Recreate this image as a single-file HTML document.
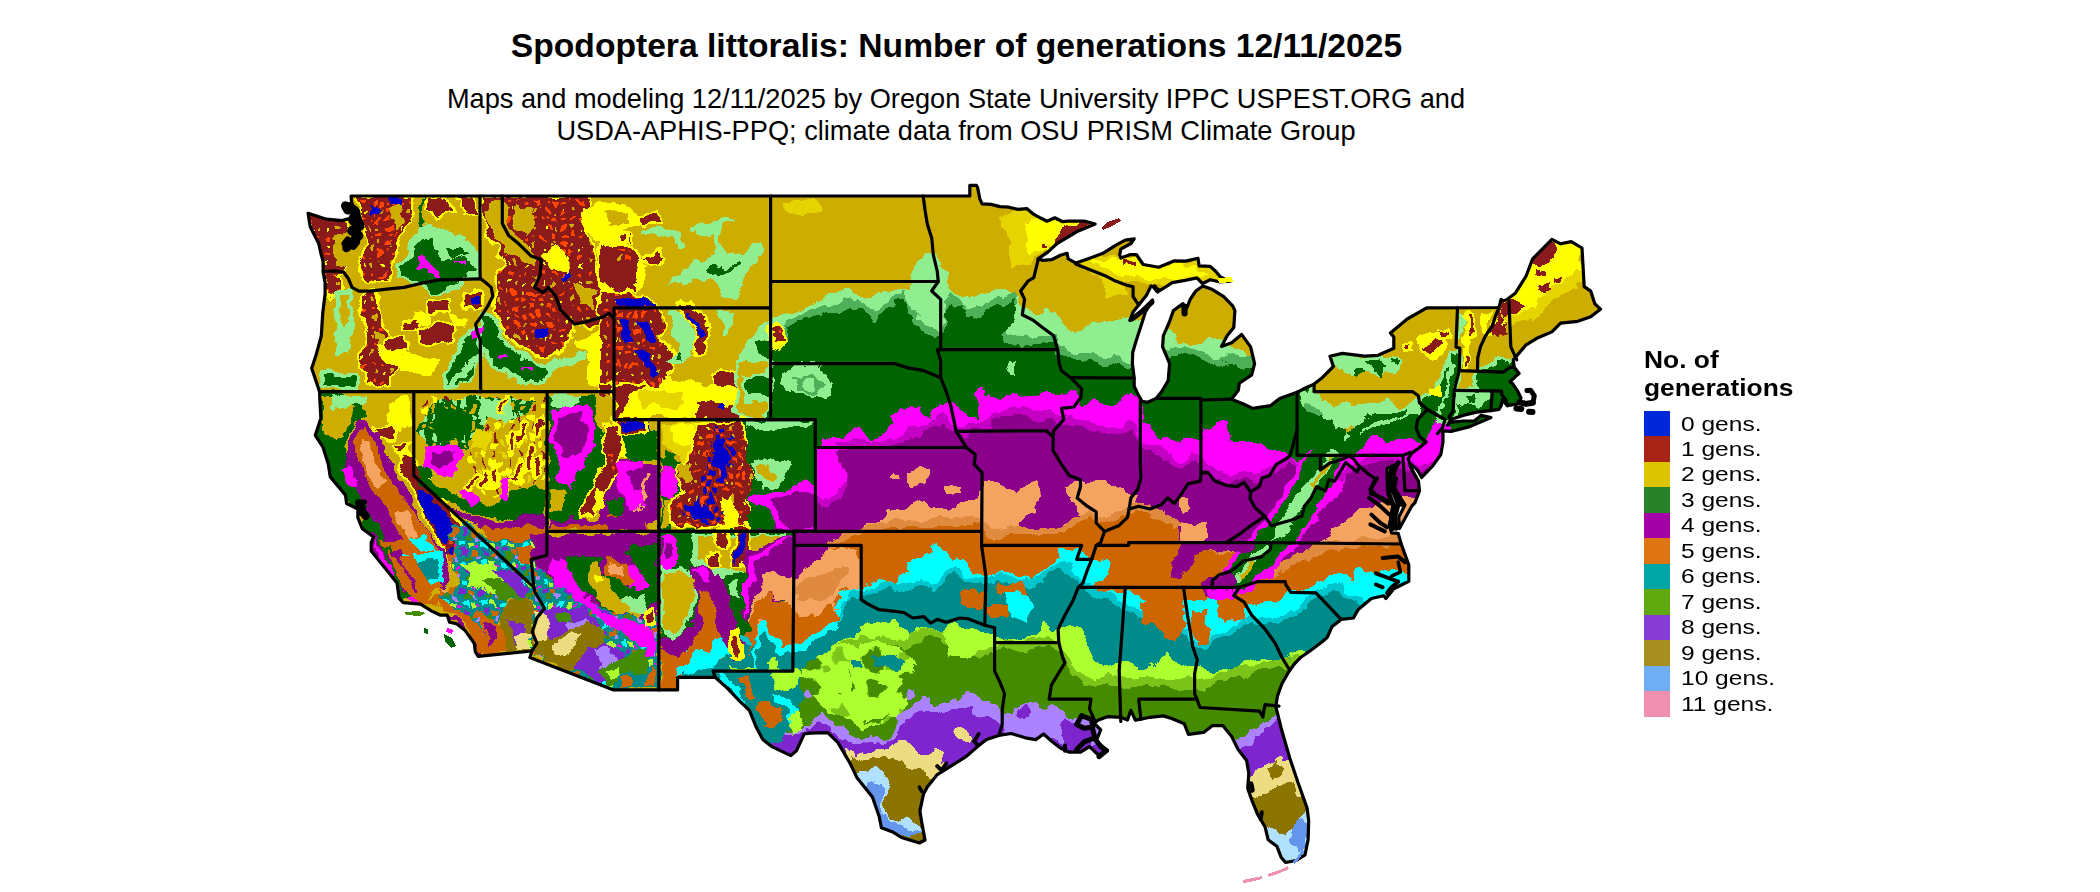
<!DOCTYPE html>
<html><head><meta charset="utf-8"><title>Spodoptera littoralis: Number of generations</title>
<style>
html,body{margin:0;padding:0;background:#fff;}
body{width:2100px;height:892px;position:relative;overflow:hidden;font-family:"Liberation Sans",sans-serif;color:#000;}
#title{position:absolute;left:0;width:1913px;top:27px;text-align:center;font-weight:bold;font-size:33.63px;line-height:38px;white-space:nowrap;}
#sub{position:absolute;left:0;width:1912px;top:83px;text-align:center;font-size:27.2px;line-height:31.9px;white-space:nowrap;}
#legt{position:absolute;left:1644px;top:346px;font-weight:bold;font-size:24.2px;line-height:27.7px;transform:scaleX(1.09);transform-origin:0 0;white-space:nowrap;}
.sw{position:absolute;left:1644px;width:26px;height:26px;}
.lb{position:absolute;left:1680.5px;font-size:19.8px;line-height:26px;white-space:nowrap;transform:scaleX(1.24);transform-origin:0 0;}
svg{position:absolute;left:0;top:0;}
</style></head><body>
<div id="title">Spodoptera littoralis: Number of generations 12/11/2025</div>
<div id="sub">Maps and modeling 12/11/2025 by Oregon State University IPPC USPEST.ORG and<br>USDA-APHIS-PPQ; climate data from OSU PRISM Climate Group</div>
<div id="legt">No. of<br>generations</div>

<div class="sw" style="top:411.0px;background:#0028d9"></div><div class="lb" style="top:410.5px">0 gens.</div>
<div class="sw" style="top:436.4px;background:#a62315"></div><div class="lb" style="top:435.9px">1 gens.</div>
<div class="sw" style="top:461.9px;background:#dcc400"></div><div class="lb" style="top:461.4px">2 gens.</div>
<div class="sw" style="top:487.4px;background:#27822a"></div><div class="lb" style="top:486.9px">3 gens.</div>
<div class="sw" style="top:512.8px;background:#a400a8"></div><div class="lb" style="top:512.3px">4 gens.</div>
<div class="sw" style="top:538.2px;background:#de7512"></div><div class="lb" style="top:537.8px">5 gens.</div>
<div class="sw" style="top:563.7px;background:#00a6a6"></div><div class="lb" style="top:563.2px">6 gens.</div>
<div class="sw" style="top:589.1px;background:#5fa80e"></div><div class="lb" style="top:588.6px">7 gens.</div>
<div class="sw" style="top:614.6px;background:#873cd6"></div><div class="lb" style="top:614.1px">8 gens.</div>
<div class="sw" style="top:640.0px;background:#a68f1f"></div><div class="lb" style="top:639.5px">9 gens.</div>
<div class="sw" style="top:665.5px;background:#6faef2"></div><div class="lb" style="top:665.0px">10 gens.</div>
<div class="sw" style="top:691.0px;background:#f08fb0"></div><div class="lb" style="top:690.5px">11 gens.</div>
<svg width="2100" height="892" viewBox="0 0 2100 892">
<defs><filter id="rough" x="280" y="160" width="1360" height="740" filterUnits="userSpaceOnUse" color-interpolation-filters="sRGB"><feTurbulence type="fractalNoise" baseFrequency="0.06" numOctaves="3" seed="7" result="n"/><feDisplacementMap in="SourceGraphic" in2="n" scale="14" xChannelSelector="R" yChannelSelector="G"/></filter><pattern id="pm" width="16" height="16" patternUnits="userSpaceOnUse"><rect width="16" height="16" fill="#8b1a1a"/><rect x="1" y="2" width="6" height="4" fill="#ff4500"/><rect x="9" y="9" width="5" height="5" fill="#ff4500"/><rect x="3" y="10" width="3" height="3" fill="#ff4500"/><rect x="11" y="2" width="2" height="3" fill="#cdad00"/></pattern><pattern id="pd" width="18" height="18" patternUnits="userSpaceOnUse"><rect width="18" height="18" fill="#8b1a1a"/><rect x="2" y="3" width="4" height="3" fill="#ff4500"/><rect x="11" y="10" width="3" height="4" fill="#cdad00"/><rect x="12" y="2" width="3" height="2" fill="#ff4500"/><rect x="4" y="12" width="2" height="3" fill="#ffff00"/></pattern><pattern id="pb" width="14" height="14" patternUnits="userSpaceOnUse"><rect width="14" height="14" fill="#8b1a1a"/><rect x="1" y="1" width="6" height="5" fill="#0000cd"/><rect x="8" y="7" width="5" height="6" fill="#0000cd"/><rect x="8" y="1" width="4" height="4" fill="#ff4500"/><rect x="1" y="8" width="5" height="4" fill="#ff4500"/></pattern><pattern id="pc" width="20" height="20" patternUnits="userSpaceOnUse"><rect width="20" height="20" fill="#008b8b"/><rect x="1" y="1" width="6" height="5" fill="#00ffff"/><rect x="9" y="2" width="6" height="5" fill="#adff2f"/><rect x="2" y="9" width="6" height="5" fill="#7d26cd"/><rect x="11" y="10" width="6" height="5" fill="#cd6600"/><rect x="6" y="15" width="6" height="4" fill="#458b00"/><rect x="15" y="15" width="4" height="4" fill="#ab82ff"/><rect x="16" y="5" width="3" height="3" fill="#ff00ff"/></pattern><pattern id="pn" width="24" height="18" patternUnits="userSpaceOnUse"><rect width="24" height="18" fill="#cdad00"/><rect x="1" y="1" width="6" height="7" fill="#ffff00"/><rect x="13" y="9" width="5" height="7" fill="#ffff00"/><rect x="15" y="1" width="2" height="6" fill="#8b1a1a"/><rect x="5" y="10" width="2" height="6" fill="#8b1a1a"/><rect x="20" y="4" width="3" height="8" fill="#e6d400"/></pattern><pattern id="pu" width="18" height="18" patternUnits="userSpaceOnUse"><rect width="18" height="18" fill="#006400"/><rect x="1" y="1" width="6" height="6" fill="#ff00ff"/><rect x="10" y="9" width="6" height="6" fill="#8b008b"/><rect x="10" y="1" width="5" height="4" fill="#90ee90"/><rect x="2" y="11" width="4" height="4" fill="#cdad00"/></pattern><pattern id="pg" width="20" height="18" patternUnits="userSpaceOnUse"><rect width="20" height="18" fill="#006400"/><rect x="1" y="0" width="5" height="9" fill="#90ee90"/><rect x="11" y="8" width="5" height="9" fill="#cdad00"/><rect x="13" y="1" width="4" height="5" fill="#90ee90"/><rect x="4" y="11" width="3" height="5" fill="#cdad00"/></pattern><pattern id="pt" width="66" height="54" patternUnits="userSpaceOnUse"><rect width="66" height="54" fill="#adff2f"/><polygon points="4,6 22,2 31,13 22,25 7,21" fill="#458b00"/><polygon points="38,28 58,24 63,40 47,49 36,41" fill="#458b00"/><polygon points="40,4 54,2 58,13 45,16" fill="#7cc41a"/><polygon points="8,33 24,30 27,45 11,48" fill="#458b00"/><polygon points="28,16 36,18 34,26 27,24" fill="#7cc41a"/></pattern><clipPath id="us"><polygon points="351.1,196.0 969.8,196.0 969.8,185.4 976.5,185.4 977.6,187.6 979.8,198.8 982.1,203.8 991.0,204.4 1000.0,206.6 1008.9,207.2 1017.9,209.4 1026.8,208.6 1033.5,214.2 1040.2,217.8 1047.0,221.2 1054.8,217.8 1062.6,221.7 1068.2,221.2 1085.0,221.2 1095.1,224.0 1078.3,230.9 1057.0,243.5 1048.1,251.9 1038.0,258.9 1042.5,260.3 1051.4,259.7 1060.4,255.3 1067.1,253.3 1068.2,258.9 1076.0,263.1 1091.7,257.5 1102.9,253.3 1116.3,244.9 1125.3,240.2 1134.2,238.8 1130.9,243.5 1120.8,249.1 1119.7,254.7 1120.8,258.0 1129.8,254.7 1136.5,254.7 1143.2,264.5 1158.8,267.3 1174.5,260.8 1185.7,261.1 1198.0,258.3 1199.1,265.9 1210.3,266.4 1215.9,271.5 1220.4,277.1 1230.4,281.2 1219.2,281.8 1210.3,279.8 1202.5,283.5 1196.9,277.9 1183.5,280.7 1172.3,282.6 1160.0,290.5 1153.2,286.8 1151.0,286.0 1146.5,295.2 1138.7,305.0 1133.1,312.0 1129.8,320.4 1138.7,313.4 1152.6,300.0 1145.4,312.0 1140.5,327.4 1136.0,341.3 1132.7,352.5 1132.4,363.7 1134.2,378.0 1134.2,386.1 1138.7,395.8 1142.1,401.4 1147.6,402.3 1156.2,398.4 1161.5,391.7 1168.2,380.5 1169.6,363.7 1162.6,346.9 1163.3,335.8 1168.9,323.2 1173.4,310.6 1183.0,303.6 1183.5,313.4 1186.8,307.8 1190.2,299.4 1195.8,291.0 1202.9,286.0 1212.5,289.6 1223.7,296.6 1232.7,305.8 1234.9,310.6 1233.8,327.4 1227.1,335.8 1221.5,346.4 1231.6,342.7 1241.6,334.4 1250.6,346.9 1254.6,363.7 1251.7,374.9 1239.4,383.3 1238.3,390.3 1231.6,399.2 1243.9,404.2 1252.8,408.4 1270.7,405.6 1279.7,398.6 1297.1,392.2 1306.5,387.5 1314.1,384.1 1322.2,377.7 1333.4,366.5 1330.0,356.2 1342.3,353.4 1364.7,356.2 1378.1,355.3 1393.8,348.3 1393.8,337.1 1390.4,333.0 1407.2,319.0 1426.7,307.8 1498.9,307.5 1501.2,299.4 1500.3,301.7 1506.7,299.7 1515.2,293.3 1526.1,276.0 1532.6,258.9 1551.9,239.3 1560.6,243.8 1571.3,241.6 1582.0,248.0 1584.2,286.6 1590.7,291.1 1594.9,303.9 1600.5,309.2 1590.7,316.8 1577.8,321.3 1560.6,323.2 1551.9,331.9 1536.8,338.3 1526.1,344.8 1513.2,359.9 1514.2,367.3 1519.1,373.5 1515.7,376.3 1510.1,381.9 1512.4,383.3 1518.0,391.7 1520.9,397.8 1520.2,402.3 1516.8,404.2 1507.4,405.6 1502.3,400.0 1501.2,405.6 1498.9,409.3 1490.9,410.7 1476.6,412.1 1463.1,415.4 1450.8,419.6 1447.5,425.2 1449.7,422.4 1463.1,421.0 1474.3,421.0 1481.0,415.4 1490.9,417.6 1469.9,426.6 1452.0,431.3 1442.3,430.8 1443.0,434.4 1443.0,442.0 1440.8,454.5 1432.9,465.7 1421.7,477.5 1417.3,469.9 1409.4,462.9 1408.3,458.7 1410.6,467.1 1418.4,481.1 1419.5,490.9 1415.0,502.6 1411.7,506.2 1399.4,528.6 1398.7,517.4 1405.0,504.8 1400.5,497.9 1393.8,486.7 1393.8,475.5 1397.1,464.3 1387.1,468.5 1387.1,478.3 1388.2,492.3 1390.9,502.1 1392.7,506.2 1391.5,516.0 1389.3,524.4 1391.5,532.8 1398.2,533.4 1401.2,544.0 1408.8,564.9 1408.8,581.2 1393.8,588.7 1385.9,598.5 1383.7,595.7 1371.4,598.5 1358.0,609.7 1353.5,618.0 1341.2,619.4 1332.2,626.4 1327.1,637.6 1322.2,641.8 1311.0,650.2 1300.9,657.2 1294.2,664.2 1289.7,670.3 1281.9,683.7 1277.4,696.3 1275.8,706.4 1281.1,728.0 1289.8,758.2 1298.5,783.9 1307.0,807.7 1308.7,820.5 1308.1,839.8 1305.0,854.9 1296.3,860.5 1285.6,862.5 1281.1,857.2 1276.9,846.3 1268.2,839.8 1265.1,827.0 1257.5,814.1 1252.2,801.2 1247.7,788.4 1248.8,773.3 1246.6,760.4 1238.1,749.5 1231.7,736.6 1223.0,725.7 1212.3,725.7 1203.6,732.4 1188.5,734.4 1184.3,723.8 1172.3,718.7 1163.3,715.9 1149.9,717.3 1140.9,719.2 1135.3,720.1 1130.9,710.3 1127.5,720.1 1120.8,717.3 1107.4,716.7 1098.4,720.1 1094.0,722.9 1100.7,729.8 1096.2,741.0 1107.4,750.8 1098.4,755.0 1089.5,746.6 1080.5,752.2 1069.3,752.2 1060.4,748.0 1051.4,741.0 1043.6,734.0 1035.8,739.6 1026.8,738.2 1011.2,733.5 998.9,735.4 986.5,739.6 977.6,746.6 966.4,756.4 950.8,766.2 937.3,774.6 927.3,787.1 923.5,794.1 919.9,810.9 921.7,822.1 925.0,840.0 919.4,843.0 901.5,837.5 892.6,831.9 881.4,827.7 879.2,816.5 872.4,796.9 856.8,777.4 850.1,763.4 837.8,742.4 827.7,732.6 809.8,733.2 804.2,734.0 796.4,750.8 790.8,755.6 771.8,746.6 762.8,739.6 756.1,727.0 749.4,710.3 740.4,701.9 727.0,687.9 715.1,677.3 677.6,677.3 677.6,689.9 613.6,689.9 529.9,657.5 531.9,651.0 478.2,656.3 475.3,651.6 474.2,643.2 465.2,630.6 456.3,623.6 449.5,622.2 447.3,615.2 440.6,615.2 431.7,611.1 420.5,604.1 403.2,602.7 399.2,598.5 397.0,583.1 385.8,569.1 371.2,551.0 371.2,542.6 373.5,537.0 367.9,532.8 362.3,528.6 357.8,517.4 357.8,509.0 346.6,503.5 345.5,495.1 330.3,476.9 328.3,464.3 323.1,447.5 315.3,435.3 320.9,418.2 319.8,398.6 319.6,391.7 311.7,368.2 316.4,353.9 321.3,335.8 322.7,313.4 325.1,293.8 325.1,282.6 323.1,272.3 323.1,261.7 320.9,253.3 318.7,243.5 310.2,226.7 308.1,213.3 326.5,219.2 342.2,220.6 350.0,218.4 353.3,210.0 351.5,201.6 351.1,196.0"/></clipPath></defs>
<g clip-path="url(#us)"><g filter="url(#rough)" shape-rendering="crispEdges">
<rect x="290" y="170" width="1330" height="722" fill="#cdad00"/>
<polygon points="738.0,352.0 748.0,340.0 760.0,328.0 771.0,319.0 780.5,313.1 794.8,309.5 811.4,303.6 823.3,300.0 835.2,294.0 847.1,290.5 854.3,291.7 863.8,297.6 873.3,298.8 882.9,291.7 894.8,288.1 906.7,288.1 912.0,275.0 916.0,258.0 925.0,252.0 936.0,255.0 940.0,262.0 942.4,266.7 947.1,281.0 954.3,290.5 963.8,295.2 973.3,297.6 982.9,292.9 992.4,290.5 1001.9,291.7 1011.4,294.0 1018.6,297.6 1025.7,309.5 1035.2,314.3 1047.1,309.5 1056.7,311.9 1061.4,321.4 1068.6,328.6 1078.1,331.0 1087.6,326.2 1097.1,323.8 1106.7,319.0 1116.2,321.4 1125.7,319.0 1132.9,319.0 1168.6,328.6 1175.7,340.5 1187.6,345.2 1180.0,347.0 1193.1,342.6 1201.9,340.4 1217.2,340.4 1232.6,347.0 1245.7,353.5 1252.3,362.3 1262.0,350.0 1285.0,300.0 1400.0,225.0 1660.0,225.0 1660.0,225.0 1660.0,900.0 738.0,900.0" fill="#90ee90" />
<polygon points="738.0,364.0 755.0,352.0 765.0,344.0 771.0,337.2 782.9,339.6 790.0,320.6 801.9,313.4 818.6,306.3 835.2,303.9 847.1,299.1 854.3,296.8 866.2,306.3 873.3,313.4 882.9,303.9 894.8,293.2 904.3,288.4 909.0,303.9 916.2,315.8 925.7,325.3 937.6,330.1 943.6,320.6 946.0,299.1 951.9,293.2 961.4,296.8 966.2,308.7 978.1,311.0 987.6,303.9 997.1,299.1 1004.3,296.8 1013.8,292.0 1018.6,303.9 1006.7,315.8 1001.9,323.0 1006.7,332.5 1021.0,337.2 1037.6,337.2 1047.1,334.9 1056.7,332.5 1059.0,346.8 1073.3,351.5 1085.2,353.9 1097.1,356.3 1111.4,358.7 1121.0,353.9 1132.9,361.0 1171.0,349.1 1180.5,346.8 1192.4,349.1 1206.7,353.9 1218.6,358.7 1230.5,356.3 1223.8,353.2 1237.0,357.6 1245.7,359.8 1258.0,358.0 1258.0,366.0 1289.0,300.0 1400.0,226.5 1660.0,226.5 1660.0,226.5 1660.0,900.0 738.0,900.0" fill="#4fb05a" />
<polygon points="738.0,372.0 755.0,360.0 765.0,352.0 771.0,345.2 782.9,347.6 790.0,328.6 801.9,321.4 818.6,314.3 835.2,311.9 847.1,307.1 854.3,304.8 866.2,314.3 873.3,321.4 882.9,311.9 894.8,301.2 904.3,296.4 909.0,311.9 916.2,323.8 925.7,333.3 937.6,338.1 943.6,328.6 946.0,307.1 951.9,301.2 961.4,304.8 966.2,316.7 978.1,319.0 987.6,311.9 997.1,307.1 1004.3,304.8 1013.8,300.0 1018.6,311.9 1006.7,323.8 1001.9,331.0 1006.7,340.5 1021.0,345.2 1037.6,345.2 1047.1,342.9 1056.7,340.5 1059.0,354.8 1073.3,359.5 1085.2,361.9 1097.1,364.3 1111.4,366.7 1121.0,361.9 1132.9,369.0 1171.0,357.1 1180.5,354.8 1192.4,357.1 1206.7,361.9 1218.6,366.7 1230.5,364.3 1223.8,361.2 1237.0,365.6 1245.7,367.8 1258.0,366.0 1290.0,300.0 1400.0,227.0 1660.0,227.0 1660.0,227.0 1660.0,900.0 738.0,900.0" fill="#006400" />
<polygon points="760.0,470.0 814.0,470.0 817.0,452.0 818.6,442.9 830.5,438.1 842.4,435.7 851.9,431.0 863.8,433.3 873.3,438.1 882.9,433.3 892.4,426.2 890.0,416.7 899.5,409.5 911.4,404.8 921.0,409.5 930.5,416.7 940.0,407.1 947.1,402.4 954.3,402.4 963.8,411.9 975.7,421.4 978.1,392.9 985.2,388.1 987.6,397.6 999.5,400.0 1006.7,390.5 1016.2,397.6 1028.1,392.9 1037.6,397.6 1047.1,390.5 1059.0,397.6 1071.0,390.5 1078.1,392.9 1082.9,404.8 1092.4,397.6 1101.9,404.8 1116.2,404.8 1123.3,395.2 1132.9,392.9 1140.0,402.4 1142.4,426.2 1149.5,426.2 1159.0,438.1 1168.6,440.5 1180.5,442.9 1192.4,438.1 1201.9,440.5 1201.9,430.2 1208.5,432.4 1215.0,425.8 1223.8,419.2 1232.6,441.2 1245.7,441.2 1258.9,445.5 1272.0,449.9 1283.0,452.1 1293.9,456.5 1305.0,460.0 1318.0,464.0 1335.0,458.0 1353.1,452.1 1361.8,447.7 1368.4,439.0 1377.2,436.8 1388.1,441.2 1399.1,439.0 1410.0,439.0 1421.0,441.2 1427.5,432.4 1434.1,423.6 1442.9,419.2 1447.3,421.4 1450.0,432.0 1470.0,440.0 1660.0,440.0 1660.0,440.0 1660.0,900.0 760.0,900.0" fill="#ff00ff" />
<polygon points="760.0,492.0 814.0,492.0 825.0,497.0 838.0,492.0 845.0,482.0 846.0,462.0 842.0,450.0 835.2,442.0 854.3,439.6 873.3,439.6 892.4,437.2 906.7,430.1 921.0,427.7 930.5,418.2 942.4,415.8 954.3,423.0 963.8,427.7 978.1,423.0 990.0,418.2 1001.9,408.7 1013.8,406.3 1025.7,408.7 1037.6,413.4 1049.5,408.7 1056.7,418.2 1068.6,413.4 1078.1,418.2 1092.4,425.3 1106.7,423.0 1121.0,427.7 1132.9,423.0 1142.4,437.2 1156.7,446.8 1168.6,451.5 1180.0,462.7 1193.1,453.9 1201.9,458.3 1215.0,469.2 1230.4,473.6 1245.7,469.2 1254.5,475.8 1267.6,467.0 1278.6,462.7 1289.5,453.9 1300.0,462.0 1320.0,477.0 1333.3,486.8 1346.5,469.2 1355.2,460.5 1366.2,456.1 1377.2,453.9 1390.3,451.7 1399.1,458.3 1407.8,462.7 1421.0,464.9 1440.0,462.0 1660.0,462.0 1660.0,462.0 1660.0,900.0 760.0,900.0" fill="#c400c4" />
<polygon points="760.0,500.0 814.0,500.0 825.0,505.0 838.0,500.0 845.0,490.0 846.0,470.0 842.0,458.0 835.2,450.0 854.3,447.6 873.3,447.6 892.4,445.2 906.7,438.1 921.0,435.7 930.5,426.2 942.4,423.8 954.3,431.0 963.8,435.7 978.1,431.0 990.0,426.2 1001.9,416.7 1013.8,414.3 1025.7,416.7 1037.6,421.4 1049.5,416.7 1056.7,426.2 1068.6,421.4 1078.1,426.2 1092.4,433.3 1106.7,431.0 1121.0,435.7 1132.9,431.0 1142.4,445.2 1156.7,454.8 1168.6,459.5 1180.0,470.7 1193.1,461.9 1201.9,466.3 1215.0,477.2 1230.4,481.6 1245.7,477.2 1254.5,483.8 1267.6,475.0 1278.6,470.7 1289.5,461.9 1300.0,470.0 1320.0,485.0 1333.3,494.8 1346.5,477.2 1355.2,468.5 1366.2,464.1 1377.2,461.9 1390.3,459.7 1399.1,466.3 1407.8,470.7 1421.0,472.9 1440.0,470.0 1660.0,470.0 1660.0,470.0 1660.0,900.0 760.0,900.0" fill="#8b008b" />
<polygon points="690.0,654.3 747.1,654.3 761.4,594.8 768.6,575.7 778.1,573.3 794.8,571.0 801.9,566.2 818.6,559.0 830.5,547.1 844.8,540.0 856.7,530.5 863.8,523.3 882.9,518.6 890.0,510.2 906.7,506.7 916.2,500.7 930.5,506.7 944.8,511.4 954.3,509.0 968.6,499.5 978.1,497.1 985.2,480.5 994.8,480.5 1004.3,487.6 1013.8,494.8 1025.7,485.2 1032.9,480.5 1042.4,485.2 1037.6,499.5 1032.9,513.8 1021.0,523.3 1021.0,532.9 1037.6,530.5 1056.7,530.5 1063.8,523.3 1078.1,518.6 1073.3,499.5 1066.2,487.6 1073.3,480.5 1087.6,481.7 1097.1,476.9 1106.7,480.5 1111.4,490.0 1125.7,487.6 1140.0,494.8 1132.9,506.7 1144.8,509.0 1159.0,513.8 1173.3,523.3 1190.0,528.1 1200.0,540.0 1215.0,545.0 1240.0,540.0 1257.0,548.0 1258.9,578.0 1276.4,569.2 1298.3,553.9 1320.2,545.1 1333.3,527.6 1346.5,521.1 1361.8,507.9 1377.2,505.7 1390.3,497.0 1399.1,497.0 1420.0,497.0 1660.0,497.0 1660.0,497.0 1660.0,900.0 690.0,900.0" fill="#f4a460" />
<polygon points="690.0,646.3 799.5,646.3 806.7,627.2 835.2,615.3 837.6,598.7 830.5,584.4 823.3,574.9 818.6,560.6 828.1,546.3 840.0,534.4 859.0,526.0 873.3,522.5 892.4,520.1 911.4,520.1 930.5,517.7 954.3,517.7 978.1,515.3 987.6,527.2 999.5,532.0 1009.0,524.9 1021.0,527.2 1040.0,527.2 1059.0,527.2 1073.3,520.1 1082.9,515.3 1092.4,508.2 1097.1,520.1 1106.7,513.0 1121.0,510.6 1130.5,503.4 1144.8,505.8 1159.0,510.6 1173.3,520.1 1187.6,524.9 1200.0,540.0 1215.0,546.0 1237.0,545.0 1255.0,554.0 1272.0,567.8 1302.7,550.3 1333.3,541.5 1361.8,539.3 1399.1,537.1 1420.0,537.0 1660.0,537.0 1660.0,537.0 1660.0,900.0 690.0,900.0" fill="#e08a40" />
<polygon points="690.0,654.3 799.5,654.3 806.7,635.2 835.2,623.3 837.6,606.7 830.5,592.4 823.3,582.9 818.6,568.6 828.1,554.3 840.0,542.4 859.0,534.0 873.3,530.5 892.4,528.1 911.4,528.1 930.5,525.7 954.3,525.7 978.1,523.3 987.6,535.2 999.5,540.0 1009.0,532.9 1021.0,535.2 1040.0,535.2 1059.0,535.2 1073.3,528.1 1082.9,523.3 1092.4,516.2 1097.1,528.1 1106.7,521.0 1121.0,518.6 1130.5,511.4 1144.8,513.8 1159.0,518.6 1173.3,528.1 1187.6,532.9 1200.0,548.0 1215.0,554.0 1237.0,553.0 1255.0,562.0 1272.0,575.8 1302.7,558.3 1333.3,549.5 1361.8,547.3 1399.1,545.1 1420.0,545.0 1660.0,545.0 1660.0,545.0 1660.0,900.0 690.0,900.0" fill="#cd6600" />
<polygon points="690.0,637.6 754.3,637.6 763.8,628.1 775.7,630.5 794.8,637.6 809.0,628.1 821.0,621.0 832.9,623.3 840.0,601.9 835.2,592.4 844.8,594.8 851.9,587.6 859.0,585.2 868.6,582.9 880.5,578.1 894.8,582.9 906.7,575.7 909.0,561.4 918.6,559.0 930.5,551.9 932.9,544.8 942.4,549.5 954.3,556.7 963.8,561.4 975.7,573.3 982.9,575.7 992.4,573.3 1004.3,571.0 1018.6,575.7 1032.9,578.1 1047.1,568.6 1056.7,559.0 1061.4,549.5 1071.0,549.5 1082.9,551.9 1092.4,559.0 1101.9,563.8 1111.4,559.0 1106.7,575.7 1097.1,582.9 1092.4,592.4 1111.4,592.4 1125.7,590.0 1140.0,594.8 1154.3,601.9 1168.6,606.7 1180.5,611.4 1192.4,606.7 1199.5,604.3 1237.0,613.1 1252.3,606.5 1267.6,602.1 1276.4,599.9 1293.9,591.2 1309.2,586.8 1320.2,580.2 1333.3,575.8 1353.1,580.2 1357.4,569.2 1368.4,569.2 1377.2,571.4 1420.0,571.0 1660.0,571.0 1660.0,571.0 1660.0,900.0 690.0,900.0" fill="#00ffff" />
<polygon points="690.0,637.8 756.7,637.8 775.7,635.4 794.8,637.8 818.6,621.1 835.2,618.7 847.1,599.7 851.9,587.8 863.8,587.8 873.3,585.4 887.6,580.6 901.9,585.4 911.4,585.4 921.0,575.9 932.9,585.4 942.4,575.9 954.3,566.3 968.6,575.9 978.1,578.2 987.6,575.9 1001.9,573.5 1025.7,580.6 1040.0,575.9 1049.5,568.7 1061.4,561.6 1071.0,566.3 1078.1,575.9 1082.9,583.0 1097.1,590.1 1111.4,594.9 1125.7,604.4 1135.2,609.2 1149.5,614.0 1163.8,623.5 1178.1,625.9 1187.6,628.2 1190.0,639.0 1206.0,641.0 1220.0,633.0 1232.0,627.0 1244.0,619.0 1252.0,615.0 1264.0,619.0 1280.0,617.0 1292.0,611.0 1310.0,593.0 1322.0,586.0 1335.0,583.0 1345.0,590.0 1355.0,595.0 1362.0,603.0 1420.0,603.0 1660.0,603.0 1660.0,603.0 1660.0,900.0 690.0,900.0" fill="#00c5cd" />
<polygon points="690.0,644.8 756.7,644.8 775.7,642.4 794.8,644.8 818.6,628.1 835.2,625.7 847.1,606.7 851.9,594.8 863.8,594.8 873.3,592.4 887.6,587.6 901.9,592.4 911.4,592.4 921.0,582.9 932.9,592.4 942.4,582.9 954.3,573.3 968.6,582.9 978.1,585.2 987.6,582.9 1001.9,580.5 1025.7,587.6 1040.0,582.9 1049.5,575.7 1061.4,568.6 1071.0,573.3 1078.1,582.9 1082.9,590.0 1097.1,597.1 1111.4,601.9 1125.7,611.4 1135.2,616.2 1149.5,621.0 1163.8,630.5 1178.1,632.9 1187.6,635.2 1190.0,646.0 1206.0,648.0 1220.0,640.0 1232.0,634.0 1244.0,626.0 1252.0,622.0 1264.0,626.0 1280.0,624.0 1292.0,618.0 1310.0,600.0 1322.0,593.0 1335.0,590.0 1345.0,597.0 1355.0,602.0 1362.0,610.0 1420.0,610.0 1660.0,610.0 1660.0,610.0 1660.0,900.0 690.0,900.0" fill="#008b8b" />
<polygon points="690.0,667.6 766.2,667.6 771.0,655.7 780.5,667.6 801.9,667.6 811.4,660.5 825.7,653.3 830.5,641.4 840.0,641.4 851.9,634.3 859.0,624.8 873.3,622.4 892.4,620.0 901.9,631.9 911.4,639.0 916.2,629.5 925.7,624.8 942.4,631.9 954.3,622.4 968.6,629.5 980.5,631.9 992.4,634.3 1001.9,639.0 1016.2,639.0 1032.9,636.7 1044.8,624.8 1054.3,634.3 1061.4,629.5 1071.0,624.8 1082.9,629.5 1087.6,643.8 1094.8,658.1 1106.7,667.6 1116.2,662.9 1130.5,662.9 1144.8,667.6 1156.7,662.9 1168.6,651.0 1175.7,660.5 1187.6,667.6 1201.9,665.2 1216.2,670.0 1224.0,668.0 1236.0,672.0 1244.0,660.0 1256.0,658.0 1268.0,658.0 1280.0,660.0 1288.0,658.0 1300.0,650.0 1660.0,640.0 1660.0,640.0 1660.0,900.0 690.0,900.0" fill="#adff2f" />
<polygon points="690.0,672.9 768.6,672.9 787.6,668.1 811.4,658.6 830.5,651.5 844.8,639.6 859.0,634.8 873.3,642.0 887.6,634.8 906.7,639.6 916.2,632.4 925.7,625.3 942.4,632.4 954.3,639.6 968.6,646.7 980.5,651.5 992.4,646.7 1001.9,637.2 1016.2,642.0 1032.9,639.6 1049.5,637.2 1059.0,644.3 1068.6,658.6 1080.5,672.9 1094.8,677.7 1109.0,675.3 1121.0,680.0 1135.2,677.7 1149.5,675.3 1163.8,677.7 1180.5,680.0 1197.1,680.0 1200.0,679.0 1212.0,673.0 1224.0,671.0 1236.0,669.0 1248.0,667.0 1260.0,661.0 1272.0,659.0 1284.0,659.0 1300.0,656.0 1660.0,651.0 1660.0,651.0 1660.0,900.0 690.0,900.0" fill="#7cc41a" />
<polygon points="690.0,681.9 768.6,681.9 787.6,677.1 811.4,667.6 830.5,660.5 844.8,648.6 859.0,643.8 873.3,651.0 887.6,643.8 906.7,648.6 916.2,641.4 925.7,634.3 942.4,641.4 954.3,648.6 968.6,655.7 980.5,660.5 992.4,655.7 1001.9,646.2 1016.2,651.0 1032.9,648.6 1049.5,646.2 1059.0,653.3 1068.6,667.6 1080.5,681.9 1094.8,686.7 1109.0,684.3 1121.0,689.0 1135.2,686.7 1149.5,684.3 1163.8,686.7 1180.5,689.0 1197.1,689.0 1200.0,688.0 1212.0,682.0 1224.0,680.0 1236.0,678.0 1248.0,676.0 1260.0,670.0 1272.0,668.0 1284.0,668.0 1300.0,665.0 1660.0,660.0 1660.0,660.0 1660.0,900.0 690.0,900.0" fill="#458b00" />
<polygon points="690.0,731.9 794.8,731.9 811.4,724.8 821.0,712.9 830.5,722.4 844.8,731.9 859.0,736.7 873.3,739.0 887.6,736.7 897.1,727.1 897.1,710.5 906.7,708.1 913.8,703.3 923.3,698.6 935.2,703.3 947.1,701.0 959.0,698.6 968.6,693.8 980.5,701.0 990.0,701.0 999.5,710.5 1009.0,715.2 1013.8,708.1 1025.7,705.7 1037.6,703.3 1044.8,712.9 1054.3,708.1 1063.8,715.2 1073.3,720.0 1082.9,717.6 1094.8,720.0 1100.0,722.0 1110.0,742.0 1225.0,746.0 1238.0,738.0 1244.0,736.0 1252.0,728.0 1260.0,724.0 1268.0,718.0 1274.0,712.0 1290.0,708.0 1660.0,700.0 1660.0,700.0 1660.0,900.0 690.0,900.0" fill="#ab82ff" />
<polygon points="690.0,734.3 799.5,734.3 818.6,724.8 835.2,734.3 847.1,741.4 863.8,743.8 882.9,741.4 897.1,734.3 904.3,717.6 916.2,712.9 930.5,710.5 942.4,715.2 954.3,708.1 968.6,708.1 978.1,715.2 987.6,720.0 999.5,724.8 1005.0,740.0 1235.0,752.0 1240.0,748.0 1248.0,744.0 1256.0,736.0 1264.0,732.0 1270.0,724.0 1276.0,718.0 1290.0,716.0 1660.0,715.0 1660.0,715.0 1660.0,900.0 690.0,900.0" fill="#7d26cd" />
<polygon points="1016.2,710.5 1023.3,706.9 1030.5,710.5 1029.3,716.4 1021.0,718.1 1016.2,715.2" fill="#7d26cd" />
<polygon points="1056.7,724.8 1066.2,720.0 1078.1,724.8 1090.0,727.1 1094.8,736.7 1090.0,743.8 1078.1,746.2 1068.6,741.4 1059.0,734.3" fill="#7d26cd" />
<polygon points="801.9,690.2 809.0,689.0 811.4,696.2 805.5,698.6" fill="#ab82ff" />
<polygon points="906.7,692.6 915.0,691.4 916.2,697.4 907.9,698.6" fill="#ab82ff" />
<polygon points="844.8,746.2 854.3,753.3 873.3,751.0 887.6,748.6 894.8,741.4 904.3,743.8 916.2,751.0 930.5,753.3 937.6,748.6 942.4,760.5 960.0,775.0 960.0,900.0 840.0,900.0" fill="#eedc82" />
<polygon points="849.5,753.3 863.8,760.5 882.9,758.1 901.9,760.5 911.4,767.6 921.0,772.4 928.1,777.1 950.0,790.0 950.0,900.0 845.0,900.0" fill="#8b7500" />
<polygon points="954.3,731.9 961.4,727.1 969.8,731.9 968.6,739.0 959.0,740.2" fill="#eedc82" />
<polygon points="928.1,753.3 937.6,749.8 940.0,760.5 930.5,765.2 924.5,760.5" fill="#eedc82" />
<polygon points="856.7,772.4 861.4,772.4 878.1,768.8 892.4,781.9 887.6,793.8 882.9,803.3 885.2,815.2 894.8,822.4 906.7,817.6 916.2,824.8 923.3,834.3 859.0,834.3 847.1,786.7" fill="#b0e2ff" />
<polygon points="868.6,781.9 882.9,784.3 885.7,791.4 881.0,801.0 881.0,810.5 887.6,821.2 896.0,826.7 911.4,829.0 921.0,834.3 873.3,834.3 863.8,801.0" fill="#6495ed" />
<polygon points="1239.7,786.6 1249.5,776.8 1265.9,763.7 1282.2,760.4 1292.0,763.7 1334.6,763.7 1334.6,894.6 1239.7,894.6" fill="#eedc82" />
<polygon points="1249.5,799.7 1257.7,796.4 1269.1,793.8 1282.2,784.9 1290.4,783.3 1298.6,796.4 1334.6,796.4 1334.6,894.6 1249.5,894.6" fill="#8b7500" />
<polygon points="1269.1,766.9 1279.0,762.0 1283.9,770.2 1275.7,776.8" fill="#8b7500" />
<polygon points="1252.8,817.7 1262.6,822.6 1269.1,829.1 1279.0,836.3 1288.8,830.8 1298.6,822.6 1301.9,814.4 1334.6,814.4 1334.6,894.6 1249.5,894.6" fill="#b0e2ff" />
<polygon points="1293.7,822.6 1301.9,817.7 1306.8,829.1 1305.1,848.8 1298.6,852.0 1292.0,839.0" fill="#6495ed" />
<polygon points="483.0,197.1 589.0,197.1 580.6,213.9 587.8,238.0 592.7,257.3 597.5,286.2 615.6,305.5 615.6,323.6 574.6,326.0 567.4,320.0 572.2,339.3 555.3,352.5 526.4,350.1 507.1,335.6 496.3,310.3 495.0,281.4 504.7,264.5 499.9,245.3 487.8,233.2 483.0,213.9" fill="#ffff00" stroke="#ffff00" stroke-width="5" stroke-linejoin="round"/>
<polygon points="483.0,197.1 589.0,197.1 580.6,213.9 587.8,238.0 592.7,257.3 597.5,286.2 615.6,305.5 615.6,323.6 574.6,326.0 567.4,320.0 572.2,339.3 555.3,352.5 526.4,350.1 507.1,335.6 496.3,310.3 495.0,281.4 504.7,264.5 499.9,245.3 487.8,233.2 483.0,213.9" fill="url(#pd)" />
<polygon points="536.0,199.5 557.7,198.3 567.4,218.7 574.6,247.7 567.4,264.5 555.3,245.3 545.7,223.6" fill="url(#pm)" />
<polygon points="507.1,291.0 526.4,286.2 545.7,298.3 555.3,320.0 540.8,339.3 521.6,334.4 509.5,315.2" fill="url(#pm)" />
<polygon points="487.8,199.5 502.3,201.9 507.1,223.6 526.4,247.7 536.0,257.3 533.6,264.5 511.9,257.3 495.0,235.6 485.4,221.2" fill="#cdad00" />
<polygon points="511.9,209.1 531.2,206.7 536.0,223.6 526.4,233.2 514.3,226.0" fill="#cdad00" />
<polygon points="540.8,252.5 557.7,247.7 572.2,257.3 569.8,271.8 550.5,269.4" fill="#ffff00" />
<polygon points="574.6,286.2 593.9,288.6 596.3,305.5 579.4,305.5" fill="#cdad00" />
<polygon points="560.1,276.6 572.2,269.4 574.6,275.4 562.5,281.4" fill="#0000cd" />
<polygon points="601.1,300.7 615.6,298.3 615.6,307.9 603.5,309.1" fill="#0000cd" />
<polygon points="533.6,329.6 545.7,327.2 548.1,334.4 536.0,339.3" fill="#0000cd" />
<polygon points="580.6,205.5 605.9,199.9 632.4,206.7 642.1,221.2 625.2,230.8 615.6,245.3 596.3,244.1 585.4,226.0" fill="#ffff00" />
<polygon points="605.9,211.5 627.6,213.9 625.2,226.0 608.3,223.6" fill="#cdad00" />
<polygon points="598.7,251.3 615.6,245.3 637.3,252.5 643.3,266.9 628.8,281.4 608.3,277.8 599.9,264.5" fill="#ffff00" stroke="#ffff00" stroke-width="5" stroke-linejoin="round"/>
<polygon points="598.7,251.3 615.6,245.3 637.3,252.5 643.3,266.9 628.8,281.4 608.3,277.8 599.9,264.5" fill="#8b1a1a" />
<polygon points="610.7,251.3 632.4,254.9 637.3,264.5 618.0,269.4" fill="url(#pm)" />
<polygon points="622.8,236.8 631.2,236.1 631.9,241.6 623.3,242.4" fill="#ffff00" stroke="#ffff00" stroke-width="5" stroke-linejoin="round"/>
<polygon points="622.8,236.8 631.2,236.1 631.9,241.6 623.3,242.4" fill="#8b1a1a" />
<polygon points="615.6,307.9 645.0,307.9 645.0,389.9 615.6,389.9" fill="#ffff00" stroke="#ffff00" stroke-width="5" stroke-linejoin="round"/>
<polygon points="615.6,307.9 645.0,307.9 645.0,389.9 615.6,389.9" fill="url(#pd)" />
<polygon points="632.4,320.0 645.0,315.2 645.0,353.7 634.8,351.3" fill="#0000cd" />
<polygon points="618.0,315.2 632.4,315.2 632.4,377.8 619.2,377.8" fill="url(#pm)" />
<polygon points="577.0,339.3 598.7,329.6 610.7,344.1 605.9,368.2 596.3,389.9 584.2,377.8 589.0,358.5" fill="#ffff00" />
<polygon points="308.3,211.5 343.2,211.5 346.8,228.4 339.6,247.7 343.2,266.9 338.4,271.8 339.6,293.5 331.2,297.1 323.9,286.2 325.1,266.9 319.1,252.5 314.3,233.2" fill="#ffff00" stroke="#ffff00" stroke-width="5" stroke-linejoin="round"/>
<polygon points="308.3,211.5 343.2,211.5 346.8,228.4 339.6,247.7 343.2,266.9 338.4,271.8 339.6,293.5 331.2,297.1 323.9,286.2 325.1,266.9 319.1,252.5 314.3,233.2" fill="url(#pd)" />
<polygon points="331.2,236.8 346.8,232.0 355.3,247.7 350.4,268.2 337.2,265.7 333.6,252.5" fill="#cdad00" />
<polygon points="358.9,197.1 410.7,197.1 411.9,213.9 402.3,233.2 392.6,257.3 387.8,277.8 367.3,282.6 358.9,264.5 367.3,245.3 363.7,221.2" fill="#ffff00" stroke="#ffff00" stroke-width="5" stroke-linejoin="round"/>
<polygon points="358.9,197.1 410.7,197.1 411.9,213.9 402.3,233.2 392.6,257.3 387.8,277.8 367.3,282.6 358.9,264.5 367.3,245.3 363.7,221.2" fill="url(#pd)" />
<polygon points="372.1,201.9 396.2,199.5 401.0,221.2 391.4,245.3 381.8,264.5 374.5,245.3 374.5,221.2" fill="url(#pm)" />
<polygon points="389.0,209.1 401.0,204.3 403.5,223.6 393.8,230.8" fill="#cdad00" />
<polygon points="367.3,206.7 376.9,204.3 378.2,211.5 368.5,212.7" fill="#0000cd" />
<polygon points="391.4,199.5 401.0,199.0 401.5,204.3 391.9,204.8" fill="#0000cd" />
<polygon points="430.0,199.5 444.4,198.3 449.3,211.5 437.2,216.3 428.8,209.1" fill="#ffff00" stroke="#ffff00" stroke-width="5" stroke-linejoin="round"/>
<polygon points="430.0,199.5 444.4,198.3 449.3,211.5 437.2,216.3 428.8,209.1" fill="#8b1a1a" />
<polygon points="458.9,198.3 475.8,198.3 476.2,213.9 463.7,211.5" fill="#ffff00" stroke="#ffff00" stroke-width="5" stroke-linejoin="round"/>
<polygon points="458.9,198.3 475.8,198.3 476.2,213.9 463.7,211.5" fill="#8b1a1a" />
<polygon points="395.0,265.7 410.7,240.4 425.2,224.8 444.4,229.6 468.5,239.2 478.7,257.3 481.1,277.8 463.7,282.6 450.5,292.3 430.0,294.7 410.7,282.6 398.2,277.8" fill="#90ee90" />
<polygon points="397.4,268.2 415.5,245.3 428.8,235.6 433.6,247.7 439.6,257.3 451.7,259.7 463.7,257.3 474.6,265.7 464.9,279.0 445.6,289.8 430.0,292.3 415.5,280.2 401.0,275.4" fill="#006400" />
<polygon points="437.2,236.8 461.3,239.2 472.2,250.1 461.3,256.1 449.3,253.7 439.6,246.5" fill="#90ee90" />
<polygon points="444.4,248.9 461.3,246.5 468.5,254.9 454.1,258.5" fill="#006400" />
<polygon points="414.3,257.3 422.7,255.4 432.9,266.9 440.1,277.1 432.9,278.5 420.3,268.2" fill="#ff00ff" />
<polygon points="455.3,262.6 466.1,260.9 466.6,264.1 456.0,265.7" fill="#ff00ff" />
<path d="M425.2 226.0 L420.3 209.1 L426.4 198.3" fill="none" stroke="#006400" stroke-width="3"/>
<polygon points="333.6,292.3 350.9,291.5 354.5,320.0 348.5,353.7 336.5,353.7 333.6,329.6" fill="#90ee90" />
<polygon points="339.6,298.3 348.0,298.3 349.2,320.0 340.8,329.6" fill="#cdad00" />
<polygon points="359.6,298.3 375.0,293.5 379.8,320.0 391.9,339.3 397.4,368.2 387.8,386.3 367.3,383.8 362.5,353.7 367.8,329.6" fill="#ffff00" stroke="#ffff00" stroke-width="5" stroke-linejoin="round"/>
<polygon points="359.6,298.3 375.0,293.5 379.8,320.0 391.9,339.3 397.4,368.2 387.8,386.3 367.3,383.8 362.5,353.7 367.8,329.6" fill="url(#pd)" />
<polygon points="374.5,329.6 384.2,334.4 386.6,353.7 376.9,351.3" fill="#cdad00" />
<polygon points="383.0,340.5 403.5,339.3 404.7,348.9 384.2,350.1" fill="#ffff00" stroke="#ffff00" stroke-width="5" stroke-linejoin="round"/>
<polygon points="383.0,340.5 403.5,339.3 404.7,348.9 384.2,350.1" fill="#8b1a1a" />
<polygon points="419.1,329.6 430.0,324.8 454.1,326.0 455.3,339.3 439.6,341.7 420.3,341.7" fill="#ffff00" stroke="#ffff00" stroke-width="5" stroke-linejoin="round"/>
<polygon points="419.1,329.6 430.0,324.8 454.1,326.0 455.3,339.3 439.6,341.7 420.3,341.7" fill="#8b1a1a" />
<polygon points="428.8,301.9 449.3,300.7 450.5,312.7 430.0,313.9" fill="#ffff00" stroke="#ffff00" stroke-width="5" stroke-linejoin="round"/>
<polygon points="428.8,301.9 449.3,300.7 450.5,312.7 430.0,313.9" fill="#8b1a1a" />
<polygon points="463.7,294.7 480.6,293.5 481.8,305.5 464.9,306.7" fill="#ffff00" stroke="#ffff00" stroke-width="5" stroke-linejoin="round"/>
<polygon points="463.7,294.7 480.6,293.5 481.8,305.5 464.9,306.7" fill="#8b1a1a" />
<polygon points="470.9,298.3 479.4,297.8 479.9,303.1 471.4,303.6" fill="#0000cd" />
<polygon points="401.0,320.0 415.5,318.8 416.7,327.2 402.3,328.4" fill="#ffff00" stroke="#ffff00" stroke-width="5" stroke-linejoin="round"/>
<polygon points="401.0,320.0 415.5,318.8 416.7,327.2 402.3,328.4" fill="#8b1a1a" />
<polygon points="374.5,344.1 396.2,351.3 420.3,353.7 439.6,363.4 430.0,375.4 403.5,370.6 386.6,363.4" fill="#ffff00" />
<polygon points="415.5,310.3 430.0,315.2 425.2,324.8 413.1,322.4" fill="#ffff00" />
<polygon points="449.3,315.2 468.5,320.0 463.7,329.6 451.7,327.2" fill="#ffff00" />
<polygon points="320.3,370.6 357.7,370.6 358.1,389.9 320.3,389.9" fill="#90ee90" />
<polygon points="323.9,374.2 355.3,373.5 355.3,387.0 323.9,387.5" fill="#006400" />
<polygon points="442.5,375.4 463.7,353.7 477.7,336.8 481.1,320.0 493.1,315.2 500.4,334.4 507.6,353.7 526.9,363.4 546.1,364.6 560.1,356.6 584.2,351.3 587.1,359.0 565.4,366.2 548.6,378.3 531.7,383.1 507.6,378.3 488.3,363.8 480.6,353.7 473.8,378.3 454.6,390.4 442.5,385.5" fill="#90ee90" />
<polygon points="483.5,324.8 491.4,322.4 497.9,341.7 510.0,358.5 531.7,365.8 543.3,371.8 531.7,378.3 510.0,373.5 490.7,359.0 484.7,341.7" fill="#006400" />
<polygon points="449.3,377.8 468.5,363.4 474.6,353.7 473.4,375.4 456.5,387.5" fill="#006400" />
<polygon points="470.9,330.8 479.4,329.6 480.1,336.8 471.7,338.0" fill="#ff00ff" />
<polygon points="513.1,363.4 522.8,362.2 523.2,365.8 513.6,367.0" fill="#ff00ff" />
<polygon points="665.1,286.2 679.5,274.2 691.6,264.5 706.0,257.3 725.3,254.9 744.6,250.1 759.1,242.8 762.0,253.0 749.9,267.4 745.1,281.9 735.5,298.8 721.0,298.8 716.2,281.9 701.7,279.5 682.4,284.3" fill="#90ee90" />
<polygon points="641.0,228.4 660.3,226.0 679.5,233.2 684.8,248.1 677.6,248.1 672.3,238.5 643.4,233.7" fill="#90ee90" />
<polygon points="691.6,228.9 713.3,219.2 735.0,221.2 721.0,226.5 718.6,240.9 725.8,255.4 716.2,257.8 713.3,233.7 696.9,233.7" fill="#90ee90" />
<polygon points="706.0,267.4 713.3,264.5 725.3,268.2 737.9,262.1 740.3,265.7 728.2,272.2 713.8,274.7" fill="#006400" />
<polygon points="600.0,242.8 619.3,240.9 638.6,248.1 647.0,266.9 641.0,283.8 628.9,291.0 600.0,288.6" fill="#ffff00" />
<polygon points="600.0,248.1 614.5,245.3 633.7,250.1 641.5,262.6 631.8,277.1 636.6,286.7 614.9,289.1 600.0,281.9" fill="#ffff00" stroke="#ffff00" stroke-width="5" stroke-linejoin="round"/>
<polygon points="600.0,248.1 614.5,245.3 633.7,250.1 641.5,262.6 631.8,277.1 636.6,286.7 614.9,289.1 600.0,281.9" fill="#8b1a1a" />
<polygon points="614.5,250.6 631.3,252.0 633.7,262.6 616.9,262.1" fill="url(#pm)" />
<polygon points="641.0,215.1 655.9,213.9 658.3,220.2 643.9,222.6" fill="#ffff00" stroke="#ffff00" stroke-width="5" stroke-linejoin="round"/>
<polygon points="641.0,215.1 655.9,213.9 658.3,220.2 643.9,222.6" fill="#8b1a1a" />
<polygon points="645.8,254.9 660.7,253.7 663.1,260.2 648.7,262.6" fill="#ffff00" stroke="#ffff00" stroke-width="5" stroke-linejoin="round"/>
<polygon points="645.8,254.9 660.7,253.7 663.1,260.2 648.7,262.6" fill="#8b1a1a" />
<polygon points="621.7,236.8 628.0,236.6 628.2,241.9 621.9,242.1" fill="#ffff00" stroke="#ffff00" stroke-width="5" stroke-linejoin="round"/>
<polygon points="621.7,236.8 628.0,236.6 628.2,241.9 621.9,242.1" fill="#8b1a1a" />
<polygon points="624.1,392.3 662.7,377.8 701.2,382.6 710.9,400.0 624.1,400.0" fill="#ffff00" />
<polygon points="600.0,291.0 628.9,291.0 653.5,301.2 663.1,320.5 660.7,339.7 670.4,354.2 668.0,378.3 648.7,390.4 631.8,395.2 617.4,400.0 600.0,400.0" fill="#ffff00" stroke="#ffff00" stroke-width="5" stroke-linejoin="round"/>
<polygon points="600.0,291.0 628.9,291.0 653.5,301.2 663.1,320.5 660.7,339.7 670.4,354.2 668.0,378.3 648.7,390.4 631.8,395.2 617.4,400.0 600.0,400.0" fill="url(#pd)" />
<polygon points="616.9,307.9 648.2,305.5 650.6,329.6 636.2,353.7 621.7,377.8 616.9,353.7" fill="url(#pm)" />
<polygon points="614.5,298.3 643.4,297.1 655.4,305.5 638.6,310.3 619.3,307.9" fill="#0000cd" />
<polygon points="636.2,320.0 648.2,322.4 657.8,339.3 650.6,341.7 638.6,329.6" fill="#0000cd" />
<polygon points="636.2,348.9 645.8,351.3 663.1,375.9 655.9,377.8 638.6,358.5" fill="#0000cd" />
<polygon points="621.7,320.0 631.3,320.0 631.3,339.3 624.1,344.1" fill="#0000cd" />
<polygon points="669.9,315.2 682.4,312.7 696.9,339.7 692.1,354.2 684.8,363.8 670.4,366.2 667.5,359.0 677.6,351.8 675.2,334.9" fill="#90ee90" />
<polygon points="674.7,353.7 681.9,353.2 682.4,360.9 675.2,361.4" fill="#006400" />
<polygon points="681.5,302.6 689.7,305.5 704.1,320.0 708.9,334.9 704.1,351.8 696.4,354.2 699.3,339.7 694.5,325.3 684.4,313.2" fill="#ffff00" stroke="#ffff00" stroke-width="5" stroke-linejoin="round"/>
<polygon points="681.5,302.6 689.7,305.5 704.1,320.0 708.9,334.9 704.1,351.8 696.4,354.2 699.3,339.7 694.5,325.3 684.4,313.2" fill="#8b1a1a" />
<polygon points="688.0,310.3 701.2,324.8 705.1,337.3 701.2,339.7 696.4,327.7 686.8,314.2" fill="#0000cd" />
<polygon points="718.1,310.3 735.0,312.7 730.6,327.7 723.4,334.9" fill="#90ee90" />
<polygon points="713.3,377.8 721.0,370.6 735.5,377.8 742.7,387.9 725.8,390.4 713.3,387.9" fill="#ffff00" stroke="#ffff00" stroke-width="5" stroke-linejoin="round"/>
<polygon points="713.3,377.8 721.0,370.6 735.5,377.8 742.7,387.9 725.8,390.4 713.3,387.9" fill="#8b1a1a" />
<polygon points="743.6,344.6 759.1,336.8 769.2,339.3 769.2,368.7 754.7,366.2 744.6,359.0" fill="#90ee90" />
<polygon points="756.7,342.1 769.2,339.7 769.2,362.6 759.6,359.0" fill="#006400" />
<polygon points="742.2,386.3 756.7,376.6 769.2,379.0 769.2,400.0 742.2,400.0" fill="#90ee90" />
<polygon points="745.1,387.9 757.1,379.7 769.2,381.4 769.2,400.0 745.1,400.0" fill="#006400" />
<polygon points="765.8,327.2 775.9,324.3 785.1,329.6 785.6,344.1 778.4,350.1 768.7,346.5" fill="#ffff00" />
<polygon points="771.6,327.7 782.0,328.6 782.7,341.7 772.6,343.1" fill="#ffff00" stroke="#ffff00" stroke-width="5" stroke-linejoin="round"/>
<polygon points="771.6,327.7 782.0,328.6 782.7,341.7 772.6,343.1" fill="#8b1a1a" />
<polygon points="774.7,332.0 779.6,332.5 779.8,338.3 775.0,338.3" fill="url(#pm)" />
<polygon points="783.2,201.9 816.9,199.5 821.7,211.5 792.8,216.3" fill="#e6d400" />
<polygon points="616.9,385.0 744.6,385.0 744.6,399.5 735.0,416.8 616.9,416.8" fill="#ffff00" />
<polygon points="636.2,389.8 684.4,392.2 679.5,409.1 641.0,406.7" fill="#e6d400" />
<polygon points="600.0,385.0 616.9,385.0 616.9,416.8 600.0,416.8" fill="#ffff00" stroke="#ffff00" stroke-width="5" stroke-linejoin="round"/>
<polygon points="600.0,385.0 616.9,385.0 616.9,416.8 600.0,416.8" fill="#8b1a1a" />
<polygon points="614.7,385.0 644.3,385.0 630.4,395.4 621.7,406.0 618.3,418.0 614.7,418.0" fill="#ffff00" stroke="#ffff00" stroke-width="5" stroke-linejoin="round"/>
<polygon points="614.7,385.0 644.3,385.0 630.4,395.4 621.7,406.0 618.3,418.0 614.7,418.0" fill="#8b1a1a" />
<polygon points="694.0,404.3 713.3,401.9 725.8,409.1 742.7,404.3 742.7,419.2 696.4,419.2" fill="#ffff00" stroke="#ffff00" stroke-width="5" stroke-linejoin="round"/>
<polygon points="694.0,404.3 713.3,401.9 725.8,409.1 742.7,404.3 742.7,419.2 696.4,419.2" fill="#8b1a1a" />
<polygon points="716.9,405.5 724.1,405.5 724.1,411.5 716.9,411.5" fill="#0000cd" />
<polygon points="661.5,423.6 694.0,422.4 708.5,433.2 696.4,457.3 681.9,464.5 672.3,447.7 661.5,445.3" fill="#e6d400" />
<polygon points="672.3,424.8 691.6,424.8 696.4,438.0 684.4,445.3 674.7,438.0" fill="#ffff00" />
<polygon points="665.1,450.1 674.7,452.5 673.5,462.1 664.6,460.9" fill="#006400" />
<polygon points="660.3,454.9 681.9,464.5 679.5,491.0 669.9,505.5 672.3,529.6 660.3,529.6" fill="#006400" />
<polygon points="660.7,464.5 672.3,466.9 679.5,481.4 672.3,498.3 661.5,498.3" fill="#ff00ff" />
<polygon points="661.5,500.7 672.3,498.3 677.1,520.0 662.7,527.2" fill="#cdad00" />
<polygon points="672.3,520.0 669.9,505.5 681.9,491.0 679.5,471.8 692.1,447.7 696.9,426.0 716.2,421.2 737.9,421.2 745.1,445.3 749.9,464.5 754.7,486.7 745.1,498.8 749.9,520.5 745.1,530.1 735.0,530.1 715.7,525.3 696.4,527.7 679.5,527.7" fill="#ffff00" stroke="#ffff00" stroke-width="5" stroke-linejoin="round"/>
<polygon points="672.3,520.0 669.9,505.5 681.9,491.0 679.5,471.8 692.1,447.7 696.9,426.0 716.2,421.2 737.9,421.2 745.1,445.3 749.9,464.5 754.7,486.7 745.1,498.8 749.9,520.5 745.1,530.1 735.0,530.1 715.7,525.3 696.4,527.7 679.5,527.7" fill="url(#pd)" />
<polygon points="696.4,433.2 713.3,426.0 735.0,428.4 742.2,452.5 735.0,466.9 725.3,457.3 713.3,447.7 701.2,457.3 694.0,452.5" fill="url(#pm)" />
<polygon points="725.3,466.9 744.6,464.5 751.8,483.8 739.8,491.0 727.7,486.2" fill="url(#pm)" />
<polygon points="711.4,423.6 725.8,423.6 735.5,448.1 730.6,467.4 721.0,486.7 716.2,501.2 725.8,520.5 706.5,525.3 682.4,515.6 680.0,506.0 696.9,498.8 701.7,479.5 708.9,457.8 713.3,438.5" fill="url(#pb)" />
<polygon points="715.7,440.4 725.3,442.8 727.7,464.5 720.5,481.4 713.3,464.5" fill="#0000cd" />
<polygon points="686.8,505.5 706.0,500.7 713.3,515.2 696.4,520.0" fill="#0000cd" />
<polygon points="720.5,501.2 730.6,498.3 740.3,510.8 740.3,530.1 725.8,530.1" fill="#ffff00" />
<polygon points="679.5,464.5 691.6,462.1 694.0,476.6 681.9,481.4" fill="#cdad00" />
<polygon points="743.6,421.2 815.0,421.2 815.0,428.4 768.7,433.2 747.0,447.7" fill="#90ee90" />
<polygon points="744.6,426.0 763.9,430.8 815.0,424.8 815.0,484.3 800.5,481.9 788.5,489.1 774.0,489.1 764.4,493.9 747.5,496.4 754.7,481.9 749.9,465.0 745.1,445.7" fill="#006400" />
<polygon points="751.8,462.6 768.7,457.3 786.1,460.2 788.5,472.2 778.8,484.3 764.4,486.7 754.7,479.5" fill="#90ee90" />
<polygon points="754.3,467.4 768.7,465.0 776.4,472.2 769.2,479.5 757.1,477.1" fill="#cdad00" />
<polygon points="747.0,495.9 768.7,493.5 773.5,529.6 749.4,529.6" fill="#006400" />
<polygon points="747.5,498.8 764.4,493.9 774.0,489.1 788.5,489.1 800.5,481.9 815.0,484.3 815.0,530.1 790.9,530.1 774.0,525.3 766.8,510.8 754.7,506.0" fill="#ff00ff" />
<polygon points="769.2,498.8 783.7,493.9 800.5,491.5 815.0,491.5 815.0,527.7 793.3,527.7 776.4,520.5" fill="#8b008b" />
<polygon points="600.0,421.2 614.9,421.2 616.9,457.3 609.6,498.3 600.0,498.3" fill="#ffff00" stroke="#ffff00" stroke-width="5" stroke-linejoin="round"/>
<polygon points="600.0,421.2 614.9,421.2 616.9,457.3 609.6,498.3 600.0,498.3" fill="#8b1a1a" />
<polygon points="601.2,445.3 608.4,445.3 608.4,486.2 601.2,486.2" fill="url(#pm)" />
<polygon points="614.5,421.2 648.7,421.2 648.7,431.3 614.9,431.3" fill="#0000cd" />
<polygon points="614.9,432.0 631.3,432.0 631.3,457.3 616.9,457.3" fill="#ffff00" />
<polygon points="631.3,431.3 658.3,431.3 658.3,457.8 631.3,457.8" fill="#006400" />
<polygon points="604.8,462.6 633.7,457.8 658.3,465.0 658.3,520.5 636.2,530.1 600.0,530.1 600.0,498.3 609.6,498.3" fill="#8b008b" />
<polygon points="614.5,464.5 636.2,462.1 648.2,481.4 638.6,498.3 619.3,491.0" fill="#ff00ff" />
<polygon points="621.7,479.0 648.2,477.1 648.7,496.4 636.2,510.3 622.2,498.3" fill="#f4a460" />
<polygon points="609.6,498.3 621.7,500.7 624.1,520.0 607.2,524.8" fill="#006400" />
<polygon points="607.2,515.2 645.8,520.0 648.2,529.6 607.2,529.6" fill="#cd6600" />
<polygon points="660.3,532.5 696.4,532.5 701.2,577.8 691.6,600.0 660.3,600.0" fill="#006400" />
<polygon points="660.7,534.9 680.0,534.9 680.0,563.8 672.3,568.2 660.7,563.8" fill="#ff00ff" />
<polygon points="692.8,532.5 780.8,532.5 783.2,575.4 735.0,579.0 694.0,575.9" fill="#90ee90" />
<polygon points="696.9,534.9 778.8,534.9 778.8,573.5 735.5,575.9 696.9,573.5" fill="#cdad00" />
<polygon points="715.7,532.5 725.8,532.5 730.6,554.2 749.9,539.7 745.1,568.7 735.5,571.1 720.5,554.2" fill="#ffff00" stroke="#ffff00" stroke-width="5" stroke-linejoin="round"/>
<polygon points="715.7,532.5 725.8,532.5 730.6,554.2 749.9,539.7 745.1,568.7 735.5,571.1 720.5,554.2" fill="#8b1a1a" />
<polygon points="738.6,544.1 744.6,541.7 744.1,563.4 737.4,564.6" fill="#0000cd" />
<polygon points="706.0,554.9 720.5,554.9 720.5,565.8 706.0,565.8" fill="#ffff00" stroke="#ffff00" stroke-width="5" stroke-linejoin="round"/>
<polygon points="706.0,554.9 720.5,554.9 720.5,565.8 706.0,565.8" fill="#8b1a1a" />
<polygon points="713.3,575.4 749.4,573.0 754.3,600.0 720.5,600.0" fill="#006400" />
<polygon points="691.6,571.1 725.3,571.1 720.5,600.0 686.8,600.0" fill="#ff00ff" />
<polygon points="744.6,553.7 768.7,544.1 792.8,539.3 792.8,600.0 754.3,600.0 749.4,573.0" fill="#8b008b" />
<polygon points="778.4,539.3 792.8,533.2 792.8,553.7 780.8,558.5" fill="#ff00ff" />
<polygon points="766.3,575.4 792.8,570.6 792.8,587.5 768.7,589.9" fill="#f4a460" />
<polygon points="600.0,532.5 658.3,532.5 658.3,600.0 600.0,600.0" fill="#8b008b" />
<polygon points="614.5,539.3 648.2,536.8 653.0,563.4 643.4,592.3 624.1,587.5 616.9,563.4" fill="#006400" />
<polygon points="621.7,544.1 643.4,541.7 648.2,563.4 628.9,568.2" fill="#ff00ff" />
<polygon points="600.0,553.7 614.5,558.5 628.9,582.6 624.1,592.3 604.8,577.8" fill="#f4a460" />
<polygon points="317.9,394.6 343.2,392.2 357.7,399.5 367.3,416.3 352.8,428.4 343.2,447.7 350.4,464.5 365.4,486.7 375.0,515.6 391.9,544.6 401.5,573.5 411.2,600.0 391.4,600.0 375.0,554.2 360.6,520.5 346.1,498.8 331.6,477.1 319.1,457.3 316.7,433.2" fill="#006400" />
<polygon points="322.7,399.5 343.2,397.1 355.3,409.1 348.0,426.0 336.0,440.4 323.9,433.2" fill="#cdad00" />
<polygon points="331.2,395.8 367.3,394.6 367.3,404.3 333.6,406.7" fill="#90ee90" />
<polygon points="376.9,426.5 393.8,425.5 394.3,438.5 377.4,439.2" fill="#ffff00" stroke="#ffff00" stroke-width="5" stroke-linejoin="round"/>
<polygon points="376.9,426.5 393.8,425.5 394.3,438.5 377.4,439.2" fill="#8b1a1a" />
<polygon points="396.2,445.3 408.3,445.3 408.3,457.3 398.6,457.3" fill="#ffff00" stroke="#ffff00" stroke-width="5" stroke-linejoin="round"/>
<polygon points="396.2,445.3 408.3,445.3 408.3,457.3 398.6,457.3" fill="#8b1a1a" />
<polygon points="386.6,399.5 408.3,397.1 410.7,423.6 398.6,433.2 389.0,421.2" fill="#ffff00" />
<polygon points="343.2,464.5 351.6,433.2 358.1,423.6 368.5,421.2 377.4,433.7 391.9,465.0 403.9,486.7 420.8,520.5 444.9,554.2 449.7,578.3 440.1,600.0 408.8,600.0 401.5,568.7 387.1,539.7 370.2,510.8 353.3,486.7" fill="#8b008b" />
<polygon points="340.8,466.9 350.4,464.5 357.7,486.2 350.4,491.0" fill="#ff00ff" />
<polygon points="355.3,431.3 365.4,426.0 372.6,440.9 382.2,465.0 391.9,481.9 408.8,506.0 430.5,534.9 440.1,554.2 430.5,566.2 411.2,554.2 396.7,530.1 382.2,501.2 367.8,481.9 358.1,457.8" fill="#cd6600" />
<polygon points="360.6,442.8 368.5,445.3 377.4,466.9 384.7,481.4 379.8,486.2 370.9,479.0 364.4,462.1" fill="#f4a460" />
<polygon points="393.8,510.3 405.9,513.9 417.9,534.4 410.7,539.3 398.6,527.2" fill="#f4a460" />
<polygon points="406.4,541.7 420.8,534.4 440.1,554.2 444.9,578.3 435.3,587.9 420.8,578.3 411.2,559.0" fill="#00ffff" />
<polygon points="415.5,558.5 430.0,563.4 437.2,577.8 428.0,583.1 417.9,573.0" fill="#008b8b" />
<polygon points="420.3,548.9 434.8,551.3 433.6,563.4 422.7,563.4" fill="#cd6600" />
<polygon points="396.2,452.5 408.3,450.1 430.0,481.4 454.1,510.3 468.5,539.3 470.9,563.4 461.3,568.2 444.4,534.4 425.2,505.5 403.5,471.8" fill="#ffff00" />
<polygon points="401.0,455.4 411.2,457.8 430.5,486.7 449.7,510.8 461.8,534.9 464.2,559.0 452.1,563.8 440.1,539.7 425.6,510.8 408.8,481.9 399.1,465.0" fill="#ffff00" stroke="#ffff00" stroke-width="5" stroke-linejoin="round"/>
<polygon points="401.0,455.4 411.2,457.8 430.5,486.7 449.7,510.8 461.8,534.9 464.2,559.0 452.1,563.8 440.1,539.7 425.6,510.8 408.8,481.9 399.1,465.0" fill="#8b1a1a" />
<polygon points="417.9,491.5 428.0,493.9 449.7,520.5 457.0,542.1 454.6,554.2 444.9,549.4 435.3,525.3 423.2,506.0" fill="#0000cd" />
<polygon points="415.5,394.6 463.7,394.6 545.7,394.6 545.7,413.9 511.9,423.6 492.6,416.3 463.7,409.1 430.0,413.9 415.5,409.1" fill="url(#pn)" />
<polygon points="416.7,430.8 430.0,404.3 463.7,397.1 511.9,398.3 536.0,401.9 526.4,421.2 502.3,426.0 485.4,440.4 473.8,448.1 454.6,453.0 430.5,448.1" fill="url(#pg)" />
<polygon points="430.0,426.0 444.4,409.1 463.7,406.7 470.9,421.2 463.7,438.0 444.4,442.8" fill="#006400" />
<polygon points="478.2,399.5 511.9,399.5 513.1,416.3 495.0,421.2 479.4,416.8" fill="#90ee90" />
<polygon points="425.2,448.1 440.1,440.9 454.6,445.7 464.2,457.8 452.1,474.7 435.3,477.1 423.2,465.0" fill="#ff00ff" />
<polygon points="432.9,450.6 449.3,448.9 452.9,462.1 439.6,469.4 431.2,462.1" fill="#8b008b" />
<polygon points="417.9,464.5 425.2,464.5 430.0,479.0 420.3,481.4" fill="#006400" />
<polygon points="485.4,421.2 536.0,413.9 545.7,445.3 545.7,481.4 526.4,486.2 511.9,491.0 492.6,498.3 473.4,486.2 463.7,464.5 478.2,445.3" fill="url(#pn)" />
<polygon points="483.0,469.4 495.0,465.7 504.7,474.2 499.9,486.2 487.8,487.4" fill="#ffff00" />
<polygon points="478.2,428.4 492.6,433.2 487.8,450.1 473.4,447.7" fill="#e6d400" />
<polygon points="504.7,399.5 508.1,399.5 503.2,411.5 499.9,411.5" fill="#ffff00" stroke="#ffff00" stroke-width="5" stroke-linejoin="round"/>
<polygon points="504.7,399.5 508.1,399.5 503.2,411.5 499.9,411.5" fill="#8b1a1a" />
<polygon points="511.9,433.2 515.3,433.2 510.5,447.7 507.1,447.7" fill="#ffff00" stroke="#ffff00" stroke-width="5" stroke-linejoin="round"/>
<polygon points="511.9,433.2 515.3,433.2 510.5,447.7 507.1,447.7" fill="#8b1a1a" />
<polygon points="521.6,423.6 524.9,423.6 520.1,440.4 516.7,440.4" fill="#ffff00" stroke="#ffff00" stroke-width="5" stroke-linejoin="round"/>
<polygon points="521.6,423.6 524.9,423.6 520.1,440.4 516.7,440.4" fill="#8b1a1a" />
<polygon points="531.2,447.7 534.6,447.7 529.8,466.9 526.4,466.9" fill="#ffff00" stroke="#ffff00" stroke-width="5" stroke-linejoin="round"/>
<polygon points="531.2,447.7 534.6,447.7 529.8,466.9 526.4,466.9" fill="#8b1a1a" />
<polygon points="536.0,457.3 539.4,457.3 537.0,476.6 533.6,476.6" fill="#ffff00" stroke="#ffff00" stroke-width="5" stroke-linejoin="round"/>
<polygon points="536.0,457.3 539.4,457.3 537.0,476.6 533.6,476.6" fill="#8b1a1a" />
<polygon points="473.4,476.6 476.7,476.6 471.9,486.2 468.5,486.2" fill="#ffff00" stroke="#ffff00" stroke-width="5" stroke-linejoin="round"/>
<polygon points="473.4,476.6 476.7,476.6 471.9,486.2 468.5,486.2" fill="#8b1a1a" />
<polygon points="483.0,471.8 486.4,471.8 484.0,483.8 480.6,483.8" fill="#ffff00" stroke="#ffff00" stroke-width="5" stroke-linejoin="round"/>
<polygon points="483.0,471.8 486.4,471.8 484.0,483.8 480.6,483.8" fill="#8b1a1a" />
<polygon points="495.0,466.9 498.4,466.9 493.6,481.4 490.2,481.4" fill="#ffff00" stroke="#ffff00" stroke-width="5" stroke-linejoin="round"/>
<polygon points="495.0,466.9 498.4,466.9 493.6,481.4 490.2,481.4" fill="#8b1a1a" />
<polygon points="519.2,464.5 522.5,464.5 515.3,481.4 511.9,481.4" fill="#ffff00" stroke="#ffff00" stroke-width="5" stroke-linejoin="round"/>
<polygon points="519.2,464.5 522.5,464.5 515.3,481.4 511.9,481.4" fill="#8b1a1a" />
<polygon points="538.4,418.7 541.8,418.7 539.4,433.2 536.0,433.2" fill="#ffff00" stroke="#ffff00" stroke-width="5" stroke-linejoin="round"/>
<polygon points="538.4,418.7 541.8,418.7 539.4,433.2 536.0,433.2" fill="#8b1a1a" />
<polygon points="415.5,477.1 430.5,481.9 464.2,498.8 493.1,506.0 512.4,491.5 536.5,486.7 546.1,491.5 546.1,515.6 512.4,520.5 478.7,515.6 449.7,501.2 420.8,486.7" fill="#006400" />
<polygon points="461.3,491.0 470.9,488.6 478.2,500.7 468.5,505.5" fill="#ff00ff" />
<polygon points="502.3,481.4 511.9,479.0 507.1,498.3 499.9,498.3" fill="#ff00ff" />
<polygon points="449.3,505.5 464.2,510.8 488.3,520.5 512.4,520.5 546.1,510.8 546.1,530.1 512.4,532.5 483.5,530.1 464.2,520.5" fill="#8b008b" />
<polygon points="483.0,527.7 511.9,529.6 546.1,527.2 546.1,541.7 511.9,541.7 487.8,539.3" fill="#cd6600" />
<polygon points="449.3,529.6 468.5,524.8 487.8,539.3 546.1,541.7 546.1,600.0 463.7,600.0 454.1,568.2" fill="url(#pc)" />
<polygon points="463.7,553.7 487.8,558.5 511.9,577.8 526.4,600.0 487.8,600.0 473.4,577.8" fill="#458b00" />
<polygon points="511.9,539.3 536.0,541.7 545.7,558.5 536.0,577.8 521.6,568.2" fill="#7d26cd" />
<polygon points="473.4,539.3 485.4,539.3 495.0,568.2 487.8,573.0" fill="#ab82ff" />
<polygon points="492.6,539.3 511.9,541.7 521.6,558.5 507.1,563.4" fill="#00ffff" />
<polygon points="449.3,539.3 463.7,544.1 468.5,568.2 456.5,573.0 446.8,558.5" fill="#cd6600" />
<polygon points="451.7,587.5 478.2,589.9 483.0,600.0 449.3,600.0" fill="#cd6600" />
<polygon points="507.1,577.8 521.6,575.4 526.4,589.9 511.9,592.3" fill="#adff2f" />
<polygon points="548.1,394.6 608.3,394.6 608.3,457.3 596.3,491.0 579.4,520.0 548.1,522.4" fill="#006400" />
<polygon points="550.5,394.6 584.2,394.6 574.6,406.7 552.9,409.1" fill="#90ee90" />
<polygon points="593.9,394.6 613.1,394.6 613.1,423.6 601.1,433.2 593.9,418.7" fill="#cdad00" />
<polygon points="550.5,414.4 565.4,404.8 584.7,407.2 594.3,424.0 596.8,448.1 584.7,465.0 567.8,486.7 558.2,481.9 560.6,457.8 551.0,438.5" fill="#ff00ff" />
<polygon points="555.8,416.8 579.9,412.0 589.5,433.7 579.9,453.0 565.4,455.4 555.8,438.5" fill="#8b008b" />
<polygon points="550.5,488.6 564.9,491.0 562.5,510.3 551.0,510.3" fill="#cdad00" />
<polygon points="606.4,426.5 618.5,421.6 620.9,457.8 608.8,486.7 594.3,510.8 579.9,515.6 591.9,491.5 604.0,465.0" fill="#ffff00" stroke="#ffff00" stroke-width="5" stroke-linejoin="round"/>
<polygon points="606.4,426.5 618.5,421.6 620.9,457.8 608.8,486.7 594.3,510.8 579.9,515.6 591.9,491.5 604.0,465.0" fill="#8b1a1a" />
<polygon points="608.3,447.7 615.6,445.3 613.1,466.9 605.9,469.4" fill="url(#pm)" />
<polygon points="618.0,418.7 645.0,417.5 645.0,433.2 619.2,434.4" fill="#ffff00" stroke="#ffff00" stroke-width="5" stroke-linejoin="round"/>
<polygon points="618.0,418.7 645.0,417.5 645.0,433.2 619.2,434.4" fill="#8b1a1a" />
<polygon points="619.2,421.6 645.0,420.7 645.0,430.3 619.9,431.3" fill="#0000cd" />
<polygon points="620.4,435.6 645.0,435.6 645.0,464.5 627.6,457.3" fill="#006400" />
<polygon points="596.3,488.6 608.3,491.0 603.5,510.3 593.9,510.3" fill="#ffff00" />
<polygon points="615.6,464.5 645.0,457.3 645.0,500.7 632.4,510.3 618.0,495.9" fill="#ff00ff" />
<polygon points="627.6,471.8 645.0,466.9 645.0,491.0 632.4,493.5" fill="#8b008b" />
<polygon points="548.1,520.0 645.0,515.2 645.0,530.1 548.1,530.1" fill="#8b008b" />
<polygon points="550.5,523.6 608.3,523.6 608.3,530.1 550.5,530.1" fill="#cd6600" />
<polygon points="546.3,540.0 659.6,540.0 659.6,568.9 621.0,578.6 587.3,568.9 563.2,554.5 546.3,554.5" fill="#8b008b" />
<polygon points="548.7,556.9 568.0,559.3 587.3,583.4 577.6,602.7 563.2,588.2 548.7,573.7" fill="#ff00ff" />
<polygon points="604.2,559.3 623.4,564.1 635.5,583.4 621.0,581.0 606.6,573.7" fill="#cd6600" />
<polygon points="568.0,556.9 587.3,554.5 596.9,573.7 592.1,597.8 577.6,588.2 570.4,573.7" fill="#006400" />
<polygon points="633.1,544.8 657.2,542.4 658.4,600.3 645.1,609.9 623.4,605.1 611.4,612.3 596.9,600.3 621.0,588.2 640.3,573.7" fill="#006400" />
<polygon points="592.1,559.3 606.6,566.5 611.4,588.2 621.0,600.3 611.4,609.9 596.9,597.8 589.7,578.6" fill="#cdad00" />
<polygon points="623.4,600.3 642.7,595.4 647.5,609.9 630.7,612.3" fill="#90ee90" />
<polygon points="641.5,609.9 656.0,609.9 657.2,626.8 642.7,627.2" fill="#ffff00" />
<polygon points="645.1,613.5 653.6,613.5 653.6,621.9 645.1,621.9" fill="#ffff00" stroke="#ffff00" stroke-width="5" stroke-linejoin="round"/>
<polygon points="645.1,613.5 653.6,613.5 653.6,621.9 645.1,621.9" fill="#8b1a1a" />
<polygon points="606.6,600.3 621.0,609.9 640.3,621.9 657.2,636.4 657.2,650.9 635.5,641.2 611.4,624.4 596.9,612.3" fill="#ff00ff" />
<polygon points="452.3,540.0 534.3,540.0 534.3,588.2 515.0,600.3 481.2,597.8 459.5,588.2 452.3,564.1" fill="url(#pc)" />
<polygon points="380.0,540.0 411.3,540.0 431.8,564.1 443.1,588.2 428.2,595.9 404.1,593.5 394.5,564.1" fill="#cd6600" />
<polygon points="404.1,554.5 440.3,552.1 445.6,581.0 423.4,586.3" fill="#00ffff" />
<polygon points="416.2,561.7 436.6,560.5 439.1,578.6 422.2,579.8" fill="#008b8b" />
<polygon points="441.5,540.0 455.9,540.0 457.1,550.8 446.3,554.5" fill="url(#pb)" />
<polygon points="380.0,544.8 396.9,568.9 404.1,595.4 430.6,609.9 459.5,619.5 476.4,650.9 481.2,655.7 461.9,626.8 437.8,614.7 406.5,602.7 394.5,578.6" fill="#8b008b" />
<polygon points="384.8,561.7 401.7,588.2 428.2,607.5 437.8,614.7 408.9,605.1 394.5,583.4" fill="#ff00ff" />
<polygon points="428.2,588.2 459.5,595.4 481.2,612.3 486.0,636.4 483.6,653.3 476.4,653.3 471.6,631.6 452.3,612.3 428.2,600.3" fill="#cd6600" />
<polygon points="440.3,591.8 476.4,594.2 481.2,602.7 452.3,601.5" fill="#f4a460" />
<polygon points="459.5,564.1 495.7,566.5 515.0,588.2 493.3,595.4 471.6,581.0" fill="#adff2f" />
<polygon points="481.2,578.6 515.0,583.4 524.6,597.8 500.5,600.3" fill="#458b00" />
<polygon points="493.3,571.3 515.0,573.7 529.4,588.2 524.6,597.8 507.7,588.2" fill="#7d26cd" />
<polygon points="515.0,544.8 534.3,547.2 534.3,566.5 522.2,564.1" fill="#cd6600" />
<polygon points="478.8,606.3 489.7,606.3 489.7,614.7 478.8,614.7" fill="#ffff00" />
<polygon points="500.5,602.7 524.6,597.8 540.3,607.5 534.3,619.5 534.3,650.9 505.3,650.9 500.5,631.6" fill="#8b7500" />
<polygon points="510.2,619.5 524.6,621.9 527.0,643.6 515.0,646.0" fill="#7d26cd" />
<polygon points="515.0,636.4 534.3,635.2 534.3,648.5 517.4,649.7" fill="#eedc82" />
<polygon points="536.7,609.9 563.2,605.1 584.9,612.3 596.9,621.9 592.1,641.2 572.8,631.6 553.5,641.2 539.1,636.4" fill="#7d26cd" />
<polygon points="555.9,612.3 570.4,611.1 572.8,619.5 558.4,621.9" fill="#458b00" />
<polygon points="563.2,621.9 587.3,617.1 592.1,626.8 568.0,631.6" fill="#ab82ff" />
<polygon points="534.3,641.2 553.5,638.8 572.8,626.8 587.3,620.7 604.2,626.8 607.8,641.2 596.9,653.3 577.6,665.3 563.2,670.2 534.3,655.7" fill="#8b7500" />
<polygon points="553.5,643.6 572.8,631.6 580.0,636.4 570.4,653.3 555.9,655.7" fill="#eedc82" />
<polygon points="572.8,665.3 587.3,648.5 609.0,641.2 621.0,653.3 621.0,675.0 604.2,684.6 592.1,679.8" fill="#7d26cd" />
<polygon points="592.1,648.5 611.4,646.0 618.6,665.3 601.7,670.2" fill="#ab82ff" />
<polygon points="596.9,670.2 621.0,660.5 642.7,646.0 649.9,660.5 640.3,675.0 621.0,684.6 604.2,684.6" fill="#458b00" />
<polygon points="604.2,672.6 618.6,667.7 621.0,677.4 609.0,682.2" fill="#adff2f" />
<polygon points="621.0,675.0 659.6,665.3 659.6,689.4 611.4,689.4" fill="#008b8b" />
<polygon points="621.0,677.4 630.7,675.0 633.1,687.0 622.2,687.5" fill="#cd6600" />
<polygon points="645.1,670.2 654.8,667.7 656.0,687.0 646.3,687.5" fill="#cd6600" />
<polygon points="584.9,588.2 596.9,593.0 611.4,619.5 630.7,641.2 621.0,646.0 601.7,624.4 587.3,605.1" fill="#00c5cd" />
<polygon points="660.8,540.0 730.0,540.0 730.0,588.2 693.3,597.8 681.3,641.2 669.2,653.3 660.8,650.9" fill="#006400" />
<polygon points="662.0,571.3 698.1,568.9 698.1,631.6 676.5,636.4 662.0,619.5" fill="#90ee90" />
<polygon points="669.2,576.2 690.9,573.7 693.3,621.9 678.9,626.8 669.2,612.3" fill="#cdad00" />
<polygon points="660.8,540.0 676.5,540.0 678.9,564.1 662.0,566.5" fill="#8b008b" />
<polygon points="693.3,564.1 717.4,561.7 722.3,588.2 700.6,590.6" fill="#ff00ff" />
<polygon points="706.6,553.3 717.4,553.3 717.4,564.1 706.6,564.1" fill="#ffff00" />
<polygon points="709.0,555.7 716.2,555.7 716.2,562.9 709.0,562.9" fill="#ffff00" stroke="#ffff00" stroke-width="5" stroke-linejoin="round"/>
<polygon points="709.0,555.7 716.2,555.7 716.2,562.9 709.0,562.9" fill="#8b1a1a" />
<polygon points="660.8,631.6 676.5,638.8 698.1,619.5 703.0,588.2 730.0,588.2 730.0,641.2 712.6,660.5 688.5,670.2 660.8,670.2" fill="#8b008b" />
<polygon points="703.0,593.0 717.4,590.6 719.8,619.5 715.0,655.7 703.0,660.5 705.4,626.8" fill="#cd6600" />
<polygon points="705.4,595.4 715.0,595.0 715.0,619.5 706.6,619.5" fill="#f4a460" />
<polygon points="660.8,648.5 683.7,643.6 688.5,670.2 676.5,687.5 660.8,687.5" fill="#cd6600" />
<polygon points="688.5,646.0 700.6,643.6 703.0,665.3 681.3,675.0 677.7,687.5 675.3,675.0" fill="#00ffff" />
<polygon points="717.4,631.6 730.0,629.2 730.0,653.3 719.8,655.7" fill="#00ffff" />
<polygon points="688.5,660.5 712.6,658.1 730.0,655.7 730.0,687.5 678.9,687.5" fill="#008b8b" />
<polygon points="661.0,531.1 794.2,531.1 794.2,594.0 743.6,638.4 714.0,638.4 661.0,638.4" fill="#006400" />
<polygon points="689.3,534.8 788.0,533.6 785.5,559.5 768.3,574.3 746.1,579.2 731.3,594.0 721.4,581.7 706.6,576.7 691.8,559.5" fill="#90ee90" />
<polygon points="696.7,537.3 778.1,536.0 778.1,554.5 763.3,569.3 743.6,574.3 728.8,569.3 709.1,569.3 698.0,554.5" fill="#cdad00" />
<polygon points="721.4,576.7 743.6,574.3 746.1,594.0 741.1,623.6 733.7,633.5 723.9,618.7 718.9,594.0" fill="#006400" />
<polygon points="728.8,581.7 736.7,581.7 736.7,595.2 729.3,595.2" fill="#90ee90" />
<polygon points="716.5,531.1 726.3,531.1 725.1,547.1 718.9,547.1" fill="#ffff00" stroke="#ffff00" stroke-width="5" stroke-linejoin="round"/>
<polygon points="716.5,531.1 726.3,531.1 725.1,547.1 718.9,547.1" fill="#8b1a1a" />
<polygon points="737.4,531.1 748.5,531.1 748.5,552.1 741.1,566.9 731.3,566.9 733.7,549.6" fill="#ffff00" stroke="#ffff00" stroke-width="5" stroke-linejoin="round"/>
<polygon points="737.4,531.1 748.5,531.1 748.5,552.1 741.1,566.9 731.3,566.9 733.7,549.6" fill="#8b1a1a" />
<polygon points="706.6,557.0 718.9,554.5 720.2,566.9 707.8,566.9" fill="#ffff00" stroke="#ffff00" stroke-width="5" stroke-linejoin="round"/>
<polygon points="706.6,557.0 718.9,554.5 720.2,566.9 707.8,566.9" fill="#8b1a1a" />
<polygon points="738.7,534.8 744.8,534.8 743.6,549.6 737.4,557.0 735.0,565.6 733.7,557.0" fill="#0000cd" />
<polygon points="726.3,520.0 741.6,520.0 739.2,531.1 727.6,531.1" fill="#ffff00" />
<polygon points="661.0,534.8 674.5,534.8 680.0,549.6 672.6,569.3 661.0,569.3" fill="#ff00ff" />
<polygon points="663.4,539.7 672.1,539.7 674.5,552.1 664.7,561.9" fill="#8b008b" />
<polygon points="661.0,569.3 684.4,566.9 699.2,576.7 696.7,601.4 689.3,623.6 677.0,638.4 664.7,635.9 661.0,618.7" fill="#90ee90" />
<polygon points="663.4,573.0 683.2,570.6 695.5,580.4 693.0,601.4 685.6,621.1 674.5,632.2 664.7,628.5" fill="#cdad00" />
<polygon points="689.3,564.4 704.6,566.9 721.9,579.2 729.3,601.4 739.2,628.5 744.1,643.3 734.2,658.1 721.9,635.9 714.0,618.7 701.7,635.9 689.3,648.3 674.5,658.1 662.2,650.7 677.0,638.4 691.8,623.6 699.2,601.4 693.0,581.7" fill="#8b008b" />
<polygon points="693.0,569.3 701.7,568.1 714.0,579.2 704.1,581.7" fill="#ff00ff" />
<polygon points="699.2,591.5 709.6,589.1 714.5,601.4 717.0,623.6 721.9,638.4 724.4,658.1 714.0,663.6 706.6,648.3 699.2,658.1 689.3,668.5 664.7,668.5 662.2,658.1 679.5,658.1 694.3,643.3 701.7,623.6" fill="#cd6600" />
<polygon points="696.7,648.3 706.6,653.2 714.0,638.4 723.9,635.9 726.3,653.2 714.0,668.0 689.3,671.0 677.0,668.5 689.3,663.1" fill="#00ffff" />
<polygon points="728.3,628.5 741.6,628.5 742.6,656.2 730.8,657.1" fill="#ffff00" />
<polygon points="732.5,638.4 737.7,638.4 738.2,652.2 733.2,652.7" fill="#ffff00" stroke="#ffff00" stroke-width="5" stroke-linejoin="round"/>
<polygon points="732.5,638.4 737.7,638.4 738.2,652.2 733.2,652.7" fill="#8b1a1a" />
<polygon points="743.6,552.1 794.2,534.8 832.9,534.8 827.5,552.1 812.7,561.9 797.9,575.5 794.2,601.4 778.1,601.4 763.3,594.0 753.5,603.9 746.1,623.6 741.1,613.7 746.1,594.0 743.6,574.3" fill="#8b008b" />
<polygon points="741.6,594.0 749.8,557.0 788.0,537.3 792.9,535.3 755.9,561.9 749.8,594.0 745.6,618.7" fill="#ff00ff" />
<polygon points="763.3,573.0 788.0,574.8 797.9,577.2 812.7,564.9 829.9,550.1 860.0,547.1 860.0,584.6 837.3,594.5 827.5,614.2 812.7,619.2 797.9,614.2 794.2,601.9 778.1,599.4 768.3,594.0 760.9,601.4 755.9,623.6 748.5,638.4 749.8,613.7 758.4,594.0" fill="#f4a460" />
<polygon points="797.9,584.1 827.5,569.3 847.2,566.9 837.3,591.5 812.7,601.4 797.9,601.4" fill="#e08a40" />
<polygon points="755.9,603.9 768.3,594.0 778.1,601.4 794.2,603.9 797.9,616.2 812.7,619.2 832.4,601.9 837.3,619.2 822.5,626.6 812.7,636.4 794.2,643.8 783.1,648.8 768.3,629.0 763.3,621.1 755.9,628.5 751.0,648.3 748.5,658.1 748.5,628.5" fill="#cd6600" />
<polygon points="753.5,650.7 755.9,628.5 765.8,621.1 770.7,631.0 783.1,648.8 794.2,643.8 812.7,636.4 822.5,626.6 837.3,619.2 840.3,626.6 828.0,636.4 813.2,646.3 798.4,658.6 778.6,658.6 773.2,648.3 765.8,635.9 760.9,648.3 758.4,668.5 753.5,668.5" fill="#00ffff" />
<polygon points="758.4,635.9 764.6,631.0 778.1,654.4 797.9,653.7 812.7,643.8 829.9,631.5 844.7,624.1 862.0,619.2 862.0,628.5 844.7,636.4 829.9,648.8 812.7,663.6 800.3,673.4 757.2,671.0 755.9,658.1" fill="#008b8b" />
<polygon points="765.8,658.1 774.4,656.9 778.6,671.0 768.3,671.0" fill="#adff2f" />
<polygon points="661.0,671.0 678.2,671.0 678.2,690.7 661.0,690.7" fill="#cd6600" />
<polygon points="714.0,671.0 797.9,671.0 803.3,693.2 798.4,717.8 778.6,740.0 748.5,740.0" fill="#008b8b" />
<polygon points="718.9,673.4 729.3,678.4 744.1,703.0 756.4,727.7 751.5,730.2 739.2,708.0 724.4,683.3" fill="#00ffff" />
<polygon points="758.4,700.1 773.7,700.1 783.6,720.3 773.7,730.2 763.8,725.2 756.4,712.9" fill="#cd6600" />
<polygon points="738.7,677.9 749.0,677.9 754.0,698.1 746.6,700.6" fill="#cd6600" />
<polygon points="773.2,692.7 788.0,697.6 797.9,714.9 788.0,724.7 785.5,712.4 778.1,702.5" fill="#00ffff" />
<polygon points="768.3,671.0 798.4,668.5 802.8,678.4 788.0,687.7 778.1,690.2 774.4,680.3" fill="#adff2f" />
<polygon points="788.0,717.3 800.3,714.9 802.8,729.7 790.5,734.6" fill="#adff2f" />
<polygon points="374.5,553.7 391.4,544.1 403.5,573.0 410.7,600.0 391.4,600.0" fill="#006400" />
<polygon points="386.6,553.7 401.0,548.9 420.3,582.6 430.0,600.0 408.3,600.0" fill="#8b008b" />
<polygon points="401.0,558.5 410.7,553.7 430.0,585.0 439.6,600.0 425.2,600.0" fill="#cd6600" />
<polygon points="360.7,525.5 380.0,544.8 394.5,578.6 406.5,602.7 437.8,614.7 461.9,626.8 481.2,655.7 476.4,655.7 452.3,619.5 404.1,597.8 370.4,554.5" fill="#8b008b" />
<polygon points="372.8,540.0 389.6,566.5 401.7,591.8 428.2,608.7 437.8,615.2 408.9,605.6 387.2,581.0 375.2,554.5" fill="#ff00ff" />
<polygon points="387.2,547.2 404.1,568.9 416.2,591.8 442.7,595.4 459.5,595.9 481.2,612.3 486.0,636.4 483.6,653.3 476.4,653.3 471.6,631.6 452.3,612.3 428.2,603.1 408.9,597.8 394.5,571.3" fill="#cd6600" />
<polygon points="394.5,585.8 411.3,597.8 404.1,600.3 392.1,590.6" fill="#006400" />
<polygon points="429.4,591.8 439.1,591.1 439.8,597.8 430.1,598.6" fill="#cdad00" />
<polygon points="437.8,600.3 459.5,588.2 481.2,597.8 505.3,600.3 500.5,619.5 486.0,636.4 476.4,619.5 457.1,609.9" fill="url(#pc)" />
<polygon points="531.8,535.2 659.6,535.2 659.6,619.5 621.0,612.3 584.9,600.3 548.7,576.2 531.8,559.3" fill="#8b008b" />
<polygon points="531.8,559.3 548.7,576.2 584.9,600.3 621.0,612.3 659.6,619.5 659.6,689.4 611.4,689.4 531.8,655.7" fill="url(#pc)" />
<polygon points="548.7,556.9 568.0,559.3 587.3,583.4 577.6,602.7 563.2,588.2 548.7,573.7" fill="#ff00ff" />
<polygon points="563.2,559.3 572.8,588.2 592.1,602.7 611.4,617.1 640.3,621.9 657.2,636.4 657.2,650.9 635.5,641.2 606.6,624.4 587.3,609.9 568.0,593.0 558.4,568.9" fill="#ff00ff" />
<polygon points="565.6,556.9 587.3,553.3 596.9,559.3 621.0,554.5 635.5,544.8 657.2,542.4 658.4,600.3 645.1,609.9 623.4,605.1 611.4,612.3 596.9,600.3 592.1,597.8 577.6,588.2 570.4,573.7" fill="#006400" />
<polygon points="596.9,554.5 621.0,552.1 640.3,568.9 630.7,583.4 611.4,576.2 599.3,566.5" fill="#8b008b" />
<polygon points="621.0,568.9 635.5,564.1 649.9,588.2 635.5,590.6" fill="#ff00ff" />
<polygon points="604.2,559.3 623.4,564.1 635.5,583.4 621.0,581.0 606.6,573.7" fill="#cd6600" />
<polygon points="609.0,564.1 621.0,566.5 623.4,576.2 611.4,573.7" fill="#f4a460" />
<polygon points="592.1,561.7 604.2,571.3 611.4,588.2 621.0,600.3 635.5,597.8 645.1,605.1 635.5,614.7 611.4,611.1 596.9,599.1 589.7,578.6" fill="#cdad00" />
<polygon points="623.4,600.3 642.7,595.4 647.5,609.9 630.7,612.3" fill="#90ee90" />
<polygon points="641.5,609.9 656.0,609.9 657.2,626.8 642.7,627.2" fill="#ffff00" />
<polygon points="645.1,613.5 653.6,613.5 653.6,621.9 645.1,621.9" fill="#ffff00" stroke="#ffff00" stroke-width="5" stroke-linejoin="round"/>
<polygon points="645.1,613.5 653.6,613.5 653.6,621.9 645.1,621.9" fill="#8b1a1a" />
<polygon points="596.9,573.7 604.2,573.7 604.2,581.0 596.9,581.0" fill="#ffff00" />
<polygon points="536.7,609.9 563.2,605.1 584.9,612.3 596.9,621.9 592.1,641.2 572.8,631.6 553.5,641.2 539.1,636.4" fill="#7d26cd" />
<polygon points="555.9,612.3 570.4,611.1 572.8,619.5 558.4,621.9" fill="#458b00" />
<polygon points="563.2,621.9 587.3,617.1 592.1,626.8 568.0,631.6" fill="#ab82ff" />
<polygon points="534.3,641.2 553.5,638.8 572.8,626.8 587.3,620.7 604.2,626.8 607.8,641.2 596.9,653.3 577.6,665.3 563.2,670.2 534.3,655.7" fill="#8b7500" />
<polygon points="553.5,643.6 572.8,631.6 580.0,636.4 570.4,653.3 555.9,655.7" fill="#eedc82" />
<polygon points="534.3,612.3 546.3,614.7 548.7,641.2 536.7,646.0" fill="#eedc82" />
<polygon points="572.8,665.3 587.3,648.5 609.0,641.2 621.0,653.3 621.0,675.0 604.2,684.6 592.1,679.8" fill="#7d26cd" />
<polygon points="592.1,648.5 611.4,646.0 618.6,665.3 601.7,670.2" fill="#ab82ff" />
<polygon points="596.9,670.2 621.0,660.5 642.7,646.0 649.9,660.5 640.3,675.0 621.0,684.6 604.2,684.6" fill="#458b00" />
<polygon points="604.2,672.6 618.6,667.7 621.0,677.4 609.0,682.2" fill="#adff2f" />
<polygon points="621.0,675.0 659.6,665.3 659.6,689.4 611.4,689.4" fill="#008b8b" />
<polygon points="621.0,677.4 630.7,675.0 633.1,687.0 622.2,687.5" fill="#cd6600" />
<polygon points="645.1,670.2 654.8,667.7 656.0,687.0 646.3,687.5" fill="#cd6600" />
<polygon points="642.7,636.4 657.2,641.2 658.4,660.5 647.5,655.7" fill="#ff00ff" />
<polygon points="476.4,612.3 493.3,619.5 505.3,631.6 505.3,650.9 483.6,653.3 486.0,636.4" fill="#cd6600" />
<polygon points="483.6,619.5 493.3,624.4 495.7,641.2 488.5,643.6" fill="#8b008b" />
<polygon points="482.3,315.2 494.6,322.1 499.9,339.5 513.6,353.5 531.2,360.2 543.3,367.2 550.5,368.2 541.6,377.8 525.9,381.2 508.5,374.2 494.6,363.8 485.9,349.9 480.6,332.5 480.6,322.1" fill="#90ee90" stroke="#90ee90" stroke-width="8" stroke-linejoin="round"/>
<polygon points="482.3,315.2 494.6,322.1 499.9,339.5 513.6,353.5 531.2,360.2 543.3,367.2 550.5,368.2 541.6,377.8 525.9,381.2 508.5,374.2 494.6,363.8 485.9,349.9 480.6,332.5 480.6,322.1" fill="#006400" />
<polygon points="543.3,363.4 560.1,356.6 584.2,351.3 587.1,359.0 565.4,366.2 548.6,378.3" fill="#90ee90" />
<polygon points="478.9,336.1 473.6,330.8 466.8,339.5 461.5,351.8 452.9,367.2 444.2,377.8 447.8,384.6 459.9,374.2 470.2,360.2 478.9,346.5" fill="#90ee90" stroke="#90ee90" stroke-width="9" stroke-linejoin="round"/>
<polygon points="478.9,336.1 473.6,330.8 466.8,339.5 461.5,351.8 452.9,367.2 444.2,377.8 447.8,384.6 459.9,374.2 470.2,360.2 478.9,346.5" fill="#006400" />
<polygon points="472.2,329.6 480.6,328.4 481.1,335.6 472.9,336.8" fill="#ff00ff" />
<polygon points="497.5,351.3 507.1,353.7 508.3,357.3 498.7,355.6" fill="#ff00ff" />
<polygon points="521.6,368.2 532.4,367.0 532.9,370.6 522.0,371.8" fill="#ff00ff" />
<polygon points="483.0,197.1 589.0,197.1 580.6,213.9 587.8,238.0 592.7,257.3 597.5,286.2 615.6,305.5 615.6,323.6 574.6,326.0 567.4,320.0 572.2,339.3 555.3,352.5 526.4,350.1 507.1,335.6 496.3,310.3 495.0,281.4 504.7,264.5 499.9,245.3 487.8,233.2 483.0,213.9" fill="#ffff00" stroke="#ffff00" stroke-width="5" stroke-linejoin="round"/>
<polygon points="483.0,197.1 589.0,197.1 580.6,213.9 587.8,238.0 592.7,257.3 597.5,286.2 615.6,305.5 615.6,323.6 574.6,326.0 567.4,320.0 572.2,339.3 555.3,352.5 526.4,350.1 507.1,335.6 496.3,310.3 495.0,281.4 504.7,264.5 499.9,245.3 487.8,233.2 483.0,213.9" fill="url(#pd)" />
<polygon points="536.0,199.5 557.7,198.3 567.4,218.7 574.6,247.7 567.4,264.5 555.3,245.3 545.7,223.6" fill="url(#pm)" />
<polygon points="507.1,291.0 526.4,286.2 545.7,298.3 555.3,320.0 540.8,339.3 521.6,334.4 509.5,315.2" fill="url(#pm)" />
<polygon points="487.8,199.5 502.3,201.9 507.1,223.6 526.4,247.7 536.0,257.3 533.6,264.5 511.9,257.3 495.0,235.6 485.4,221.2" fill="#cdad00" />
<polygon points="511.9,209.1 531.2,206.7 536.0,223.6 526.4,233.2 514.3,226.0" fill="#cdad00" />
<polygon points="540.8,252.5 557.7,247.7 572.2,257.3 569.8,271.8 550.5,269.4" fill="#ffff00" />
<polygon points="574.6,286.2 593.9,288.6 596.3,305.5 579.4,305.5" fill="#cdad00" />
<polygon points="560.1,276.6 572.2,269.4 574.6,275.4 562.5,281.4" fill="#0000cd" />
<polygon points="601.1,300.7 615.6,298.3 615.6,307.9 603.5,309.1" fill="#0000cd" />
<polygon points="533.6,329.6 545.7,327.2 548.1,334.4 536.0,339.3" fill="#0000cd" />
<polygon points="580.6,205.5 605.9,199.9 632.4,206.7 642.1,221.2 625.2,230.8 615.6,245.3 596.3,244.1 585.4,226.0" fill="#ffff00" />
<polygon points="605.9,211.5 627.6,213.9 625.2,226.0 608.3,223.6" fill="#cdad00" />
<polygon points="598.7,251.3 615.6,245.3 637.3,252.5 643.3,266.9 628.8,281.4 608.3,277.8 599.9,264.5" fill="#ffff00" stroke="#ffff00" stroke-width="5" stroke-linejoin="round"/>
<polygon points="598.7,251.3 615.6,245.3 637.3,252.5 643.3,266.9 628.8,281.4 608.3,277.8 599.9,264.5" fill="#8b1a1a" />
<polygon points="610.7,251.3 632.4,254.9 637.3,264.5 618.0,269.4" fill="url(#pm)" />
<polygon points="622.8,236.8 631.2,236.1 631.9,241.6 623.3,242.4" fill="#ffff00" stroke="#ffff00" stroke-width="5" stroke-linejoin="round"/>
<polygon points="622.8,236.8 631.2,236.1 631.9,241.6 623.3,242.4" fill="#8b1a1a" />
<polygon points="615.6,307.9 645.0,307.9 645.0,389.9 615.6,389.9" fill="#ffff00" stroke="#ffff00" stroke-width="5" stroke-linejoin="round"/>
<polygon points="615.6,307.9 645.0,307.9 645.0,389.9 615.6,389.9" fill="url(#pd)" />
<polygon points="632.4,320.0 645.0,315.2 645.0,353.7 634.8,351.3" fill="#0000cd" />
<polygon points="618.0,315.2 632.4,315.2 632.4,377.8 619.2,377.8" fill="url(#pm)" />
<polygon points="577.0,339.3 598.7,329.6 610.7,344.1 605.9,368.2 596.3,389.9 584.2,377.8 589.0,358.5" fill="#ffff00" />
<polygon points="308.3,211.5 343.2,211.5 346.8,228.4 339.6,247.7 343.2,266.9 338.4,271.8 339.6,293.5 331.2,297.1 323.9,286.2 325.1,266.9 319.1,252.5 314.3,233.2" fill="#ffff00" stroke="#ffff00" stroke-width="5" stroke-linejoin="round"/>
<polygon points="308.3,211.5 343.2,211.5 346.8,228.4 339.6,247.7 343.2,266.9 338.4,271.8 339.6,293.5 331.2,297.1 323.9,286.2 325.1,266.9 319.1,252.5 314.3,233.2" fill="url(#pd)" />
<polygon points="331.2,236.8 346.8,232.0 355.3,247.7 350.4,268.2 337.2,265.7 333.6,252.5" fill="#cdad00" />
<polygon points="358.9,197.1 410.7,197.1 411.9,213.9 402.3,233.2 392.6,257.3 387.8,277.8 367.3,282.6 358.9,264.5 367.3,245.3 363.7,221.2" fill="#ffff00" stroke="#ffff00" stroke-width="5" stroke-linejoin="round"/>
<polygon points="358.9,197.1 410.7,197.1 411.9,213.9 402.3,233.2 392.6,257.3 387.8,277.8 367.3,282.6 358.9,264.5 367.3,245.3 363.7,221.2" fill="url(#pd)" />
<polygon points="372.1,201.9 396.2,199.5 401.0,221.2 391.4,245.3 381.8,264.5 374.5,245.3 374.5,221.2" fill="url(#pm)" />
<polygon points="389.0,209.1 401.0,204.3 403.5,223.6 393.8,230.8" fill="#cdad00" />
<polygon points="367.3,206.7 376.9,204.3 378.2,211.5 368.5,212.7" fill="#0000cd" />
<polygon points="391.4,199.5 401.0,199.0 401.5,204.3 391.9,204.8" fill="#0000cd" />
<polygon points="430.0,199.5 444.4,198.3 449.3,211.5 437.2,216.3 428.8,209.1" fill="#ffff00" stroke="#ffff00" stroke-width="5" stroke-linejoin="round"/>
<polygon points="430.0,199.5 444.4,198.3 449.3,211.5 437.2,216.3 428.8,209.1" fill="#8b1a1a" />
<polygon points="458.9,198.3 475.8,198.3 476.2,213.9 463.7,211.5" fill="#ffff00" stroke="#ffff00" stroke-width="5" stroke-linejoin="round"/>
<polygon points="458.9,198.3 475.8,198.3 476.2,213.9 463.7,211.5" fill="#8b1a1a" />
<polygon points="395.0,265.7 410.7,240.4 425.2,224.8 444.4,229.6 468.5,239.2 478.7,257.3 481.1,277.8 463.7,282.6 450.5,292.3 430.0,294.7 410.7,282.6 398.2,277.8" fill="#90ee90" />
<polygon points="397.4,268.2 415.5,245.3 428.8,235.6 433.6,247.7 439.6,257.3 451.7,259.7 463.7,257.3 474.6,265.7 464.9,279.0 445.6,289.8 430.0,292.3 415.5,280.2 401.0,275.4" fill="#006400" />
<polygon points="437.2,236.8 461.3,239.2 472.2,250.1 461.3,256.1 449.3,253.7 439.6,246.5" fill="#90ee90" />
<polygon points="444.4,248.9 461.3,246.5 468.5,254.9 454.1,258.5" fill="#006400" />
<polygon points="414.3,257.3 422.7,255.4 432.9,266.9 440.1,277.1 432.9,278.5 420.3,268.2" fill="#ff00ff" />
<polygon points="455.3,262.6 466.1,260.9 466.6,264.1 456.0,265.7" fill="#ff00ff" />
<path d="M425.2 226.0 L420.3 209.1 L426.4 198.3" fill="none" stroke="#006400" stroke-width="3"/>
<polygon points="333.6,292.3 350.9,291.5 354.5,320.0 348.5,353.7 336.5,353.7 333.6,329.6" fill="#90ee90" />
<polygon points="339.6,298.3 348.0,298.3 349.2,320.0 340.8,329.6" fill="#cdad00" />
<polygon points="359.6,298.3 375.0,293.5 379.8,320.0 391.9,339.3 397.4,368.2 387.8,386.3 367.3,383.8 362.5,353.7 367.8,329.6" fill="#ffff00" stroke="#ffff00" stroke-width="5" stroke-linejoin="round"/>
<polygon points="359.6,298.3 375.0,293.5 379.8,320.0 391.9,339.3 397.4,368.2 387.8,386.3 367.3,383.8 362.5,353.7 367.8,329.6" fill="url(#pd)" />
<polygon points="374.5,329.6 384.2,334.4 386.6,353.7 376.9,351.3" fill="#cdad00" />
<polygon points="383.0,340.5 403.5,339.3 404.7,348.9 384.2,350.1" fill="#ffff00" stroke="#ffff00" stroke-width="5" stroke-linejoin="round"/>
<polygon points="383.0,340.5 403.5,339.3 404.7,348.9 384.2,350.1" fill="#8b1a1a" />
<polygon points="419.1,329.6 430.0,324.8 454.1,326.0 455.3,339.3 439.6,341.7 420.3,341.7" fill="#ffff00" stroke="#ffff00" stroke-width="5" stroke-linejoin="round"/>
<polygon points="419.1,329.6 430.0,324.8 454.1,326.0 455.3,339.3 439.6,341.7 420.3,341.7" fill="#8b1a1a" />
<polygon points="428.8,301.9 449.3,300.7 450.5,312.7 430.0,313.9" fill="#ffff00" stroke="#ffff00" stroke-width="5" stroke-linejoin="round"/>
<polygon points="428.8,301.9 449.3,300.7 450.5,312.7 430.0,313.9" fill="#8b1a1a" />
<polygon points="463.7,294.7 480.6,293.5 481.8,305.5 464.9,306.7" fill="#ffff00" stroke="#ffff00" stroke-width="5" stroke-linejoin="round"/>
<polygon points="463.7,294.7 480.6,293.5 481.8,305.5 464.9,306.7" fill="#8b1a1a" />
<polygon points="470.9,298.3 479.4,297.8 479.9,303.1 471.4,303.6" fill="#0000cd" />
<polygon points="401.0,320.0 415.5,318.8 416.7,327.2 402.3,328.4" fill="#ffff00" stroke="#ffff00" stroke-width="5" stroke-linejoin="round"/>
<polygon points="401.0,320.0 415.5,318.8 416.7,327.2 402.3,328.4" fill="#8b1a1a" />
<polygon points="374.5,344.1 396.2,351.3 420.3,353.7 439.6,363.4 430.0,375.4 403.5,370.6 386.6,363.4" fill="#ffff00" />
<polygon points="415.5,310.3 430.0,315.2 425.2,324.8 413.1,322.4" fill="#ffff00" />
<polygon points="449.3,315.2 468.5,320.0 463.7,329.6 451.7,327.2" fill="#ffff00" />
<polygon points="320.3,370.6 357.7,370.6 358.1,389.9 320.3,389.9" fill="#90ee90" />
<polygon points="323.9,374.2 355.3,373.5 355.3,387.0 323.9,387.5" fill="#006400" />
<polygon points="442.5,375.4 463.7,353.7 477.7,336.8 481.1,320.0 493.1,315.2 500.4,334.4 507.6,353.7 526.9,363.4 546.1,364.6 560.1,356.6 584.2,351.3 587.1,359.0 565.4,366.2 548.6,378.3 531.7,383.1 507.6,378.3 488.3,363.8 480.6,353.7 473.8,378.3 454.6,390.4 442.5,385.5" fill="#90ee90" />
<polygon points="483.5,324.8 491.4,322.4 497.9,341.7 510.0,358.5 531.7,365.8 543.3,371.8 531.7,378.3 510.0,373.5 490.7,359.0 484.7,341.7" fill="#006400" />
<polygon points="449.3,377.8 468.5,363.4 474.6,353.7 473.4,375.4 456.5,387.5" fill="#006400" />
<polygon points="470.9,330.8 479.4,329.6 480.1,336.8 471.7,338.0" fill="#ff00ff" />
<polygon points="513.1,363.4 522.8,362.2 523.2,365.8 513.6,367.0" fill="#ff00ff" />
<polygon points="665.1,286.2 679.5,274.2 691.6,264.5 706.0,257.3 725.3,254.9 744.6,250.1 759.1,242.8 762.0,253.0 749.9,267.4 745.1,281.9 735.5,298.8 721.0,298.8 716.2,281.9 701.7,279.5 682.4,284.3" fill="#90ee90" />
<polygon points="641.0,228.4 660.3,226.0 679.5,233.2 684.8,248.1 677.6,248.1 672.3,238.5 643.4,233.7" fill="#90ee90" />
<polygon points="691.6,228.9 713.3,219.2 735.0,221.2 721.0,226.5 718.6,240.9 725.8,255.4 716.2,257.8 713.3,233.7 696.9,233.7" fill="#90ee90" />
<polygon points="706.0,267.4 713.3,264.5 725.3,268.2 737.9,262.1 740.3,265.7 728.2,272.2 713.8,274.7" fill="#006400" />
<polygon points="600.0,242.8 619.3,240.9 638.6,248.1 647.0,266.9 641.0,283.8 628.9,291.0 600.0,288.6" fill="#ffff00" />
<polygon points="600.0,248.1 614.5,245.3 633.7,250.1 641.5,262.6 631.8,277.1 636.6,286.7 614.9,289.1 600.0,281.9" fill="#ffff00" stroke="#ffff00" stroke-width="5" stroke-linejoin="round"/>
<polygon points="600.0,248.1 614.5,245.3 633.7,250.1 641.5,262.6 631.8,277.1 636.6,286.7 614.9,289.1 600.0,281.9" fill="#8b1a1a" />
<polygon points="614.5,250.6 631.3,252.0 633.7,262.6 616.9,262.1" fill="url(#pm)" />
<polygon points="641.0,215.1 655.9,213.9 658.3,220.2 643.9,222.6" fill="#ffff00" stroke="#ffff00" stroke-width="5" stroke-linejoin="round"/>
<polygon points="641.0,215.1 655.9,213.9 658.3,220.2 643.9,222.6" fill="#8b1a1a" />
<polygon points="645.8,254.9 660.7,253.7 663.1,260.2 648.7,262.6" fill="#ffff00" stroke="#ffff00" stroke-width="5" stroke-linejoin="round"/>
<polygon points="645.8,254.9 660.7,253.7 663.1,260.2 648.7,262.6" fill="#8b1a1a" />
<polygon points="621.7,236.8 628.0,236.6 628.2,241.9 621.9,242.1" fill="#ffff00" stroke="#ffff00" stroke-width="5" stroke-linejoin="round"/>
<polygon points="621.7,236.8 628.0,236.6 628.2,241.9 621.9,242.1" fill="#8b1a1a" />
<polygon points="624.1,392.3 662.7,377.8 701.2,382.6 710.9,400.0 624.1,400.0" fill="#ffff00" />
<polygon points="600.0,291.0 628.9,291.0 653.5,301.2 663.1,320.5 660.7,339.7 670.4,354.2 668.0,378.3 648.7,390.4 631.8,395.2 617.4,400.0 600.0,400.0" fill="#ffff00" stroke="#ffff00" stroke-width="5" stroke-linejoin="round"/>
<polygon points="600.0,291.0 628.9,291.0 653.5,301.2 663.1,320.5 660.7,339.7 670.4,354.2 668.0,378.3 648.7,390.4 631.8,395.2 617.4,400.0 600.0,400.0" fill="url(#pd)" />
<polygon points="616.9,307.9 648.2,305.5 650.6,329.6 636.2,353.7 621.7,377.8 616.9,353.7" fill="url(#pm)" />
<polygon points="614.5,298.3 643.4,297.1 655.4,305.5 638.6,310.3 619.3,307.9" fill="#0000cd" />
<polygon points="636.2,320.0 648.2,322.4 657.8,339.3 650.6,341.7 638.6,329.6" fill="#0000cd" />
<polygon points="636.2,348.9 645.8,351.3 663.1,375.9 655.9,377.8 638.6,358.5" fill="#0000cd" />
<polygon points="621.7,320.0 631.3,320.0 631.3,339.3 624.1,344.1" fill="#0000cd" />
<polygon points="669.9,315.2 682.4,312.7 696.9,339.7 692.1,354.2 684.8,363.8 670.4,366.2 667.5,359.0 677.6,351.8 675.2,334.9" fill="#90ee90" />
<polygon points="674.7,353.7 681.9,353.2 682.4,360.9 675.2,361.4" fill="#006400" />
<polygon points="681.5,302.6 689.7,305.5 704.1,320.0 708.9,334.9 704.1,351.8 696.4,354.2 699.3,339.7 694.5,325.3 684.4,313.2" fill="#ffff00" stroke="#ffff00" stroke-width="5" stroke-linejoin="round"/>
<polygon points="681.5,302.6 689.7,305.5 704.1,320.0 708.9,334.9 704.1,351.8 696.4,354.2 699.3,339.7 694.5,325.3 684.4,313.2" fill="#8b1a1a" />
<polygon points="688.0,310.3 701.2,324.8 705.1,337.3 701.2,339.7 696.4,327.7 686.8,314.2" fill="#0000cd" />
<polygon points="718.1,310.3 735.0,312.7 730.6,327.7 723.4,334.9" fill="#90ee90" />
<polygon points="713.3,377.8 721.0,370.6 735.5,377.8 742.7,387.9 725.8,390.4 713.3,387.9" fill="#ffff00" stroke="#ffff00" stroke-width="5" stroke-linejoin="round"/>
<polygon points="713.3,377.8 721.0,370.6 735.5,377.8 742.7,387.9 725.8,390.4 713.3,387.9" fill="#8b1a1a" />
<polygon points="743.6,344.6 759.1,336.8 769.2,339.3 769.2,368.7 754.7,366.2 744.6,359.0" fill="#90ee90" />
<polygon points="756.7,342.1 769.2,339.7 769.2,362.6 759.6,359.0" fill="#006400" />
<polygon points="742.2,386.3 756.7,376.6 769.2,379.0 769.2,400.0 742.2,400.0" fill="#90ee90" />
<polygon points="745.1,387.9 757.1,379.7 769.2,381.4 769.2,400.0 745.1,400.0" fill="#006400" />
<polygon points="765.8,327.2 775.9,324.3 785.1,329.6 785.6,344.1 778.4,350.1 768.7,346.5" fill="#ffff00" />
<polygon points="771.6,327.7 782.0,328.6 782.7,341.7 772.6,343.1" fill="#ffff00" stroke="#ffff00" stroke-width="5" stroke-linejoin="round"/>
<polygon points="771.6,327.7 782.0,328.6 782.7,341.7 772.6,343.1" fill="#8b1a1a" />
<polygon points="774.7,332.0 779.6,332.5 779.8,338.3 775.0,338.3" fill="url(#pm)" />
<polygon points="783.2,201.9 816.9,199.5 821.7,211.5 792.8,216.3" fill="#e6d400" />
<polygon points="616.9,385.0 744.6,385.0 744.6,399.5 735.0,416.8 616.9,416.8" fill="#ffff00" />
<polygon points="636.2,389.8 684.4,392.2 679.5,409.1 641.0,406.7" fill="#e6d400" />
<polygon points="600.0,385.0 616.9,385.0 616.9,416.8 600.0,416.8" fill="#ffff00" stroke="#ffff00" stroke-width="5" stroke-linejoin="round"/>
<polygon points="600.0,385.0 616.9,385.0 616.9,416.8 600.0,416.8" fill="#8b1a1a" />
<polygon points="614.7,385.0 644.3,385.0 630.4,395.4 621.7,406.0 618.3,418.0 614.7,418.0" fill="#ffff00" stroke="#ffff00" stroke-width="5" stroke-linejoin="round"/>
<polygon points="614.7,385.0 644.3,385.0 630.4,395.4 621.7,406.0 618.3,418.0 614.7,418.0" fill="#8b1a1a" />
<polygon points="694.0,404.3 713.3,401.9 725.8,409.1 742.7,404.3 742.7,419.2 696.4,419.2" fill="#ffff00" stroke="#ffff00" stroke-width="5" stroke-linejoin="round"/>
<polygon points="694.0,404.3 713.3,401.9 725.8,409.1 742.7,404.3 742.7,419.2 696.4,419.2" fill="#8b1a1a" />
<polygon points="716.9,405.5 724.1,405.5 724.1,411.5 716.9,411.5" fill="#0000cd" />
<polygon points="661.5,423.6 694.0,422.4 708.5,433.2 696.4,457.3 681.9,464.5 672.3,447.7 661.5,445.3" fill="#e6d400" />
<polygon points="672.3,424.8 691.6,424.8 696.4,438.0 684.4,445.3 674.7,438.0" fill="#ffff00" />
<polygon points="665.1,450.1 674.7,452.5 673.5,462.1 664.6,460.9" fill="#006400" />
<polygon points="660.3,454.9 681.9,464.5 679.5,491.0 669.9,505.5 672.3,529.6 660.3,529.6" fill="#006400" />
<polygon points="660.7,464.5 672.3,466.9 679.5,481.4 672.3,498.3 661.5,498.3" fill="#ff00ff" />
<polygon points="661.5,500.7 672.3,498.3 677.1,520.0 662.7,527.2" fill="#cdad00" />
<polygon points="672.3,520.0 669.9,505.5 681.9,491.0 679.5,471.8 692.1,447.7 696.9,426.0 716.2,421.2 737.9,421.2 745.1,445.3 749.9,464.5 754.7,486.7 745.1,498.8 749.9,520.5 745.1,530.1 735.0,530.1 715.7,525.3 696.4,527.7 679.5,527.7" fill="#ffff00" stroke="#ffff00" stroke-width="5" stroke-linejoin="round"/>
<polygon points="672.3,520.0 669.9,505.5 681.9,491.0 679.5,471.8 692.1,447.7 696.9,426.0 716.2,421.2 737.9,421.2 745.1,445.3 749.9,464.5 754.7,486.7 745.1,498.8 749.9,520.5 745.1,530.1 735.0,530.1 715.7,525.3 696.4,527.7 679.5,527.7" fill="url(#pd)" />
<polygon points="696.4,433.2 713.3,426.0 735.0,428.4 742.2,452.5 735.0,466.9 725.3,457.3 713.3,447.7 701.2,457.3 694.0,452.5" fill="url(#pm)" />
<polygon points="725.3,466.9 744.6,464.5 751.8,483.8 739.8,491.0 727.7,486.2" fill="url(#pm)" />
<polygon points="711.4,423.6 725.8,423.6 735.5,448.1 730.6,467.4 721.0,486.7 716.2,501.2 725.8,520.5 706.5,525.3 682.4,515.6 680.0,506.0 696.9,498.8 701.7,479.5 708.9,457.8 713.3,438.5" fill="url(#pb)" />
<polygon points="715.7,440.4 725.3,442.8 727.7,464.5 720.5,481.4 713.3,464.5" fill="#0000cd" />
<polygon points="686.8,505.5 706.0,500.7 713.3,515.2 696.4,520.0" fill="#0000cd" />
<polygon points="720.5,501.2 730.6,498.3 740.3,510.8 740.3,530.1 725.8,530.1" fill="#ffff00" />
<polygon points="679.5,464.5 691.6,462.1 694.0,476.6 681.9,481.4" fill="#cdad00" />
<polygon points="743.6,421.2 815.0,421.2 815.0,428.4 768.7,433.2 747.0,447.7" fill="#90ee90" />
<polygon points="744.6,426.0 763.9,430.8 815.0,424.8 815.0,484.3 800.5,481.9 788.5,489.1 774.0,489.1 764.4,493.9 747.5,496.4 754.7,481.9 749.9,465.0 745.1,445.7" fill="#006400" />
<polygon points="751.8,462.6 768.7,457.3 786.1,460.2 788.5,472.2 778.8,484.3 764.4,486.7 754.7,479.5" fill="#90ee90" />
<polygon points="754.3,467.4 768.7,465.0 776.4,472.2 769.2,479.5 757.1,477.1" fill="#cdad00" />
<polygon points="747.0,495.9 768.7,493.5 773.5,529.6 749.4,529.6" fill="#006400" />
<polygon points="747.5,498.8 764.4,493.9 774.0,489.1 788.5,489.1 800.5,481.9 815.0,484.3 815.0,530.1 790.9,530.1 774.0,525.3 766.8,510.8 754.7,506.0" fill="#ff00ff" />
<polygon points="769.2,498.8 783.7,493.9 800.5,491.5 815.0,491.5 815.0,527.7 793.3,527.7 776.4,520.5" fill="#8b008b" />
<polygon points="600.0,421.2 614.9,421.2 616.9,457.3 609.6,498.3 600.0,498.3" fill="#ffff00" stroke="#ffff00" stroke-width="5" stroke-linejoin="round"/>
<polygon points="600.0,421.2 614.9,421.2 616.9,457.3 609.6,498.3 600.0,498.3" fill="#8b1a1a" />
<polygon points="601.2,445.3 608.4,445.3 608.4,486.2 601.2,486.2" fill="url(#pm)" />
<polygon points="614.5,421.2 648.7,421.2 648.7,431.3 614.9,431.3" fill="#0000cd" />
<polygon points="614.9,432.0 631.3,432.0 631.3,457.3 616.9,457.3" fill="#ffff00" />
<polygon points="631.3,431.3 658.3,431.3 658.3,457.8 631.3,457.8" fill="#006400" />
<polygon points="604.8,462.6 633.7,457.8 658.3,465.0 658.3,520.5 636.2,530.1 600.0,530.1 600.0,498.3 609.6,498.3" fill="#8b008b" />
<polygon points="614.5,464.5 636.2,462.1 648.2,481.4 638.6,498.3 619.3,491.0" fill="#ff00ff" />
<polygon points="621.7,479.0 648.2,477.1 648.7,496.4 636.2,510.3 622.2,498.3" fill="#f4a460" />
<polygon points="609.6,498.3 621.7,500.7 624.1,520.0 607.2,524.8" fill="#006400" />
<polygon points="607.2,515.2 645.8,520.0 648.2,529.6 607.2,529.6" fill="#cd6600" />
<polygon points="660.3,532.5 696.4,532.5 701.2,577.8 691.6,600.0 660.3,600.0" fill="#006400" />
<polygon points="660.7,534.9 680.0,534.9 680.0,563.8 672.3,568.2 660.7,563.8" fill="#ff00ff" />
<polygon points="692.8,532.5 780.8,532.5 783.2,575.4 735.0,579.0 694.0,575.9" fill="#90ee90" />
<polygon points="696.9,534.9 778.8,534.9 778.8,573.5 735.5,575.9 696.9,573.5" fill="#cdad00" />
<polygon points="715.7,532.5 725.8,532.5 730.6,554.2 749.9,539.7 745.1,568.7 735.5,571.1 720.5,554.2" fill="#ffff00" stroke="#ffff00" stroke-width="5" stroke-linejoin="round"/>
<polygon points="715.7,532.5 725.8,532.5 730.6,554.2 749.9,539.7 745.1,568.7 735.5,571.1 720.5,554.2" fill="#8b1a1a" />
<polygon points="738.6,544.1 744.6,541.7 744.1,563.4 737.4,564.6" fill="#0000cd" />
<polygon points="706.0,554.9 720.5,554.9 720.5,565.8 706.0,565.8" fill="#ffff00" stroke="#ffff00" stroke-width="5" stroke-linejoin="round"/>
<polygon points="706.0,554.9 720.5,554.9 720.5,565.8 706.0,565.8" fill="#8b1a1a" />
<polygon points="713.3,575.4 749.4,573.0 754.3,600.0 720.5,600.0" fill="#006400" />
<polygon points="691.6,571.1 725.3,571.1 720.5,600.0 686.8,600.0" fill="#ff00ff" />
<polygon points="744.6,553.7 768.7,544.1 792.8,539.3 792.8,600.0 754.3,600.0 749.4,573.0" fill="#8b008b" />
<polygon points="778.4,539.3 792.8,533.2 792.8,553.7 780.8,558.5" fill="#ff00ff" />
<polygon points="766.3,575.4 792.8,570.6 792.8,587.5 768.7,589.9" fill="#f4a460" />
<polygon points="600.0,532.5 658.3,532.5 658.3,600.0 600.0,600.0" fill="#8b008b" />
<polygon points="614.5,539.3 648.2,536.8 653.0,563.4 643.4,592.3 624.1,587.5 616.9,563.4" fill="#006400" />
<polygon points="621.7,544.1 643.4,541.7 648.2,563.4 628.9,568.2" fill="#ff00ff" />
<polygon points="600.0,553.7 614.5,558.5 628.9,582.6 624.1,592.3 604.8,577.8" fill="#f4a460" />
<polygon points="317.9,394.6 343.2,392.2 357.7,399.5 367.3,416.3 352.8,428.4 343.2,447.7 350.4,464.5 365.4,486.7 375.0,515.6 391.9,544.6 401.5,573.5 411.2,600.0 391.4,600.0 375.0,554.2 360.6,520.5 346.1,498.8 331.6,477.1 319.1,457.3 316.7,433.2" fill="#006400" />
<polygon points="322.7,399.5 343.2,397.1 355.3,409.1 348.0,426.0 336.0,440.4 323.9,433.2" fill="#cdad00" />
<polygon points="331.2,395.8 367.3,394.6 367.3,404.3 333.6,406.7" fill="#90ee90" />
<polygon points="376.9,426.5 393.8,425.5 394.3,438.5 377.4,439.2" fill="#ffff00" stroke="#ffff00" stroke-width="5" stroke-linejoin="round"/>
<polygon points="376.9,426.5 393.8,425.5 394.3,438.5 377.4,439.2" fill="#8b1a1a" />
<polygon points="396.2,445.3 408.3,445.3 408.3,457.3 398.6,457.3" fill="#ffff00" stroke="#ffff00" stroke-width="5" stroke-linejoin="round"/>
<polygon points="396.2,445.3 408.3,445.3 408.3,457.3 398.6,457.3" fill="#8b1a1a" />
<polygon points="386.6,399.5 408.3,397.1 410.7,423.6 398.6,433.2 389.0,421.2" fill="#ffff00" />
<polygon points="343.2,464.5 351.6,433.2 358.1,423.6 368.5,421.2 377.4,433.7 391.9,465.0 403.9,486.7 420.8,520.5 444.9,554.2 449.7,578.3 440.1,600.0 408.8,600.0 401.5,568.7 387.1,539.7 370.2,510.8 353.3,486.7" fill="#8b008b" />
<polygon points="340.8,466.9 350.4,464.5 357.7,486.2 350.4,491.0" fill="#ff00ff" />
<polygon points="355.3,431.3 365.4,426.0 372.6,440.9 382.2,465.0 391.9,481.9 408.8,506.0 430.5,534.9 440.1,554.2 430.5,566.2 411.2,554.2 396.7,530.1 382.2,501.2 367.8,481.9 358.1,457.8" fill="#cd6600" />
<polygon points="360.6,442.8 368.5,445.3 377.4,466.9 384.7,481.4 379.8,486.2 370.9,479.0 364.4,462.1" fill="#f4a460" />
<polygon points="393.8,510.3 405.9,513.9 417.9,534.4 410.7,539.3 398.6,527.2" fill="#f4a460" />
<polygon points="406.4,541.7 420.8,534.4 440.1,554.2 444.9,578.3 435.3,587.9 420.8,578.3 411.2,559.0" fill="#00ffff" />
<polygon points="415.5,558.5 430.0,563.4 437.2,577.8 428.0,583.1 417.9,573.0" fill="#008b8b" />
<polygon points="420.3,548.9 434.8,551.3 433.6,563.4 422.7,563.4" fill="#cd6600" />
<polygon points="396.2,452.5 408.3,450.1 430.0,481.4 454.1,510.3 468.5,539.3 470.9,563.4 461.3,568.2 444.4,534.4 425.2,505.5 403.5,471.8" fill="#ffff00" />
<polygon points="401.0,455.4 411.2,457.8 430.5,486.7 449.7,510.8 461.8,534.9 464.2,559.0 452.1,563.8 440.1,539.7 425.6,510.8 408.8,481.9 399.1,465.0" fill="#ffff00" stroke="#ffff00" stroke-width="5" stroke-linejoin="round"/>
<polygon points="401.0,455.4 411.2,457.8 430.5,486.7 449.7,510.8 461.8,534.9 464.2,559.0 452.1,563.8 440.1,539.7 425.6,510.8 408.8,481.9 399.1,465.0" fill="#8b1a1a" />
<polygon points="417.9,491.5 428.0,493.9 449.7,520.5 457.0,542.1 454.6,554.2 444.9,549.4 435.3,525.3 423.2,506.0" fill="#0000cd" />
<polygon points="415.5,394.6 463.7,394.6 545.7,394.6 545.7,413.9 511.9,423.6 492.6,416.3 463.7,409.1 430.0,413.9 415.5,409.1" fill="url(#pn)" />
<polygon points="416.7,430.8 430.0,404.3 463.7,397.1 511.9,398.3 536.0,401.9 526.4,421.2 502.3,426.0 485.4,440.4 473.8,448.1 454.6,453.0 430.5,448.1" fill="url(#pg)" />
<polygon points="430.0,426.0 444.4,409.1 463.7,406.7 470.9,421.2 463.7,438.0 444.4,442.8" fill="#006400" />
<polygon points="478.2,399.5 511.9,399.5 513.1,416.3 495.0,421.2 479.4,416.8" fill="#90ee90" />
<polygon points="425.2,448.1 440.1,440.9 454.6,445.7 464.2,457.8 452.1,474.7 435.3,477.1 423.2,465.0" fill="#ff00ff" />
<polygon points="432.9,450.6 449.3,448.9 452.9,462.1 439.6,469.4 431.2,462.1" fill="#8b008b" />
<polygon points="417.9,464.5 425.2,464.5 430.0,479.0 420.3,481.4" fill="#006400" />
<polygon points="485.4,421.2 536.0,413.9 545.7,445.3 545.7,481.4 526.4,486.2 511.9,491.0 492.6,498.3 473.4,486.2 463.7,464.5 478.2,445.3" fill="url(#pn)" />
<polygon points="483.0,469.4 495.0,465.7 504.7,474.2 499.9,486.2 487.8,487.4" fill="#ffff00" />
<polygon points="478.2,428.4 492.6,433.2 487.8,450.1 473.4,447.7" fill="#e6d400" />
<polygon points="504.7,399.5 508.1,399.5 503.2,411.5 499.9,411.5" fill="#ffff00" stroke="#ffff00" stroke-width="5" stroke-linejoin="round"/>
<polygon points="504.7,399.5 508.1,399.5 503.2,411.5 499.9,411.5" fill="#8b1a1a" />
<polygon points="511.9,433.2 515.3,433.2 510.5,447.7 507.1,447.7" fill="#ffff00" stroke="#ffff00" stroke-width="5" stroke-linejoin="round"/>
<polygon points="511.9,433.2 515.3,433.2 510.5,447.7 507.1,447.7" fill="#8b1a1a" />
<polygon points="521.6,423.6 524.9,423.6 520.1,440.4 516.7,440.4" fill="#ffff00" stroke="#ffff00" stroke-width="5" stroke-linejoin="round"/>
<polygon points="521.6,423.6 524.9,423.6 520.1,440.4 516.7,440.4" fill="#8b1a1a" />
<polygon points="531.2,447.7 534.6,447.7 529.8,466.9 526.4,466.9" fill="#ffff00" stroke="#ffff00" stroke-width="5" stroke-linejoin="round"/>
<polygon points="531.2,447.7 534.6,447.7 529.8,466.9 526.4,466.9" fill="#8b1a1a" />
<polygon points="536.0,457.3 539.4,457.3 537.0,476.6 533.6,476.6" fill="#ffff00" stroke="#ffff00" stroke-width="5" stroke-linejoin="round"/>
<polygon points="536.0,457.3 539.4,457.3 537.0,476.6 533.6,476.6" fill="#8b1a1a" />
<polygon points="473.4,476.6 476.7,476.6 471.9,486.2 468.5,486.2" fill="#ffff00" stroke="#ffff00" stroke-width="5" stroke-linejoin="round"/>
<polygon points="473.4,476.6 476.7,476.6 471.9,486.2 468.5,486.2" fill="#8b1a1a" />
<polygon points="483.0,471.8 486.4,471.8 484.0,483.8 480.6,483.8" fill="#ffff00" stroke="#ffff00" stroke-width="5" stroke-linejoin="round"/>
<polygon points="483.0,471.8 486.4,471.8 484.0,483.8 480.6,483.8" fill="#8b1a1a" />
<polygon points="495.0,466.9 498.4,466.9 493.6,481.4 490.2,481.4" fill="#ffff00" stroke="#ffff00" stroke-width="5" stroke-linejoin="round"/>
<polygon points="495.0,466.9 498.4,466.9 493.6,481.4 490.2,481.4" fill="#8b1a1a" />
<polygon points="519.2,464.5 522.5,464.5 515.3,481.4 511.9,481.4" fill="#ffff00" stroke="#ffff00" stroke-width="5" stroke-linejoin="round"/>
<polygon points="519.2,464.5 522.5,464.5 515.3,481.4 511.9,481.4" fill="#8b1a1a" />
<polygon points="538.4,418.7 541.8,418.7 539.4,433.2 536.0,433.2" fill="#ffff00" stroke="#ffff00" stroke-width="5" stroke-linejoin="round"/>
<polygon points="538.4,418.7 541.8,418.7 539.4,433.2 536.0,433.2" fill="#8b1a1a" />
<polygon points="415.5,477.1 430.5,481.9 464.2,498.8 493.1,506.0 512.4,491.5 536.5,486.7 546.1,491.5 546.1,515.6 512.4,520.5 478.7,515.6 449.7,501.2 420.8,486.7" fill="#006400" />
<polygon points="461.3,491.0 470.9,488.6 478.2,500.7 468.5,505.5" fill="#ff00ff" />
<polygon points="502.3,481.4 511.9,479.0 507.1,498.3 499.9,498.3" fill="#ff00ff" />
<polygon points="449.3,505.5 464.2,510.8 488.3,520.5 512.4,520.5 546.1,510.8 546.1,530.1 512.4,532.5 483.5,530.1 464.2,520.5" fill="#8b008b" />
<polygon points="483.0,527.7 511.9,529.6 546.1,527.2 546.1,541.7 511.9,541.7 487.8,539.3" fill="#cd6600" />
<polygon points="449.3,529.6 468.5,524.8 487.8,539.3 546.1,541.7 546.1,600.0 463.7,600.0 454.1,568.2" fill="url(#pc)" />
<polygon points="463.7,553.7 487.8,558.5 511.9,577.8 526.4,600.0 487.8,600.0 473.4,577.8" fill="#458b00" />
<polygon points="511.9,539.3 536.0,541.7 545.7,558.5 536.0,577.8 521.6,568.2" fill="#7d26cd" />
<polygon points="473.4,539.3 485.4,539.3 495.0,568.2 487.8,573.0" fill="#ab82ff" />
<polygon points="492.6,539.3 511.9,541.7 521.6,558.5 507.1,563.4" fill="#00ffff" />
<polygon points="449.3,539.3 463.7,544.1 468.5,568.2 456.5,573.0 446.8,558.5" fill="#cd6600" />
<polygon points="451.7,587.5 478.2,589.9 483.0,600.0 449.3,600.0" fill="#cd6600" />
<polygon points="507.1,577.8 521.6,575.4 526.4,589.9 511.9,592.3" fill="#adff2f" />
<polygon points="548.1,394.6 608.3,394.6 608.3,457.3 596.3,491.0 579.4,520.0 548.1,522.4" fill="#006400" />
<polygon points="550.5,394.6 584.2,394.6 574.6,406.7 552.9,409.1" fill="#90ee90" />
<polygon points="593.9,394.6 613.1,394.6 613.1,423.6 601.1,433.2 593.9,418.7" fill="#cdad00" />
<polygon points="550.5,414.4 565.4,404.8 584.7,407.2 594.3,424.0 596.8,448.1 584.7,465.0 567.8,486.7 558.2,481.9 560.6,457.8 551.0,438.5" fill="#ff00ff" />
<polygon points="555.8,416.8 579.9,412.0 589.5,433.7 579.9,453.0 565.4,455.4 555.8,438.5" fill="#8b008b" />
<polygon points="550.5,488.6 564.9,491.0 562.5,510.3 551.0,510.3" fill="#cdad00" />
<polygon points="606.4,426.5 618.5,421.6 620.9,457.8 608.8,486.7 594.3,510.8 579.9,515.6 591.9,491.5 604.0,465.0" fill="#ffff00" stroke="#ffff00" stroke-width="5" stroke-linejoin="round"/>
<polygon points="606.4,426.5 618.5,421.6 620.9,457.8 608.8,486.7 594.3,510.8 579.9,515.6 591.9,491.5 604.0,465.0" fill="#8b1a1a" />
<polygon points="608.3,447.7 615.6,445.3 613.1,466.9 605.9,469.4" fill="url(#pm)" />
<polygon points="618.0,418.7 645.0,417.5 645.0,433.2 619.2,434.4" fill="#ffff00" stroke="#ffff00" stroke-width="5" stroke-linejoin="round"/>
<polygon points="618.0,418.7 645.0,417.5 645.0,433.2 619.2,434.4" fill="#8b1a1a" />
<polygon points="619.2,421.6 645.0,420.7 645.0,430.3 619.9,431.3" fill="#0000cd" />
<polygon points="620.4,435.6 645.0,435.6 645.0,464.5 627.6,457.3" fill="#006400" />
<polygon points="596.3,488.6 608.3,491.0 603.5,510.3 593.9,510.3" fill="#ffff00" />
<polygon points="615.6,464.5 645.0,457.3 645.0,500.7 632.4,510.3 618.0,495.9" fill="#ff00ff" />
<polygon points="627.6,471.8 645.0,466.9 645.0,491.0 632.4,493.5" fill="#8b008b" />
<polygon points="548.1,520.0 645.0,515.2 645.0,530.1 548.1,530.1" fill="#8b008b" />
<polygon points="550.5,523.6 608.3,523.6 608.3,530.1 550.5,530.1" fill="#cd6600" />
<polygon points="546.3,540.0 659.6,540.0 659.6,568.9 621.0,578.6 587.3,568.9 563.2,554.5 546.3,554.5" fill="#8b008b" />
<polygon points="548.7,556.9 568.0,559.3 587.3,583.4 577.6,602.7 563.2,588.2 548.7,573.7" fill="#ff00ff" />
<polygon points="604.2,559.3 623.4,564.1 635.5,583.4 621.0,581.0 606.6,573.7" fill="#cd6600" />
<polygon points="568.0,556.9 587.3,554.5 596.9,573.7 592.1,597.8 577.6,588.2 570.4,573.7" fill="#006400" />
<polygon points="633.1,544.8 657.2,542.4 658.4,600.3 645.1,609.9 623.4,605.1 611.4,612.3 596.9,600.3 621.0,588.2 640.3,573.7" fill="#006400" />
<polygon points="592.1,559.3 606.6,566.5 611.4,588.2 621.0,600.3 611.4,609.9 596.9,597.8 589.7,578.6" fill="#cdad00" />
<polygon points="623.4,600.3 642.7,595.4 647.5,609.9 630.7,612.3" fill="#90ee90" />
<polygon points="641.5,609.9 656.0,609.9 657.2,626.8 642.7,627.2" fill="#ffff00" />
<polygon points="645.1,613.5 653.6,613.5 653.6,621.9 645.1,621.9" fill="#ffff00" stroke="#ffff00" stroke-width="5" stroke-linejoin="round"/>
<polygon points="645.1,613.5 653.6,613.5 653.6,621.9 645.1,621.9" fill="#8b1a1a" />
<polygon points="606.6,600.3 621.0,609.9 640.3,621.9 657.2,636.4 657.2,650.9 635.5,641.2 611.4,624.4 596.9,612.3" fill="#ff00ff" />
<polygon points="452.3,540.0 534.3,540.0 534.3,588.2 515.0,600.3 481.2,597.8 459.5,588.2 452.3,564.1" fill="url(#pc)" />
<polygon points="380.0,540.0 411.3,540.0 431.8,564.1 443.1,588.2 428.2,595.9 404.1,593.5 394.5,564.1" fill="#cd6600" />
<polygon points="404.1,554.5 440.3,552.1 445.6,581.0 423.4,586.3" fill="#00ffff" />
<polygon points="416.2,561.7 436.6,560.5 439.1,578.6 422.2,579.8" fill="#008b8b" />
<polygon points="441.5,540.0 455.9,540.0 457.1,550.8 446.3,554.5" fill="url(#pb)" />
<polygon points="380.0,544.8 396.9,568.9 404.1,595.4 430.6,609.9 459.5,619.5 476.4,650.9 481.2,655.7 461.9,626.8 437.8,614.7 406.5,602.7 394.5,578.6" fill="#8b008b" />
<polygon points="384.8,561.7 401.7,588.2 428.2,607.5 437.8,614.7 408.9,605.1 394.5,583.4" fill="#ff00ff" />
<polygon points="428.2,588.2 459.5,595.4 481.2,612.3 486.0,636.4 483.6,653.3 476.4,653.3 471.6,631.6 452.3,612.3 428.2,600.3" fill="#cd6600" />
<polygon points="440.3,591.8 476.4,594.2 481.2,602.7 452.3,601.5" fill="#f4a460" />
<polygon points="459.5,564.1 495.7,566.5 515.0,588.2 493.3,595.4 471.6,581.0" fill="#adff2f" />
<polygon points="481.2,578.6 515.0,583.4 524.6,597.8 500.5,600.3" fill="#458b00" />
<polygon points="493.3,571.3 515.0,573.7 529.4,588.2 524.6,597.8 507.7,588.2" fill="#7d26cd" />
<polygon points="515.0,544.8 534.3,547.2 534.3,566.5 522.2,564.1" fill="#cd6600" />
<polygon points="478.8,606.3 489.7,606.3 489.7,614.7 478.8,614.7" fill="#ffff00" />
<polygon points="500.5,602.7 524.6,597.8 540.3,607.5 534.3,619.5 534.3,650.9 505.3,650.9 500.5,631.6" fill="#8b7500" />
<polygon points="510.2,619.5 524.6,621.9 527.0,643.6 515.0,646.0" fill="#7d26cd" />
<polygon points="515.0,636.4 534.3,635.2 534.3,648.5 517.4,649.7" fill="#eedc82" />
<polygon points="536.7,609.9 563.2,605.1 584.9,612.3 596.9,621.9 592.1,641.2 572.8,631.6 553.5,641.2 539.1,636.4" fill="#7d26cd" />
<polygon points="555.9,612.3 570.4,611.1 572.8,619.5 558.4,621.9" fill="#458b00" />
<polygon points="563.2,621.9 587.3,617.1 592.1,626.8 568.0,631.6" fill="#ab82ff" />
<polygon points="534.3,641.2 553.5,638.8 572.8,626.8 587.3,620.7 604.2,626.8 607.8,641.2 596.9,653.3 577.6,665.3 563.2,670.2 534.3,655.7" fill="#8b7500" />
<polygon points="553.5,643.6 572.8,631.6 580.0,636.4 570.4,653.3 555.9,655.7" fill="#eedc82" />
<polygon points="572.8,665.3 587.3,648.5 609.0,641.2 621.0,653.3 621.0,675.0 604.2,684.6 592.1,679.8" fill="#7d26cd" />
<polygon points="592.1,648.5 611.4,646.0 618.6,665.3 601.7,670.2" fill="#ab82ff" />
<polygon points="596.9,670.2 621.0,660.5 642.7,646.0 649.9,660.5 640.3,675.0 621.0,684.6 604.2,684.6" fill="#458b00" />
<polygon points="604.2,672.6 618.6,667.7 621.0,677.4 609.0,682.2" fill="#adff2f" />
<polygon points="621.0,675.0 659.6,665.3 659.6,689.4 611.4,689.4" fill="#008b8b" />
<polygon points="621.0,677.4 630.7,675.0 633.1,687.0 622.2,687.5" fill="#cd6600" />
<polygon points="645.1,670.2 654.8,667.7 656.0,687.0 646.3,687.5" fill="#cd6600" />
<polygon points="584.9,588.2 596.9,593.0 611.4,619.5 630.7,641.2 621.0,646.0 601.7,624.4 587.3,605.1" fill="#00c5cd" />
<polygon points="660.8,540.0 730.0,540.0 730.0,588.2 693.3,597.8 681.3,641.2 669.2,653.3 660.8,650.9" fill="#006400" />
<polygon points="662.0,571.3 698.1,568.9 698.1,631.6 676.5,636.4 662.0,619.5" fill="#90ee90" />
<polygon points="669.2,576.2 690.9,573.7 693.3,621.9 678.9,626.8 669.2,612.3" fill="#cdad00" />
<polygon points="660.8,540.0 676.5,540.0 678.9,564.1 662.0,566.5" fill="#8b008b" />
<polygon points="693.3,564.1 717.4,561.7 722.3,588.2 700.6,590.6" fill="#ff00ff" />
<polygon points="706.6,553.3 717.4,553.3 717.4,564.1 706.6,564.1" fill="#ffff00" />
<polygon points="709.0,555.7 716.2,555.7 716.2,562.9 709.0,562.9" fill="#ffff00" stroke="#ffff00" stroke-width="5" stroke-linejoin="round"/>
<polygon points="709.0,555.7 716.2,555.7 716.2,562.9 709.0,562.9" fill="#8b1a1a" />
<polygon points="660.8,631.6 676.5,638.8 698.1,619.5 703.0,588.2 730.0,588.2 730.0,641.2 712.6,660.5 688.5,670.2 660.8,670.2" fill="#8b008b" />
<polygon points="703.0,593.0 717.4,590.6 719.8,619.5 715.0,655.7 703.0,660.5 705.4,626.8" fill="#cd6600" />
<polygon points="705.4,595.4 715.0,595.0 715.0,619.5 706.6,619.5" fill="#f4a460" />
<polygon points="660.8,648.5 683.7,643.6 688.5,670.2 676.5,687.5 660.8,687.5" fill="#cd6600" />
<polygon points="688.5,646.0 700.6,643.6 703.0,665.3 681.3,675.0 677.7,687.5 675.3,675.0" fill="#00ffff" />
<polygon points="717.4,631.6 730.0,629.2 730.0,653.3 719.8,655.7" fill="#00ffff" />
<polygon points="688.5,660.5 712.6,658.1 730.0,655.7 730.0,687.5 678.9,687.5" fill="#008b8b" />
<polygon points="661.0,531.1 794.2,531.1 794.2,594.0 743.6,638.4 714.0,638.4 661.0,638.4" fill="#006400" />
<polygon points="689.3,534.8 788.0,533.6 785.5,559.5 768.3,574.3 746.1,579.2 731.3,594.0 721.4,581.7 706.6,576.7 691.8,559.5" fill="#90ee90" />
<polygon points="696.7,537.3 778.1,536.0 778.1,554.5 763.3,569.3 743.6,574.3 728.8,569.3 709.1,569.3 698.0,554.5" fill="#cdad00" />
<polygon points="721.4,576.7 743.6,574.3 746.1,594.0 741.1,623.6 733.7,633.5 723.9,618.7 718.9,594.0" fill="#006400" />
<polygon points="728.8,581.7 736.7,581.7 736.7,595.2 729.3,595.2" fill="#90ee90" />
<polygon points="716.5,531.1 726.3,531.1 725.1,547.1 718.9,547.1" fill="#ffff00" stroke="#ffff00" stroke-width="5" stroke-linejoin="round"/>
<polygon points="716.5,531.1 726.3,531.1 725.1,547.1 718.9,547.1" fill="#8b1a1a" />
<polygon points="737.4,531.1 748.5,531.1 748.5,552.1 741.1,566.9 731.3,566.9 733.7,549.6" fill="#ffff00" stroke="#ffff00" stroke-width="5" stroke-linejoin="round"/>
<polygon points="737.4,531.1 748.5,531.1 748.5,552.1 741.1,566.9 731.3,566.9 733.7,549.6" fill="#8b1a1a" />
<polygon points="706.6,557.0 718.9,554.5 720.2,566.9 707.8,566.9" fill="#ffff00" stroke="#ffff00" stroke-width="5" stroke-linejoin="round"/>
<polygon points="706.6,557.0 718.9,554.5 720.2,566.9 707.8,566.9" fill="#8b1a1a" />
<polygon points="738.7,534.8 744.8,534.8 743.6,549.6 737.4,557.0 735.0,565.6 733.7,557.0" fill="#0000cd" />
<polygon points="726.3,520.0 741.6,520.0 739.2,531.1 727.6,531.1" fill="#ffff00" />
<polygon points="661.0,534.8 674.5,534.8 680.0,549.6 672.6,569.3 661.0,569.3" fill="#ff00ff" />
<polygon points="663.4,539.7 672.1,539.7 674.5,552.1 664.7,561.9" fill="#8b008b" />
<polygon points="661.0,569.3 684.4,566.9 699.2,576.7 696.7,601.4 689.3,623.6 677.0,638.4 664.7,635.9 661.0,618.7" fill="#90ee90" />
<polygon points="663.4,573.0 683.2,570.6 695.5,580.4 693.0,601.4 685.6,621.1 674.5,632.2 664.7,628.5" fill="#cdad00" />
<polygon points="689.3,564.4 704.6,566.9 721.9,579.2 729.3,601.4 739.2,628.5 744.1,643.3 734.2,658.1 721.9,635.9 714.0,618.7 701.7,635.9 689.3,648.3 674.5,658.1 662.2,650.7 677.0,638.4 691.8,623.6 699.2,601.4 693.0,581.7" fill="#8b008b" />
<polygon points="693.0,569.3 701.7,568.1 714.0,579.2 704.1,581.7" fill="#ff00ff" />
<polygon points="699.2,591.5 709.6,589.1 714.5,601.4 717.0,623.6 721.9,638.4 724.4,658.1 714.0,663.6 706.6,648.3 699.2,658.1 689.3,668.5 664.7,668.5 662.2,658.1 679.5,658.1 694.3,643.3 701.7,623.6" fill="#cd6600" />
<polygon points="696.7,648.3 706.6,653.2 714.0,638.4 723.9,635.9 726.3,653.2 714.0,668.0 689.3,671.0 677.0,668.5 689.3,663.1" fill="#00ffff" />
<polygon points="728.3,628.5 741.6,628.5 742.6,656.2 730.8,657.1" fill="#ffff00" />
<polygon points="732.5,638.4 737.7,638.4 738.2,652.2 733.2,652.7" fill="#ffff00" stroke="#ffff00" stroke-width="5" stroke-linejoin="round"/>
<polygon points="732.5,638.4 737.7,638.4 738.2,652.2 733.2,652.7" fill="#8b1a1a" />
<polygon points="743.6,552.1 794.2,534.8 832.9,534.8 827.5,552.1 812.7,561.9 797.9,575.5 794.2,601.4 778.1,601.4 763.3,594.0 753.5,603.9 746.1,623.6 741.1,613.7 746.1,594.0 743.6,574.3" fill="#8b008b" />
<polygon points="741.6,594.0 749.8,557.0 788.0,537.3 792.9,535.3 755.9,561.9 749.8,594.0 745.6,618.7" fill="#ff00ff" />
<polygon points="763.3,573.0 788.0,574.8 797.9,577.2 812.7,564.9 829.9,550.1 860.0,547.1 860.0,584.6 837.3,594.5 827.5,614.2 812.7,619.2 797.9,614.2 794.2,601.9 778.1,599.4 768.3,594.0 760.9,601.4 755.9,623.6 748.5,638.4 749.8,613.7 758.4,594.0" fill="#f4a460" />
<polygon points="797.9,584.1 827.5,569.3 847.2,566.9 837.3,591.5 812.7,601.4 797.9,601.4" fill="#e08a40" />
<polygon points="755.9,603.9 768.3,594.0 778.1,601.4 794.2,603.9 797.9,616.2 812.7,619.2 832.4,601.9 837.3,619.2 822.5,626.6 812.7,636.4 794.2,643.8 783.1,648.8 768.3,629.0 763.3,621.1 755.9,628.5 751.0,648.3 748.5,658.1 748.5,628.5" fill="#cd6600" />
<polygon points="753.5,650.7 755.9,628.5 765.8,621.1 770.7,631.0 783.1,648.8 794.2,643.8 812.7,636.4 822.5,626.6 837.3,619.2 840.3,626.6 828.0,636.4 813.2,646.3 798.4,658.6 778.6,658.6 773.2,648.3 765.8,635.9 760.9,648.3 758.4,668.5 753.5,668.5" fill="#00ffff" />
<polygon points="758.4,635.9 764.6,631.0 778.1,654.4 797.9,653.7 812.7,643.8 829.9,631.5 844.7,624.1 862.0,619.2 862.0,628.5 844.7,636.4 829.9,648.8 812.7,663.6 800.3,673.4 757.2,671.0 755.9,658.1" fill="#008b8b" />
<polygon points="765.8,658.1 774.4,656.9 778.6,671.0 768.3,671.0" fill="#adff2f" />
<polygon points="661.0,671.0 678.2,671.0 678.2,690.7 661.0,690.7" fill="#cd6600" />
<polygon points="714.0,671.0 797.9,671.0 803.3,693.2 798.4,717.8 778.6,740.0 748.5,740.0" fill="#008b8b" />
<polygon points="718.9,673.4 729.3,678.4 744.1,703.0 756.4,727.7 751.5,730.2 739.2,708.0 724.4,683.3" fill="#00ffff" />
<polygon points="758.4,700.1 773.7,700.1 783.6,720.3 773.7,730.2 763.8,725.2 756.4,712.9" fill="#cd6600" />
<polygon points="738.7,677.9 749.0,677.9 754.0,698.1 746.6,700.6" fill="#cd6600" />
<polygon points="773.2,692.7 788.0,697.6 797.9,714.9 788.0,724.7 785.5,712.4 778.1,702.5" fill="#00ffff" />
<polygon points="768.3,671.0 798.4,668.5 802.8,678.4 788.0,687.7 778.1,690.2 774.4,680.3" fill="#adff2f" />
<polygon points="788.0,717.3 800.3,714.9 802.8,729.7 790.5,734.6" fill="#adff2f" />
<polygon points="374.5,553.7 391.4,544.1 403.5,573.0 410.7,600.0 391.4,600.0" fill="#006400" />
<polygon points="386.6,553.7 401.0,548.9 420.3,582.6 430.0,600.0 408.3,600.0" fill="#8b008b" />
<polygon points="401.0,558.5 410.7,553.7 430.0,585.0 439.6,600.0 425.2,600.0" fill="#cd6600" />
<polygon points="360.7,525.5 380.0,544.8 394.5,578.6 406.5,602.7 437.8,614.7 461.9,626.8 481.2,655.7 476.4,655.7 452.3,619.5 404.1,597.8 370.4,554.5" fill="#8b008b" />
<polygon points="372.8,540.0 389.6,566.5 401.7,591.8 428.2,608.7 437.8,615.2 408.9,605.6 387.2,581.0 375.2,554.5" fill="#ff00ff" />
<polygon points="387.2,547.2 404.1,568.9 416.2,591.8 442.7,595.4 459.5,595.9 481.2,612.3 486.0,636.4 483.6,653.3 476.4,653.3 471.6,631.6 452.3,612.3 428.2,603.1 408.9,597.8 394.5,571.3" fill="#cd6600" />
<polygon points="394.5,585.8 411.3,597.8 404.1,600.3 392.1,590.6" fill="#006400" />
<polygon points="429.4,591.8 439.1,591.1 439.8,597.8 430.1,598.6" fill="#cdad00" />
<polygon points="437.8,600.3 459.5,588.2 481.2,597.8 505.3,600.3 500.5,619.5 486.0,636.4 476.4,619.5 457.1,609.9" fill="url(#pc)" />
<polygon points="531.8,535.2 659.6,535.2 659.6,619.5 621.0,612.3 584.9,600.3 548.7,576.2 531.8,559.3" fill="#8b008b" />
<polygon points="531.8,559.3 548.7,576.2 584.9,600.3 621.0,612.3 659.6,619.5 659.6,689.4 611.4,689.4 531.8,655.7" fill="url(#pc)" />
<polygon points="548.7,556.9 568.0,559.3 587.3,583.4 577.6,602.7 563.2,588.2 548.7,573.7" fill="#ff00ff" />
<polygon points="563.2,559.3 572.8,588.2 592.1,602.7 611.4,617.1 640.3,621.9 657.2,636.4 657.2,650.9 635.5,641.2 606.6,624.4 587.3,609.9 568.0,593.0 558.4,568.9" fill="#ff00ff" />
<polygon points="565.6,556.9 587.3,553.3 596.9,559.3 621.0,554.5 635.5,544.8 657.2,542.4 658.4,600.3 645.1,609.9 623.4,605.1 611.4,612.3 596.9,600.3 592.1,597.8 577.6,588.2 570.4,573.7" fill="#006400" />
<polygon points="596.9,554.5 621.0,552.1 640.3,568.9 630.7,583.4 611.4,576.2 599.3,566.5" fill="#8b008b" />
<polygon points="621.0,568.9 635.5,564.1 649.9,588.2 635.5,590.6" fill="#ff00ff" />
<polygon points="604.2,559.3 623.4,564.1 635.5,583.4 621.0,581.0 606.6,573.7" fill="#cd6600" />
<polygon points="609.0,564.1 621.0,566.5 623.4,576.2 611.4,573.7" fill="#f4a460" />
<polygon points="592.1,561.7 604.2,571.3 611.4,588.2 621.0,600.3 635.5,597.8 645.1,605.1 635.5,614.7 611.4,611.1 596.9,599.1 589.7,578.6" fill="#cdad00" />
<polygon points="623.4,600.3 642.7,595.4 647.5,609.9 630.7,612.3" fill="#90ee90" />
<polygon points="641.5,609.9 656.0,609.9 657.2,626.8 642.7,627.2" fill="#ffff00" />
<polygon points="645.1,613.5 653.6,613.5 653.6,621.9 645.1,621.9" fill="#ffff00" stroke="#ffff00" stroke-width="5" stroke-linejoin="round"/>
<polygon points="645.1,613.5 653.6,613.5 653.6,621.9 645.1,621.9" fill="#8b1a1a" />
<polygon points="596.9,573.7 604.2,573.7 604.2,581.0 596.9,581.0" fill="#ffff00" />
<polygon points="536.7,609.9 563.2,605.1 584.9,612.3 596.9,621.9 592.1,641.2 572.8,631.6 553.5,641.2 539.1,636.4" fill="#7d26cd" />
<polygon points="555.9,612.3 570.4,611.1 572.8,619.5 558.4,621.9" fill="#458b00" />
<polygon points="563.2,621.9 587.3,617.1 592.1,626.8 568.0,631.6" fill="#ab82ff" />
<polygon points="534.3,641.2 553.5,638.8 572.8,626.8 587.3,620.7 604.2,626.8 607.8,641.2 596.9,653.3 577.6,665.3 563.2,670.2 534.3,655.7" fill="#8b7500" />
<polygon points="553.5,643.6 572.8,631.6 580.0,636.4 570.4,653.3 555.9,655.7" fill="#eedc82" />
<polygon points="534.3,612.3 546.3,614.7 548.7,641.2 536.7,646.0" fill="#eedc82" />
<polygon points="572.8,665.3 587.3,648.5 609.0,641.2 621.0,653.3 621.0,675.0 604.2,684.6 592.1,679.8" fill="#7d26cd" />
<polygon points="592.1,648.5 611.4,646.0 618.6,665.3 601.7,670.2" fill="#ab82ff" />
<polygon points="596.9,670.2 621.0,660.5 642.7,646.0 649.9,660.5 640.3,675.0 621.0,684.6 604.2,684.6" fill="#458b00" />
<polygon points="604.2,672.6 618.6,667.7 621.0,677.4 609.0,682.2" fill="#adff2f" />
<polygon points="621.0,675.0 659.6,665.3 659.6,689.4 611.4,689.4" fill="#008b8b" />
<polygon points="621.0,677.4 630.7,675.0 633.1,687.0 622.2,687.5" fill="#cd6600" />
<polygon points="645.1,670.2 654.8,667.7 656.0,687.0 646.3,687.5" fill="#cd6600" />
<polygon points="642.7,636.4 657.2,641.2 658.4,660.5 647.5,655.7" fill="#ff00ff" />
<polygon points="476.4,612.3 493.3,619.5 505.3,631.6 505.3,650.9 483.6,653.3 486.0,636.4" fill="#cd6600" />
<polygon points="483.6,619.5 493.3,624.4 495.7,641.2 488.5,643.6" fill="#8b008b" />
<polygon points="482.3,315.2 494.6,322.1 499.9,339.5 513.6,353.5 531.2,360.2 543.3,367.2 550.5,368.2 541.6,377.8 525.9,381.2 508.5,374.2 494.6,363.8 485.9,349.9 480.6,332.5 480.6,322.1" fill="#90ee90" stroke="#90ee90" stroke-width="8" stroke-linejoin="round"/>
<polygon points="482.3,315.2 494.6,322.1 499.9,339.5 513.6,353.5 531.2,360.2 543.3,367.2 550.5,368.2 541.6,377.8 525.9,381.2 508.5,374.2 494.6,363.8 485.9,349.9 480.6,332.5 480.6,322.1" fill="#006400" />
<polygon points="543.3,363.4 560.1,356.6 584.2,351.3 587.1,359.0 565.4,366.2 548.6,378.3" fill="#90ee90" />
<polygon points="478.9,336.1 473.6,330.8 466.8,339.5 461.5,351.8 452.9,367.2 444.2,377.8 447.8,384.6 459.9,374.2 470.2,360.2 478.9,346.5" fill="#90ee90" stroke="#90ee90" stroke-width="9" stroke-linejoin="round"/>
<polygon points="478.9,336.1 473.6,330.8 466.8,339.5 461.5,351.8 452.9,367.2 444.2,377.8 447.8,384.6 459.9,374.2 470.2,360.2 478.9,346.5" fill="#006400" />
<polygon points="472.2,329.6 480.6,328.4 481.1,335.6 472.9,336.8" fill="#ff00ff" />
<polygon points="497.5,351.3 507.1,353.7 508.3,357.3 498.7,355.6" fill="#ff00ff" />
<polygon points="521.6,368.2 532.4,367.0 532.9,370.6 522.0,371.8" fill="#ff00ff" />
<polygon points="1314.7,387.5 1311.4,355.7 1399.1,311.9 1453.8,303.1 1499.8,303.1 1504.2,224.3 1607.2,224.3 1607.2,314.1 1587.4,322.9 1563.4,333.8 1539.3,344.8 1521.7,351.3 1515.2,353.5 1508.6,360.1 1495.4,357.9 1486.7,364.5 1477.9,371.1 1473.5,377.6 1472.4,386.4 1460.4,388.6 1457.1,373.2 1453.8,362.3 1450.5,353.5 1445.1,362.3 1438.5,375.4 1434.1,386.4 1427.5,393.0 1418.8,397.3 1410.0,401.7 1399.1,409.4 1388.1,399.5 1377.2,399.5 1366.2,402.8 1355.2,405.0 1346.5,403.9 1333.3,409.4 1322.4,401.7 1313.6,395.1" fill="#90ee90" stroke="#90ee90" stroke-width="9" stroke-linejoin="round"/>
<polygon points="1314.7,387.5 1311.4,355.7 1399.1,311.9 1453.8,303.1 1499.8,303.1 1504.2,224.3 1607.2,224.3 1607.2,314.1 1587.4,322.9 1563.4,333.8 1539.3,344.8 1521.7,351.3 1515.2,353.5 1508.6,360.1 1495.4,357.9 1486.7,364.5 1477.9,371.1 1473.5,377.6 1472.4,386.4 1460.4,388.6 1457.1,373.2 1453.8,362.3 1450.5,353.5 1445.1,362.3 1438.5,375.4 1434.1,386.4 1427.5,393.0 1418.8,397.3 1410.0,401.7 1399.1,409.4 1388.1,399.5 1377.2,399.5 1366.2,402.8 1355.2,405.0 1346.5,403.9 1333.3,409.4 1322.4,401.7 1313.6,395.1" fill="#cdad00" />
<polygon points="1299.4,393.0 1313.6,393.0 1322.4,401.7 1333.3,409.4 1346.5,403.9 1355.2,405.0 1366.2,402.8 1377.2,399.5 1388.1,399.5 1399.1,409.4 1410.0,401.7 1418.8,397.3 1421.0,408.3 1412.2,417.1 1399.1,421.4 1388.1,425.8 1377.2,430.2 1366.2,430.2 1355.2,434.6 1346.5,443.3 1337.7,452.1 1320.2,453.2 1324.6,441.2 1333.3,430.2 1333.3,421.4 1322.4,414.9 1311.4,408.3 1302.7,403.9" fill="#90ee90" />
<polygon points="1355.2,421.4 1368.4,414.9 1385.9,412.7 1399.1,412.7 1407.8,408.3 1407.8,414.9 1390.3,421.4 1372.8,423.6 1359.6,430.2 1350.9,439.0 1346.5,434.6" fill="#006400" />
<polygon points="1302.7,408.3 1315.8,412.7 1329.0,425.8 1324.6,439.0 1315.8,452.1 1299.4,452.1 1299.4,412.7" fill="#006400" />
<polygon points="1309.2,399.5 1320.2,406.1 1324.6,414.9 1315.8,412.7 1307.1,406.1" fill="#4fb05a" />
<polygon points="1333.3,443.3 1346.5,425.8 1351.3,421.4 1353.5,424.1 1348.7,430.6 1338.2,446.0" fill="#cdad00" />
<polygon points="1331.2,353.5 1346.5,352.4 1361.8,355.7 1390.3,353.5 1401.2,360.1 1399.1,371.1 1385.9,373.2 1377.2,377.6 1364.0,373.2 1350.9,371.1 1337.7,366.7 1331.2,362.3" fill="#90ee90" />
<polygon points="1366.2,359.0 1377.2,357.9 1383.7,364.5 1381.5,377.6 1376.1,375.4 1372.8,364.5" fill="#006400" />
<polygon points="1390.3,357.9 1399.1,360.1 1396.9,365.6 1389.2,363.4" fill="#006400" />
<polygon points="1355.2,366.7 1361.8,366.7 1362.9,374.3 1356.3,373.2" fill="#006400" />
<polygon points="1440.7,421.4 1446.2,399.5 1450.5,377.6 1452.7,353.5 1456.5,352.4 1456.5,377.6 1453.8,399.5 1451.6,419.2" fill="#90ee90" stroke="#90ee90" stroke-width="7"/>
<polygon points="1440.7,421.4 1446.2,399.5 1450.5,377.6 1452.7,353.5 1456.5,352.4 1456.5,377.6 1453.8,399.5 1451.6,419.2" fill="#006400" />
<polygon points="1415.5,337.1 1425.3,331.6 1438.5,333.8 1446.2,344.8 1442.9,355.7 1431.9,360.1 1421.0,353.5" fill="#ffff00" />
<polygon points="1421.0,347.4 1427.5,343.0 1437.4,341.5 1438.9,347.0 1431.9,354.0 1425.3,352.7" fill="#ffff00" stroke="#ffff00" stroke-width="5" stroke-linejoin="round"/>
<polygon points="1421.0,347.4 1427.5,343.0 1437.4,341.5 1438.9,347.0 1431.9,354.0 1425.3,352.7" fill="#8b1a1a" />
<polygon points="1438.5,330.5 1448.3,329.4 1449.0,335.1 1439.6,335.6" fill="#ffff00" stroke="#ffff00" stroke-width="5" stroke-linejoin="round"/>
<polygon points="1438.5,330.5 1448.3,329.4 1449.0,335.1 1439.6,335.6" fill="#8b1a1a" />
<polygon points="1401.2,342.6 1412.2,342.1 1412.6,350.5 1401.7,350.9" fill="#ffff00" />
<polygon points="1405.2,345.2 1409.1,345.2 1409.1,347.8 1405.2,347.8" fill="#ffff00" stroke="#ffff00" stroke-width="5" stroke-linejoin="round"/>
<polygon points="1405.2,345.2 1409.1,345.2 1409.1,347.8 1405.2,347.8" fill="#8b1a1a" />
<polygon points="1429.7,386.4 1440.7,386.4 1440.7,395.1 1429.7,395.1" fill="#ffff00" />
<polygon points="1462.6,311.9 1471.3,310.8 1473.5,333.8 1467.0,362.3 1462.6,362.3 1464.8,333.8" fill="#ffff00" />
<polygon points="1480.1,311.9 1491.1,310.8 1486.7,333.8 1482.3,336.0" fill="#ffff00" />
<polygon points="1469.2,316.3 1472.4,316.3 1471.3,333.8 1468.7,333.8" fill="#ffff00" stroke="#ffff00" stroke-width="5" stroke-linejoin="round"/>
<polygon points="1469.2,316.3 1472.4,316.3 1471.3,333.8 1468.7,333.8" fill="#8b1a1a" />
<polygon points="1463.7,355.7 1467.0,355.7 1466.5,366.7 1463.7,366.7" fill="#ffff00" stroke="#ffff00" stroke-width="5" stroke-linejoin="round"/>
<polygon points="1463.7,355.7 1467.0,355.7 1466.5,366.7 1463.7,366.7" fill="#8b1a1a" />
<polygon points="1458.6,310.8 1463.0,310.8 1462.6,340.4 1459.3,340.4" fill="#90ee90" />
<polygon points="1493.3,296.6 1513.0,294.4 1508.6,318.5 1495.4,338.2 1486.7,337.1 1495.4,316.3" fill="#ffff00" />
<polygon points="1500.9,298.8 1508.6,296.6 1507.5,314.1 1499.8,325.0 1493.3,333.8 1491.1,329.4 1497.6,316.3" fill="#ffff00" stroke="#ffff00" stroke-width="5" stroke-linejoin="round"/>
<polygon points="1500.9,298.8 1508.6,296.6 1507.5,314.1 1499.8,325.0 1493.3,333.8 1491.1,329.4 1497.6,316.3" fill="#8b1a1a" />
<polygon points="1484.5,377.6 1495.4,364.5 1506.4,363.4 1513.0,368.9 1508.6,377.6 1495.4,382.0 1486.7,386.4" fill="#006400" />
<polygon points="1457.1,393.0 1471.3,390.8 1486.7,393.0 1491.1,399.5 1482.3,403.9 1464.8,403.9 1456.5,408.3" fill="#90ee90" />
<polygon points="1467.0,395.1 1473.5,393.0 1475.7,401.7 1469.2,402.8" fill="#006400" />
<polygon points="1212.9,584.6 1234.8,562.7 1252.3,543.0 1265.4,527.6 1276.4,512.3 1285.1,501.3 1293.9,483.8 1302.7,466.3 1311.4,455.3 1342.1,459.7 1333.3,483.8 1320.2,505.7 1302.7,527.6 1298.3,538.6 1285.1,549.5 1267.6,571.4 1252.3,582.4 1228.2,591.2" fill="#ff00ff" stroke="#ff00ff" stroke-width="10" stroke-linejoin="round"/>
<polygon points="1212.9,584.6 1234.8,562.7 1252.3,543.0 1265.4,527.6 1276.4,512.3 1285.1,501.3 1293.9,483.8 1302.7,466.3 1311.4,455.3 1342.1,459.7 1333.3,483.8 1320.2,505.7 1302.7,527.6 1298.3,538.6 1285.1,549.5 1267.6,571.4 1252.3,582.4 1228.2,591.2" fill="#006400" />
<polygon points="1302.7,466.3 1311.4,453.1 1320.2,440.0 1331.2,429.0 1346.5,429.0 1344.3,448.8 1342.1,461.9" fill="#006400" />
<polygon points="1272.0,538.6 1289.5,505.7 1311.4,479.4 1331.2,448.8 1338.2,448.8 1320.6,483.8 1298.7,510.1 1281.2,538.6" fill="#90ee90" />
<polygon points="1309.2,487.1 1320.2,472.9 1331.2,453.1 1334.4,454.2 1323.5,475.0 1312.5,490.4" fill="#cdad00" />
<polygon points="1232.6,580.2 1252.3,558.3 1267.6,543.0 1272.0,545.1 1256.7,562.7 1237.0,582.4" fill="#90ee90" />
<polygon points="1239.1,575.8 1252.3,562.7 1254.5,564.9 1241.3,578.0" fill="#cdad00" />
<polygon points="1315.8,505.7 1333.3,483.8 1346.5,477.2 1342.1,490.4 1329.0,503.5 1320.2,512.3" fill="#ff00ff" />
<polygon points="1176.0,528.0 1192.0,530.0 1196.0,545.0 1188.0,565.0 1180.0,580.0 1172.0,578.0 1176.0,560.0 1180.0,545.0" fill="#8b008b" />
<polygon points="1180.0,539.7 1256.7,539.7 1252.3,553.9 1223.8,550.6 1201.9,553.9 1180.0,558.3" fill="#8b008b" />
<polygon points="1201.9,581.3 1223.8,571.4 1234.8,580.2 1233.7,602.1 1206.3,602.1" fill="#8b008b" />
<polygon points="1206.3,591.2 1232.6,589.0 1234.8,602.1 1208.5,603.2" fill="#ff00ff" />
<polygon points="1180.0,524.3 1208.5,523.2 1206.3,539.7 1180.0,541.2" fill="#f4a460" />
<polygon points="1140.0,600.0 1182.0,600.0 1183.0,624.0 1178.0,640.0 1164.0,638.0 1152.0,624.0 1140.0,620.0" fill="#cd6600" />
<polygon points="1190.0,612.0 1206.0,611.0 1208.0,630.0 1209.0,644.0 1198.0,643.0 1192.0,628.0" fill="#cd6600" />
<polygon points="1216.0,600.0 1244.0,600.0 1244.4,620.0 1228.0,622.0 1217.0,614.0" fill="#cd6600" />
<polygon points="1183.0,600.0 1216.0,600.0 1217.0,614.0 1208.0,612.0 1190.0,612.0 1183.0,608.0" fill="#00ffff" />
<polygon points="961.4,592.4 985.2,591.2 986.4,606.7 963.8,607.9" fill="#cd6600" />
<polygon points="987.6,604.3 1009.0,603.8 1009.5,616.7 988.8,617.4" fill="#cd6600" />
<polygon points="997.1,582.9 1025.7,582.4 1025.7,592.9 998.3,593.6" fill="#cd6600" />
<polygon points="1004.3,592.4 1023.3,592.4 1032.9,606.7 1025.7,621.0 1011.4,616.2 1009.0,604.3" fill="#00ffff" />
<polygon points="906.7,469.8 925.7,468.6 926.2,485.2 907.9,485.7" fill="#f4a460" />
<polygon points="944.8,487.6 959.5,487.6 959.5,495.2 944.8,495.2" fill="#f4a460" />
<polygon points="892.4,473.3 899.5,473.3 899.5,478.6 892.4,478.6" fill="#f4a460" />
<polygon points="735.2,358.3 769.8,358.3 772.1,383.3 766.2,419.0 735.2,419.0" fill="#90ee90" />
<polygon points="737.6,361.9 766.7,362.4 768.6,383.3 763.8,416.7 737.6,416.7" fill="#cdad00" />
<polygon points="742.4,376.2 771.0,373.8 772.1,402.4 744.8,402.4" fill="#90ee90" />
<polygon points="746.0,379.8 769.8,378.6 769.8,396.4 747.1,396.4" fill="#006400" />
<polygon points="782.9,373.8 801.9,364.3 821.0,366.7 832.9,383.3 825.7,397.6 806.7,392.9 787.6,395.2 780.5,385.7" fill="#90ee90" />
<polygon points="794.8,378.6 811.4,373.8 823.3,383.3 816.2,392.9 799.5,390.5" fill="#4fb05a" />
<polygon points="801.9,379.8 813.8,378.6 816.2,388.1 804.3,389.3" fill="#90ee90" />
<polygon points="1006.7,364.3 1013.8,363.1 1015.0,373.8 1007.9,374.3" fill="#90ee90" />
<polygon points="998.5,217.1 1029.8,204.5 1061.2,217.1 1086.3,224.9 1061.2,237.5 1042.4,251.6 1029.8,262.6 1007.9,267.3 1011.0,242.2" fill="#e6d400" />
<polygon points="1023.6,223.3 1042.4,217.1 1067.5,223.3 1061.2,234.3 1042.4,248.4 1029.8,254.7 1026.7,239.0" fill="#ffff00" />
<polygon points="1054.9,237.5 1069.1,224.0 1086.3,221.8 1097.3,224.9 1073.8,234.3 1061.2,243.7 1053.4,245.3" fill="#ffff00" stroke="#ffff00" stroke-width="5" stroke-linejoin="round"/>
<polygon points="1054.9,237.5 1069.1,224.0 1086.3,221.8 1097.3,224.9 1073.8,234.3 1061.2,243.7 1053.4,245.3" fill="#8b1a1a" />
<polygon points="1041.8,242.8 1047.1,241.5 1047.7,246.9 1042.4,247.8" fill="#ffff00" stroke="#ffff00" stroke-width="5" stroke-linejoin="round"/>
<polygon points="1041.8,242.8 1047.1,241.5 1047.7,246.9 1042.4,247.8" fill="#8b1a1a" />
<polygon points="1073.8,261.0 1098.9,252.2 1136.5,261.0 1199.3,262.6 1218.1,272.0 1226.0,283.6 1199.3,282.3 1152.2,286.7 1130.3,280.4 1102.0,278.3" fill="#e6d400" />
<polygon points="1092.6,259.4 1111.4,257.9 1136.5,264.1 1193.0,265.7 1211.8,275.1 1193.0,278.3 1152.2,279.8 1130.3,275.1 1108.3,272.0" fill="#ffff00" />
<polygon points="1124.0,260.4 1135.0,261.0 1135.0,264.8 1124.0,264.1" fill="#ffff00" stroke="#ffff00" stroke-width="5" stroke-linejoin="round"/>
<polygon points="1124.0,260.4 1135.0,261.0 1135.0,264.8 1124.0,264.1" fill="#8b1a1a" />
<polygon points="1102.0,276.7 1124.0,279.8 1127.1,295.5 1105.2,295.5" fill="#e6d400" />
<polygon points="801.9,670.0 818.6,655.7 840.0,646.2 863.8,643.8 887.6,643.8 906.7,651.0 916.2,667.6 911.4,686.7 906.7,701.0 897.1,717.6 882.9,727.1 863.8,729.5 847.1,720.0 830.5,712.9 816.2,698.6 804.3,684.3" fill="url(#pt)" />
<polygon points="821.0,674.8 832.9,667.6 847.1,671.2 854.3,681.9 847.1,693.8 832.9,696.2 823.3,689.0" fill="#adff2f" />
<polygon points="859.0,698.6 873.3,693.8 887.6,698.6 892.4,710.5 882.9,720.0 868.6,722.4 859.0,712.9" fill="#adff2f" />
<polygon points="878.1,670.0 894.8,671.2 904.3,681.9 897.1,691.4 882.9,687.9" fill="#adff2f" />
<polygon points="873.3,655.7 885.2,653.3 897.1,655.7 906.7,665.2 894.8,671.2 882.9,665.2 874.5,664.0" fill="#008b8b" />
<polygon points="851.9,660.5 861.4,659.3 862.6,666.4 853.1,667.6" fill="#008b8b" />
<polygon points="942.4,634.3 968.6,634.3 982.9,648.6 968.6,660.5 949.5,655.7" fill="#adff2f" />
<polygon points="1500.3,302.9 1515.3,293.2 1526.1,276.0 1532.6,258.8 1551.9,238.3 1571.3,240.5 1583.2,246.9 1584.2,280.3 1573.5,288.9 1556.3,297.5 1541.2,312.6 1526.1,323.3 1511.0,327.6 1502.4,316.9" fill="#e6d400" />
<polygon points="1502.4,301.8 1515.3,293.2 1526.1,276.0 1532.6,258.8 1551.9,239.4 1571.3,241.5 1582.1,248.0 1583.2,269.5 1569.2,278.1 1551.9,286.7 1536.9,301.8 1521.8,312.6 1511.0,316.9 1504.6,310.4" fill="#ffff00" />
<polygon points="1534.7,250.1 1551.9,241.5 1556.3,252.3 1551.9,263.1 1539.0,267.4 1532.6,260.9" fill="#8b1a1a" stroke="none"/>
<polygon points="1541.2,284.6 1549.8,282.4 1550.9,291.0 1543.3,293.2" fill="#8b1a1a" stroke="none"/>
<polygon points="1553.0,277.1 1558.4,276.4 1558.8,282.4 1553.5,282.9" fill="#8b1a1a" stroke="none"/>
<polygon points="1500.3,304.0 1511.0,299.7 1524.0,306.1 1515.3,314.7 1504.6,316.9" fill="#8b1a1a" stroke="none"/>
<polygon points="1493.8,327.6 1504.6,323.3 1506.7,331.9 1496.0,336.3" fill="#8b1a1a" stroke="none"/>
<polygon points="1567.0,327.6 1573.5,326.6 1571.3,331.9 1565.9,333.0" fill="#8b1a1a" stroke="none"/>
<polygon points="1536.9,269.5 1543.3,268.4 1543.8,273.8 1537.3,274.3" fill="#8b1a1a" stroke="none"/>
<polygon points="1177.0,499.0 1184.0,496.0 1190.0,500.0 1189.0,510.0 1183.0,514.0 1178.0,509.0" fill="#f4a460" />
<polygon points="1314.7,387.5 1311.4,355.7 1399.1,311.9 1453.8,303.1 1499.8,303.1 1504.2,224.3 1607.2,224.3 1607.2,314.1 1587.4,322.9 1563.4,333.8 1539.3,344.8 1521.7,351.3 1515.2,353.5 1508.6,360.1 1495.4,357.9 1486.7,364.5 1477.9,371.1 1473.5,377.6 1472.4,386.4 1460.4,388.6 1457.1,373.2 1453.8,362.3 1450.5,353.5 1445.1,362.3 1438.5,375.4 1434.1,386.4 1427.5,393.0 1418.8,397.3 1410.0,401.7 1399.1,409.4 1388.1,399.5 1377.2,399.5 1366.2,402.8 1355.2,405.0 1346.5,403.9 1333.3,409.4 1322.4,401.7 1313.6,395.1" fill="#90ee90" stroke="#90ee90" stroke-width="9" stroke-linejoin="round"/>
<polygon points="1314.7,387.5 1311.4,355.7 1399.1,311.9 1453.8,303.1 1499.8,303.1 1504.2,224.3 1607.2,224.3 1607.2,314.1 1587.4,322.9 1563.4,333.8 1539.3,344.8 1521.7,351.3 1515.2,353.5 1508.6,360.1 1495.4,357.9 1486.7,364.5 1477.9,371.1 1473.5,377.6 1472.4,386.4 1460.4,388.6 1457.1,373.2 1453.8,362.3 1450.5,353.5 1445.1,362.3 1438.5,375.4 1434.1,386.4 1427.5,393.0 1418.8,397.3 1410.0,401.7 1399.1,409.4 1388.1,399.5 1377.2,399.5 1366.2,402.8 1355.2,405.0 1346.5,403.9 1333.3,409.4 1322.4,401.7 1313.6,395.1" fill="#cdad00" />
<polygon points="1299.4,393.0 1313.6,393.0 1322.4,401.7 1333.3,409.4 1346.5,403.9 1355.2,405.0 1366.2,402.8 1377.2,399.5 1388.1,399.5 1399.1,409.4 1410.0,401.7 1418.8,397.3 1421.0,408.3 1412.2,417.1 1399.1,421.4 1388.1,425.8 1377.2,430.2 1366.2,430.2 1355.2,434.6 1346.5,443.3 1337.7,452.1 1320.2,453.2 1324.6,441.2 1333.3,430.2 1333.3,421.4 1322.4,414.9 1311.4,408.3 1302.7,403.9" fill="#90ee90" />
<polygon points="1355.2,421.4 1368.4,414.9 1385.9,412.7 1399.1,412.7 1407.8,408.3 1407.8,414.9 1390.3,421.4 1372.8,423.6 1359.6,430.2 1350.9,439.0 1346.5,434.6" fill="#006400" />
<polygon points="1302.7,408.3 1315.8,412.7 1329.0,425.8 1324.6,439.0 1315.8,452.1 1299.4,452.1 1299.4,412.7" fill="#006400" />
<polygon points="1309.2,399.5 1320.2,406.1 1324.6,414.9 1315.8,412.7 1307.1,406.1" fill="#4fb05a" />
<polygon points="1333.3,443.3 1346.5,425.8 1351.3,421.4 1353.5,424.1 1348.7,430.6 1338.2,446.0" fill="#cdad00" />
<polygon points="1331.2,353.5 1346.5,352.4 1361.8,355.7 1390.3,353.5 1401.2,360.1 1399.1,371.1 1385.9,373.2 1377.2,377.6 1364.0,373.2 1350.9,371.1 1337.7,366.7 1331.2,362.3" fill="#90ee90" />
<polygon points="1366.2,359.0 1377.2,357.9 1383.7,364.5 1381.5,377.6 1376.1,375.4 1372.8,364.5" fill="#006400" />
<polygon points="1390.3,357.9 1399.1,360.1 1396.9,365.6 1389.2,363.4" fill="#006400" />
<polygon points="1355.2,366.7 1361.8,366.7 1362.9,374.3 1356.3,373.2" fill="#006400" />
<polygon points="1440.7,421.4 1446.2,399.5 1450.5,377.6 1452.7,353.5 1456.5,352.4 1456.5,377.6 1453.8,399.5 1451.6,419.2" fill="#90ee90" stroke="#90ee90" stroke-width="7"/>
<polygon points="1440.7,421.4 1446.2,399.5 1450.5,377.6 1452.7,353.5 1456.5,352.4 1456.5,377.6 1453.8,399.5 1451.6,419.2" fill="#006400" />
<polygon points="1415.5,337.1 1425.3,331.6 1438.5,333.8 1446.2,344.8 1442.9,355.7 1431.9,360.1 1421.0,353.5" fill="#ffff00" />
<polygon points="1421.0,347.4 1427.5,343.0 1437.4,341.5 1438.9,347.0 1431.9,354.0 1425.3,352.7" fill="#ffff00" stroke="#ffff00" stroke-width="5" stroke-linejoin="round"/>
<polygon points="1421.0,347.4 1427.5,343.0 1437.4,341.5 1438.9,347.0 1431.9,354.0 1425.3,352.7" fill="#8b1a1a" />
<polygon points="1438.5,330.5 1448.3,329.4 1449.0,335.1 1439.6,335.6" fill="#ffff00" stroke="#ffff00" stroke-width="5" stroke-linejoin="round"/>
<polygon points="1438.5,330.5 1448.3,329.4 1449.0,335.1 1439.6,335.6" fill="#8b1a1a" />
<polygon points="1401.2,342.6 1412.2,342.1 1412.6,350.5 1401.7,350.9" fill="#ffff00" />
<polygon points="1405.2,345.2 1409.1,345.2 1409.1,347.8 1405.2,347.8" fill="#ffff00" stroke="#ffff00" stroke-width="5" stroke-linejoin="round"/>
<polygon points="1405.2,345.2 1409.1,345.2 1409.1,347.8 1405.2,347.8" fill="#8b1a1a" />
<polygon points="1429.7,386.4 1440.7,386.4 1440.7,395.1 1429.7,395.1" fill="#ffff00" />
<polygon points="1462.6,311.9 1471.3,310.8 1473.5,333.8 1467.0,362.3 1462.6,362.3 1464.8,333.8" fill="#ffff00" />
<polygon points="1480.1,311.9 1491.1,310.8 1486.7,333.8 1482.3,336.0" fill="#ffff00" />
<polygon points="1469.2,316.3 1472.4,316.3 1471.3,333.8 1468.7,333.8" fill="#ffff00" stroke="#ffff00" stroke-width="5" stroke-linejoin="round"/>
<polygon points="1469.2,316.3 1472.4,316.3 1471.3,333.8 1468.7,333.8" fill="#8b1a1a" />
<polygon points="1463.7,355.7 1467.0,355.7 1466.5,366.7 1463.7,366.7" fill="#ffff00" stroke="#ffff00" stroke-width="5" stroke-linejoin="round"/>
<polygon points="1463.7,355.7 1467.0,355.7 1466.5,366.7 1463.7,366.7" fill="#8b1a1a" />
<polygon points="1458.6,310.8 1463.0,310.8 1462.6,340.4 1459.3,340.4" fill="#90ee90" />
<polygon points="1493.3,296.6 1513.0,294.4 1508.6,318.5 1495.4,338.2 1486.7,337.1 1495.4,316.3" fill="#ffff00" />
<polygon points="1500.9,298.8 1508.6,296.6 1507.5,314.1 1499.8,325.0 1493.3,333.8 1491.1,329.4 1497.6,316.3" fill="#ffff00" stroke="#ffff00" stroke-width="5" stroke-linejoin="round"/>
<polygon points="1500.9,298.8 1508.6,296.6 1507.5,314.1 1499.8,325.0 1493.3,333.8 1491.1,329.4 1497.6,316.3" fill="#8b1a1a" />
<polygon points="1484.5,377.6 1495.4,364.5 1506.4,363.4 1513.0,368.9 1508.6,377.6 1495.4,382.0 1486.7,386.4" fill="#006400" />
<polygon points="1457.1,393.0 1471.3,390.8 1486.7,393.0 1491.1,399.5 1482.3,403.9 1464.8,403.9 1456.5,408.3" fill="#90ee90" />
<polygon points="1467.0,395.1 1473.5,393.0 1475.7,401.7 1469.2,402.8" fill="#006400" />
<polygon points="1212.9,584.6 1234.8,562.7 1252.3,543.0 1265.4,527.6 1276.4,512.3 1285.1,501.3 1293.9,483.8 1302.7,466.3 1311.4,455.3 1342.1,459.7 1333.3,483.8 1320.2,505.7 1302.7,527.6 1298.3,538.6 1285.1,549.5 1267.6,571.4 1252.3,582.4 1228.2,591.2" fill="#ff00ff" stroke="#ff00ff" stroke-width="10" stroke-linejoin="round"/>
<polygon points="1212.9,584.6 1234.8,562.7 1252.3,543.0 1265.4,527.6 1276.4,512.3 1285.1,501.3 1293.9,483.8 1302.7,466.3 1311.4,455.3 1342.1,459.7 1333.3,483.8 1320.2,505.7 1302.7,527.6 1298.3,538.6 1285.1,549.5 1267.6,571.4 1252.3,582.4 1228.2,591.2" fill="#006400" />
<polygon points="1302.7,466.3 1311.4,453.1 1320.2,440.0 1331.2,429.0 1346.5,429.0 1344.3,448.8 1342.1,461.9" fill="#006400" />
<polygon points="1272.0,538.6 1289.5,505.7 1311.4,479.4 1331.2,448.8 1338.2,448.8 1320.6,483.8 1298.7,510.1 1281.2,538.6" fill="#90ee90" />
<polygon points="1309.2,487.1 1320.2,472.9 1331.2,453.1 1334.4,454.2 1323.5,475.0 1312.5,490.4" fill="#cdad00" />
<polygon points="1232.6,580.2 1252.3,558.3 1267.6,543.0 1272.0,545.1 1256.7,562.7 1237.0,582.4" fill="#90ee90" />
<polygon points="1239.1,575.8 1252.3,562.7 1254.5,564.9 1241.3,578.0" fill="#cdad00" />
<polygon points="1315.8,505.7 1333.3,483.8 1346.5,477.2 1342.1,490.4 1329.0,503.5 1320.2,512.3" fill="#ff00ff" />
<polygon points="1176.0,528.0 1192.0,530.0 1196.0,545.0 1188.0,565.0 1180.0,580.0 1172.0,578.0 1176.0,560.0 1180.0,545.0" fill="#8b008b" />
<polygon points="1180.0,539.7 1256.7,539.7 1252.3,553.9 1223.8,550.6 1201.9,553.9 1180.0,558.3" fill="#8b008b" />
<polygon points="1201.9,581.3 1223.8,571.4 1234.8,580.2 1233.7,602.1 1206.3,602.1" fill="#8b008b" />
<polygon points="1206.3,591.2 1232.6,589.0 1234.8,602.1 1208.5,603.2" fill="#ff00ff" />
<polygon points="1180.0,524.3 1208.5,523.2 1206.3,539.7 1180.0,541.2" fill="#f4a460" />
<polygon points="1140.0,600.0 1182.0,600.0 1183.0,624.0 1178.0,640.0 1164.0,638.0 1152.0,624.0 1140.0,620.0" fill="#cd6600" />
<polygon points="1190.0,612.0 1206.0,611.0 1208.0,630.0 1209.0,644.0 1198.0,643.0 1192.0,628.0" fill="#cd6600" />
<polygon points="1216.0,600.0 1244.0,600.0 1244.4,620.0 1228.0,622.0 1217.0,614.0" fill="#cd6600" />
<polygon points="1183.0,600.0 1216.0,600.0 1217.0,614.0 1208.0,612.0 1190.0,612.0 1183.0,608.0" fill="#00ffff" />
<polygon points="961.4,592.4 985.2,591.2 986.4,606.7 963.8,607.9" fill="#cd6600" />
<polygon points="987.6,604.3 1009.0,603.8 1009.5,616.7 988.8,617.4" fill="#cd6600" />
<polygon points="997.1,582.9 1025.7,582.4 1025.7,592.9 998.3,593.6" fill="#cd6600" />
<polygon points="1004.3,592.4 1023.3,592.4 1032.9,606.7 1025.7,621.0 1011.4,616.2 1009.0,604.3" fill="#00ffff" />
<polygon points="906.7,469.8 925.7,468.6 926.2,485.2 907.9,485.7" fill="#f4a460" />
<polygon points="944.8,487.6 959.5,487.6 959.5,495.2 944.8,495.2" fill="#f4a460" />
<polygon points="892.4,473.3 899.5,473.3 899.5,478.6 892.4,478.6" fill="#f4a460" />
<polygon points="735.2,358.3 769.8,358.3 772.1,383.3 766.2,419.0 735.2,419.0" fill="#90ee90" />
<polygon points="737.6,361.9 766.7,362.4 768.6,383.3 763.8,416.7 737.6,416.7" fill="#cdad00" />
<polygon points="742.4,376.2 771.0,373.8 772.1,402.4 744.8,402.4" fill="#90ee90" />
<polygon points="746.0,379.8 769.8,378.6 769.8,396.4 747.1,396.4" fill="#006400" />
<polygon points="782.9,373.8 801.9,364.3 821.0,366.7 832.9,383.3 825.7,397.6 806.7,392.9 787.6,395.2 780.5,385.7" fill="#90ee90" />
<polygon points="794.8,378.6 811.4,373.8 823.3,383.3 816.2,392.9 799.5,390.5" fill="#4fb05a" />
<polygon points="801.9,379.8 813.8,378.6 816.2,388.1 804.3,389.3" fill="#90ee90" />
<polygon points="1006.7,364.3 1013.8,363.1 1015.0,373.8 1007.9,374.3" fill="#90ee90" />
<polygon points="998.5,217.1 1029.8,204.5 1061.2,217.1 1086.3,224.9 1061.2,237.5 1042.4,251.6 1029.8,262.6 1007.9,267.3 1011.0,242.2" fill="#e6d400" />
<polygon points="1023.6,223.3 1042.4,217.1 1067.5,223.3 1061.2,234.3 1042.4,248.4 1029.8,254.7 1026.7,239.0" fill="#ffff00" />
<polygon points="1054.9,237.5 1069.1,224.0 1086.3,221.8 1097.3,224.9 1073.8,234.3 1061.2,243.7 1053.4,245.3" fill="#ffff00" stroke="#ffff00" stroke-width="5" stroke-linejoin="round"/>
<polygon points="1054.9,237.5 1069.1,224.0 1086.3,221.8 1097.3,224.9 1073.8,234.3 1061.2,243.7 1053.4,245.3" fill="#8b1a1a" />
<polygon points="1041.8,242.8 1047.1,241.5 1047.7,246.9 1042.4,247.8" fill="#ffff00" stroke="#ffff00" stroke-width="5" stroke-linejoin="round"/>
<polygon points="1041.8,242.8 1047.1,241.5 1047.7,246.9 1042.4,247.8" fill="#8b1a1a" />
<polygon points="1073.8,261.0 1098.9,252.2 1136.5,261.0 1199.3,262.6 1218.1,272.0 1226.0,283.6 1199.3,282.3 1152.2,286.7 1130.3,280.4 1102.0,278.3" fill="#e6d400" />
<polygon points="1092.6,259.4 1111.4,257.9 1136.5,264.1 1193.0,265.7 1211.8,275.1 1193.0,278.3 1152.2,279.8 1130.3,275.1 1108.3,272.0" fill="#ffff00" />
<polygon points="1124.0,260.4 1135.0,261.0 1135.0,264.8 1124.0,264.1" fill="#ffff00" stroke="#ffff00" stroke-width="5" stroke-linejoin="round"/>
<polygon points="1124.0,260.4 1135.0,261.0 1135.0,264.8 1124.0,264.1" fill="#8b1a1a" />
<polygon points="1102.0,276.7 1124.0,279.8 1127.1,295.5 1105.2,295.5" fill="#e6d400" />
<polygon points="801.9,670.0 818.6,655.7 840.0,646.2 863.8,643.8 887.6,643.8 906.7,651.0 916.2,667.6 911.4,686.7 906.7,701.0 897.1,717.6 882.9,727.1 863.8,729.5 847.1,720.0 830.5,712.9 816.2,698.6 804.3,684.3" fill="url(#pt)" />
<polygon points="821.0,674.8 832.9,667.6 847.1,671.2 854.3,681.9 847.1,693.8 832.9,696.2 823.3,689.0" fill="#adff2f" />
<polygon points="859.0,698.6 873.3,693.8 887.6,698.6 892.4,710.5 882.9,720.0 868.6,722.4 859.0,712.9" fill="#adff2f" />
<polygon points="878.1,670.0 894.8,671.2 904.3,681.9 897.1,691.4 882.9,687.9" fill="#adff2f" />
<polygon points="873.3,655.7 885.2,653.3 897.1,655.7 906.7,665.2 894.8,671.2 882.9,665.2 874.5,664.0" fill="#008b8b" />
<polygon points="851.9,660.5 861.4,659.3 862.6,666.4 853.1,667.6" fill="#008b8b" />
<polygon points="942.4,634.3 968.6,634.3 982.9,648.6 968.6,660.5 949.5,655.7" fill="#adff2f" />
<polygon points="1500.3,302.9 1515.3,293.2 1526.1,276.0 1532.6,258.8 1551.9,238.3 1571.3,240.5 1583.2,246.9 1584.2,280.3 1573.5,288.9 1556.3,297.5 1541.2,312.6 1526.1,323.3 1511.0,327.6 1502.4,316.9" fill="#e6d400" />
<polygon points="1502.4,301.8 1515.3,293.2 1526.1,276.0 1532.6,258.8 1551.9,239.4 1571.3,241.5 1582.1,248.0 1583.2,269.5 1569.2,278.1 1551.9,286.7 1536.9,301.8 1521.8,312.6 1511.0,316.9 1504.6,310.4" fill="#ffff00" />
<polygon points="1534.7,250.1 1551.9,241.5 1556.3,252.3 1551.9,263.1 1539.0,267.4 1532.6,260.9" fill="#8b1a1a" stroke="none"/>
<polygon points="1541.2,284.6 1549.8,282.4 1550.9,291.0 1543.3,293.2" fill="#8b1a1a" stroke="none"/>
<polygon points="1553.0,277.1 1558.4,276.4 1558.8,282.4 1553.5,282.9" fill="#8b1a1a" stroke="none"/>
<polygon points="1500.3,304.0 1511.0,299.7 1524.0,306.1 1515.3,314.7 1504.6,316.9" fill="#8b1a1a" stroke="none"/>
<polygon points="1493.8,327.6 1504.6,323.3 1506.7,331.9 1496.0,336.3" fill="#8b1a1a" stroke="none"/>
<polygon points="1567.0,327.6 1573.5,326.6 1571.3,331.9 1565.9,333.0" fill="#8b1a1a" stroke="none"/>
<polygon points="1536.9,269.5 1543.3,268.4 1543.8,273.8 1537.3,274.3" fill="#8b1a1a" stroke="none"/>
<polygon points="1177.0,499.0 1184.0,496.0 1190.0,500.0 1189.0,510.0 1183.0,514.0 1178.0,509.0" fill="#f4a460" />
</g></g>
<g fill="none" stroke="#000" stroke-width="3.2" stroke-linejoin="round" stroke-linecap="round">
<polyline points="480.7,278.8 439.1,279.9 421.5,283.2 404.1,287.4 387.0,289.1 369.4,291.1 358.9,291.1 352.0,287.4 348.5,278.8 343.3,271.8 334.7,270.9 325.5,271.5"/>
<polyline points="480.0,196.0 480.0,268.1 480.2,278.7"/>
<polyline points="480.7,278.8 485.9,282.7 491.2,287.4 492.8,296.1 487.6,306.5 480.7,317.1 475.6,324.1 477.4,332.7 480.3,340.3 480.7,391.8"/>
<polyline points="502.3,196.0 502.3,223.4 508.6,235.4 519.0,244.1 531.3,256.1 541.5,259.7 540.0,275.4 534.6,287.4 543.3,292.7 548.4,287.4 555.6,296.1 560.7,310.1 567.6,317.1 574.5,324.1 585.0,322.1 602.3,317.1 609.2,313.4 613.9,318.5"/>
<polyline points="319.6,391.7 614.0,391.7"/>
<polyline points="413.8,391.7 413.8,475.5 533.9,587.3 534.6,591.5 541.3,602.7 544.6,608.3 536.8,618.0 532.3,632.0 536.8,643.2 531.9,651.0"/>
<polyline points="546.9,531.4 546.9,555.2 531.2,559.4 533.9,587.3"/>
<polyline points="547.1,391.7 546.9,531.4"/>
<polyline points="614.0,307.8 770.6,307.8 770.6,419.6 614.0,419.6 614.0,307.8"/>
<polyline points="770.6,196.0 770.6,307.8"/>
<polyline points="770.6,281.5 938.2,281.5"/>
<polyline points="770.6,363.7 894.8,363.7 908.2,367.9 923.9,370.7 940.7,377.7"/>
<polyline points="770.6,419.6 815.4,419.6 815.4,447.5 966.4,447.5"/>
<polyline points="658.8,419.6 815.4,419.6 815.4,531.4 658.8,531.4 658.8,419.6"/>
<polyline points="546.9,531.4 981.6,531.4"/>
<polyline points="658.8,531.4 658.8,689.9"/>
<polyline points="715.1,677.3 713.1,671.1 792.8,671.1 794.1,545.4 794.1,531.4"/>
<polyline points="794.1,545.4 861.2,545.4 861.2,599.6 868.0,604.1 879.2,609.7 892.6,611.1 903.8,612.5 912.7,618.0 923.9,616.6 930.6,623.1 937.3,619.4 946.3,622.2 959.7,618.0 968.7,618.9 984.8,625.3 994.6,627.8 994.6,642.6 994.6,671.1 1000.0,682.3 1004.5,693.5 1002.2,710.3 1002.2,724.3 998.9,735.4"/>
<polyline points="984.8,625.3 985.9,576.1 981.6,545.4"/>
<polyline points="994.6,642.6 1058.8,642.6"/>
<polyline points="981.6,545.4 1081.6,545.4 1076.7,559.4 1091.7,559.4"/>
<polyline points="981.6,545.4 982.1,472.7 974.2,464.3 975.4,454.5 966.4,447.5 956.3,431.3 953.7,419.6 950.8,405.6 946.3,391.7 940.7,377.7 940.7,360.9 937.3,349.7 940.7,349.7 940.7,299.4 931.7,291.0 938.2,281.5 937.3,271.5 933.3,254.7 931.7,237.9 927.3,224.0 925.0,210.0 923.2,196.0"/>
<polyline points="940.7,349.7 1057.7,349.7"/>
<polyline points="955.9,431.3 1046.3,430.8 1053.2,436.9"/>
<polyline points="1038.0,260.3 1033.8,277.6 1027.9,281.2 1020.6,291.0 1024.6,299.4 1022.3,314.8 1033.5,320.4 1042.5,327.4 1053.7,335.8 1057.7,349.7 1059.3,363.7 1061.5,370.7 1070.7,377.7 1081.6,388.9 1081.0,397.2 1073.8,407.0 1061.5,408.4 1063.7,419.6 1053.7,430.8 1053.2,436.9 1053.0,450.3 1061.5,464.3 1069.3,475.5 1080.5,479.7 1080.5,486.7 1077.2,497.9 1087.2,506.2 1096.2,511.8 1096.2,523.0 1104.5,531.4 1100.7,542.6 1096.2,545.4 1091.7,559.4 1087.2,570.5 1082.8,583.1 1078.3,587.3 1072.7,601.3 1064.9,615.2 1058.1,629.2 1058.8,642.6 1062.6,657.2 1064.9,662.8 1058.1,673.9 1051.4,685.1 1049.2,699.1 1091.0,699.1 1089.5,708.9 1095.1,721.5"/>
<polyline points="1070.7,377.7 1134.2,378.0"/>
<polyline points="1140.3,400.0 1140.3,465.7 1140.9,478.3 1137.6,489.5 1130.9,497.9 1129.1,509.0"/>
<polyline points="1104.5,531.4 1118.6,525.8 1127.5,517.4 1129.1,509.0 1138.7,506.2 1149.9,509.0 1161.1,504.8 1167.8,497.9 1174.5,503.5 1180.1,495.9 1187.9,483.9 1200.2,481.1 1201.4,472.7 1208.1,472.7 1214.8,481.1 1226.0,485.3 1237.1,486.7 1243.9,482.5 1250.6,491.7 1259.5,486.7 1261.8,478.3 1269.6,475.5 1276.3,464.3 1286.4,458.7 1290.2,455.4 1293.1,444.8 1297.1,429.7"/>
<polyline points="1200.9,400.0 1200.9,472.7"/>
<polyline points="1156.2,398.4 1200.9,398.4 1200.9,400.0 1231.6,399.2"/>
<polyline points="1297.1,392.2 1297.1,455.4 1402.9,455.4"/>
<polyline points="1314.1,384.1 1314.1,391.7 1412.8,391.7 1418.4,395.8 1419.5,402.8 1427.3,409.5 1417.7,419.6 1416.1,428.0 1419.5,436.4 1426.2,442.0 1417.7,448.9 1411.7,453.1 1408.3,458.7"/>
<polyline points="1427.3,409.5 1445.2,419.6 1442.3,428.0 1437.4,433.6"/>
<polyline points="1410.6,452.3 1402.9,455.4 1405.0,490.6 1419.5,490.6"/>
<polyline points="1320.4,455.4 1320.4,469.9 1330.0,462.9 1335.6,461.5 1343.4,458.7 1349.0,455.9 1353.5,458.7 1359.5,466.6 1370.3,475.5 1375.0,478.3 1372.5,485.3 1370.3,493.7 1375.9,495.1 1382.6,497.9 1391.5,503.5"/>
<polyline points="1359.5,466.6 1357.3,471.9 1345.7,462.6 1334.5,481.1 1328.9,479.7 1325.5,490.9 1316.6,486.7 1311.0,497.9 1304.3,506.2 1302.0,516.0 1290.9,520.2 1280.8,523.0 1271.8,525.8 1264.7,516.3 1255.0,507.6 1250.1,498.7 1250.6,491.7"/>
<polyline points="1264.7,516.3 1250.6,525.8 1239.4,534.2 1226.4,542.6"/>
<polyline points="1271.2,542.6 1128.6,542.6 1128.6,545.4 1096.2,545.4"/>
<polyline points="1271.2,542.6 1401.2,544.0"/>
<polyline points="1271.2,542.6 1270.3,549.6 1261.8,556.6 1250.6,559.4 1243.9,560.7 1237.1,566.3 1230.4,571.6 1219.2,574.7 1212.5,580.3 1212.1,587.3"/>
<polyline points="1239.4,587.3 1078.3,587.3"/>
<polyline points="1239.4,587.3 1257.3,581.7 1285.3,581.7 1285.7,584.5 1290.9,592.3 1315.9,592.9 1341.2,619.4"/>
<polyline points="1239.4,587.3 1233.8,595.7 1243.9,601.8 1251.7,615.2 1265.1,629.2 1275.2,643.2 1281.9,657.2 1289.7,670.3"/>
<polyline points="1183.5,587.3 1187.5,615.2 1192.8,646.8 1197.3,660.0 1194.6,673.9 1194.6,693.5 1196.9,699.1 1200.0,707.5 1259.5,711.1 1262.9,717.0 1263.6,711.7 1265.1,704.7 1279.0,706.1"/>
<polyline points="1196.9,699.1 1138.7,699.1 1140.9,719.2"/>
<polyline points="1125.3,587.3 1119.2,671.1 1120.8,721.5"/>
<polyline points="1457.5,307.8 1456.4,335.8 1456.0,346.9 1459.8,348.3 1459.3,370.7 1454.2,390.3 1453.1,411.2 1449.0,416.8 1450.8,419.6"/>
<polyline points="1498.9,307.5 1496.0,314.8 1492.2,326.0 1485.5,335.8 1480.4,346.9 1477.7,358.1 1477.5,371.2"/>
<polyline points="1459.3,370.7 1503.4,372.1 1510.1,367.3 1514.2,367.3"/>
<polyline points="1454.2,390.3 1492.2,390.8 1501.6,391.1 1501.6,394.4 1505.6,399.2 1507.4,405.6"/>
<polyline points="1492.2,391.1 1490.9,410.7"/>
<polyline points="1509.0,301.7 1510.8,346.9 1516.8,359.8"/>
<polyline points="1075.6,263.9 1105.1,275.7 1114.1,280.4 1127.5,285.4 1133.1,286.8 1133.1,296.6 1138.7,305.0"/>
<polygon points="351.1,196.0 969.8,196.0 969.8,185.4 976.5,185.4 977.6,187.6 979.8,198.8 982.1,203.8 991.0,204.4 1000.0,206.6 1008.9,207.2 1017.9,209.4 1026.8,208.6 1033.5,214.2 1040.2,217.8 1047.0,221.2 1054.8,217.8 1062.6,221.7 1068.2,221.2 1085.0,221.2 1095.1,224.0 1078.3,230.9 1057.0,243.5 1048.1,251.9 1038.0,258.9 1042.5,260.3 1051.4,259.7 1060.4,255.3 1067.1,253.3 1068.2,258.9 1076.0,263.1 1091.7,257.5 1102.9,253.3 1116.3,244.9 1125.3,240.2 1134.2,238.8 1130.9,243.5 1120.8,249.1 1119.7,254.7 1120.8,258.0 1129.8,254.7 1136.5,254.7 1143.2,264.5 1158.8,267.3 1174.5,260.8 1185.7,261.1 1198.0,258.3 1199.1,265.9 1210.3,266.4 1215.9,271.5 1220.4,277.1 1230.4,281.2 1219.2,281.8 1210.3,279.8 1202.5,283.5 1196.9,277.9 1183.5,280.7 1172.3,282.6 1160.0,290.5 1153.2,286.8 1151.0,286.0 1146.5,295.2 1138.7,305.0 1133.1,312.0 1129.8,320.4 1138.7,313.4 1152.6,300.0 1145.4,312.0 1140.5,327.4 1136.0,341.3 1132.7,352.5 1132.4,363.7 1134.2,378.0 1134.2,386.1 1138.7,395.8 1142.1,401.4 1147.6,402.3 1156.2,398.4 1161.5,391.7 1168.2,380.5 1169.6,363.7 1162.6,346.9 1163.3,335.8 1168.9,323.2 1173.4,310.6 1183.0,303.6 1183.5,313.4 1186.8,307.8 1190.2,299.4 1195.8,291.0 1202.9,286.0 1212.5,289.6 1223.7,296.6 1232.7,305.8 1234.9,310.6 1233.8,327.4 1227.1,335.8 1221.5,346.4 1231.6,342.7 1241.6,334.4 1250.6,346.9 1254.6,363.7 1251.7,374.9 1239.4,383.3 1238.3,390.3 1231.6,399.2 1243.9,404.2 1252.8,408.4 1270.7,405.6 1279.7,398.6 1297.1,392.2 1306.5,387.5 1314.1,384.1 1322.2,377.7 1333.4,366.5 1330.0,356.2 1342.3,353.4 1364.7,356.2 1378.1,355.3 1393.8,348.3 1393.8,337.1 1390.4,333.0 1407.2,319.0 1426.7,307.8 1498.9,307.5 1501.2,299.4 1500.3,301.7 1506.7,299.7 1515.2,293.3 1526.1,276.0 1532.6,258.9 1551.9,239.3 1560.6,243.8 1571.3,241.6 1582.0,248.0 1584.2,286.6 1590.7,291.1 1594.9,303.9 1600.5,309.2 1590.7,316.8 1577.8,321.3 1560.6,323.2 1551.9,331.9 1536.8,338.3 1526.1,344.8 1513.2,359.9 1514.2,367.3 1519.1,373.5 1515.7,376.3 1510.1,381.9 1512.4,383.3 1518.0,391.7 1520.9,397.8 1520.2,402.3 1516.8,404.2 1507.4,405.6 1502.3,400.0 1501.2,405.6 1498.9,409.3 1490.9,410.7 1476.6,412.1 1463.1,415.4 1450.8,419.6 1447.5,425.2 1449.7,422.4 1463.1,421.0 1474.3,421.0 1481.0,415.4 1490.9,417.6 1469.9,426.6 1452.0,431.3 1442.3,430.8 1443.0,434.4 1443.0,442.0 1440.8,454.5 1432.9,465.7 1421.7,477.5 1417.3,469.9 1409.4,462.9 1408.3,458.7 1410.6,467.1 1418.4,481.1 1419.5,490.9 1415.0,502.6 1411.7,506.2 1399.4,528.6 1398.7,517.4 1405.0,504.8 1400.5,497.9 1393.8,486.7 1393.8,475.5 1397.1,464.3 1387.1,468.5 1387.1,478.3 1388.2,492.3 1390.9,502.1 1392.7,506.2 1391.5,516.0 1389.3,524.4 1391.5,532.8 1398.2,533.4 1401.2,544.0 1408.8,564.9 1408.8,581.2 1393.8,588.7 1385.9,598.5 1383.7,595.7 1371.4,598.5 1358.0,609.7 1353.5,618.0 1341.2,619.4 1332.2,626.4 1327.1,637.6 1322.2,641.8 1311.0,650.2 1300.9,657.2 1294.2,664.2 1289.7,670.3 1281.9,683.7 1277.4,696.3 1275.8,706.4 1281.1,728.0 1289.8,758.2 1298.5,783.9 1307.0,807.7 1308.7,820.5 1308.1,839.8 1305.0,854.9 1296.3,860.5 1285.6,862.5 1281.1,857.2 1276.9,846.3 1268.2,839.8 1265.1,827.0 1257.5,814.1 1252.2,801.2 1247.7,788.4 1248.8,773.3 1246.6,760.4 1238.1,749.5 1231.7,736.6 1223.0,725.7 1212.3,725.7 1203.6,732.4 1188.5,734.4 1184.3,723.8 1172.3,718.7 1163.3,715.9 1149.9,717.3 1140.9,719.2 1135.3,720.1 1130.9,710.3 1127.5,720.1 1120.8,717.3 1107.4,716.7 1098.4,720.1 1094.0,722.9 1100.7,729.8 1096.2,741.0 1107.4,750.8 1098.4,755.0 1089.5,746.6 1080.5,752.2 1069.3,752.2 1060.4,748.0 1051.4,741.0 1043.6,734.0 1035.8,739.6 1026.8,738.2 1011.2,733.5 998.9,735.4 986.5,739.6 977.6,746.6 966.4,756.4 950.8,766.2 937.3,774.6 927.3,787.1 923.5,794.1 919.9,810.9 921.7,822.1 925.0,840.0 919.4,843.0 901.5,837.5 892.6,831.9 881.4,827.7 879.2,816.5 872.4,796.9 856.8,777.4 850.1,763.4 837.8,742.4 827.7,732.6 809.8,733.2 804.2,734.0 796.4,750.8 790.8,755.6 771.8,746.6 762.8,739.6 756.1,727.0 749.4,710.3 740.4,701.9 727.0,687.9 715.1,677.3 677.6,677.3 677.6,689.9 613.6,689.9 529.9,657.5 531.9,651.0 478.2,656.3 475.3,651.6 474.2,643.2 465.2,630.6 456.3,623.6 449.5,622.2 447.3,615.2 440.6,615.2 431.7,611.1 420.5,604.1 403.2,602.7 399.2,598.5 397.0,583.1 385.8,569.1 371.2,551.0 371.2,542.6 373.5,537.0 367.9,532.8 362.3,528.6 357.8,517.4 357.8,509.0 346.6,503.5 345.5,495.1 330.3,476.9 328.3,464.3 323.1,447.5 315.3,435.3 320.9,418.2 319.8,398.6 319.6,391.7 311.7,368.2 316.4,353.9 321.3,335.8 322.7,313.4 325.1,293.8 325.1,282.6 323.1,272.3 323.1,261.7 320.9,253.3 318.7,243.5 310.2,226.7 308.1,213.3 326.5,219.2 342.2,220.6 350.0,218.4 353.3,210.0 351.5,201.6 351.1,196.0"/>
</g>
<g fill="none" stroke="#000" stroke-linejoin="round" stroke-linecap="round">
<polyline stroke-width="9" points="350.0,206.6 355.6,211.4 356.5,216.4 360.0,225.9 351.5,230.7 358.9,235.7 351.5,242.7 346.6,247.7"/>
<polyline stroke-width="9" points="345.5,205.8 347.7,210.0"/>
<polyline stroke-width="7" points="352.2,221.2 358.9,226.7 355.6,235.1 356.7,242.1 353.3,246.3"/>
<polyline stroke-width="6" points="347.7,239.3 344.4,243.5"/>
<polyline stroke-width="8" points="359.6,504.0 361.8,507.6 362.3,511.8 365.6,516.0"/>
<polyline stroke-width="5" points="357.8,502.1 364.5,502.1"/>
<polyline stroke-width="4" points="356.7,507.6 361.2,509.0"/>
<polyline stroke-width="4.5" points="1391.5,467.1 1390.4,475.5 1390.9,486.7 1396.0,497.9 1398.2,504.8 1394.9,517.4 1396.0,528.6"/>
<polyline stroke-width="5" points="1398.2,462.9 1389.3,475.5 1388.2,486.7 1389.3,495.1 1393.8,506.2 1391.5,517.4 1392.7,528.6"/>
<polyline stroke-width="4" points="1377.0,478.3 1370.3,489.5 1375.9,495.1 1388.2,503.5"/>
<polyline stroke-width="4" points="1369.2,497.9 1380.4,506.2 1389.3,514.6"/>
<polyline stroke-width="4" points="1371.4,514.6 1380.4,523.0 1387.1,527.2"/>
<polyline stroke-width="4" points="1370.3,524.4 1384.8,531.4"/>
<polyline stroke-width="4" points="1396.0,478.3 1393.8,489.5 1398.2,497.9 1401.6,504.8"/>
<polyline stroke-width="4" points="1382.6,558.0 1398.2,556.6 1405.0,562.1"/>
<polyline stroke-width="4" points="1375.9,573.3 1387.1,577.5 1398.2,581.7 1391.5,587.3 1387.1,592.9"/>
<polyline stroke-width="3.5" points="1398.2,562.1 1400.5,571.9 1391.5,576.1"/>
<polyline stroke-width="4" points="1375.9,584.5 1382.6,587.3"/>
<polyline stroke-width="4" points="978.7,734.0 974.2,741.0 977.6,745.2"/>
<polyline stroke-width="4" points="946.3,763.4 941.8,770.4 937.3,766.2"/>
<polyline stroke-width="3.5" points="919.4,787.1 921.7,791.3"/>
<polyline stroke-width="6" points="1250.6,784.3 1251.7,789.9"/>
<polyline stroke-width="4" points="1261.8,812.3 1260.6,819.3"/>
<polyline stroke-width="5" points="1076.7,724.5 1081.6,715.6 1091.5,719.5 1092.8,727.0 1084.1,728.2 1076.7,724.5"/>
<polyline stroke-width="5" points="1092.8,729.3 1095.3,739.3 1100.7,746.6 1106.5,750.5 1098.9,756.7"/>
<polyline stroke-width="5" points="1094.0,738.2 1084.1,741.9 1076.7,749.4"/>
<polyline stroke-width="4" points="1064.9,745.2 1064.9,750.8"/>
<polyline stroke-width="6" points="1519.5,402.3 1525.8,403.9 1532.9,402.8"/>
<polyline stroke-width="5" points="1532.9,402.8 1534.3,395.8 1530.7,390.3 1526.9,390.5"/>
<polyline stroke-width="6" points="1516.4,408.4 1521.3,409.0"/>
<polyline stroke-width="6" points="1529.1,411.8 1532.5,412.1"/>
<polyline stroke-width="6" points="1184.6,306.4 1184.6,313.4"/>
<polyline stroke-width="5" points="1152.1,302.2 1143.2,310.6 1132.0,319.0"/>
<polyline stroke-width="5" points="1154.4,286.8 1157.7,291.0"/>
</g>
<g shape-rendering="crispEdges"><polygon points="1101,228 1108,222 1119,218 1121,221 1112,226 1103,230" fill="#8b1a1a"/><polygon points="1243,880 1252,878 1262,876 1262,879 1250,882 1243,883" fill="#f090b0"/><polygon points="1268,874 1280,870 1288,866 1289,869 1280,873 1269,877" fill="#f090b0"/><polygon points="1292,862 1298,856 1302,850 1304,852 1299,859 1294,864" fill="#6495ed"/><polygon points="405,612 418,611 426,613 420,616 406,615" fill="#458b00"/><polygon points="444,634 452,638 456,646 451,648 445,641" fill="#006400"/><polygon points="447,628 453,630 452,634 446,632" fill="#ff00ff"/><polygon points="424,628 428,629 428,634 424,633" fill="#006400"/><polygon points="1218,278 1232,277 1233,282 1219,283" fill="#ffff00"/></g>
</svg></body></html>
